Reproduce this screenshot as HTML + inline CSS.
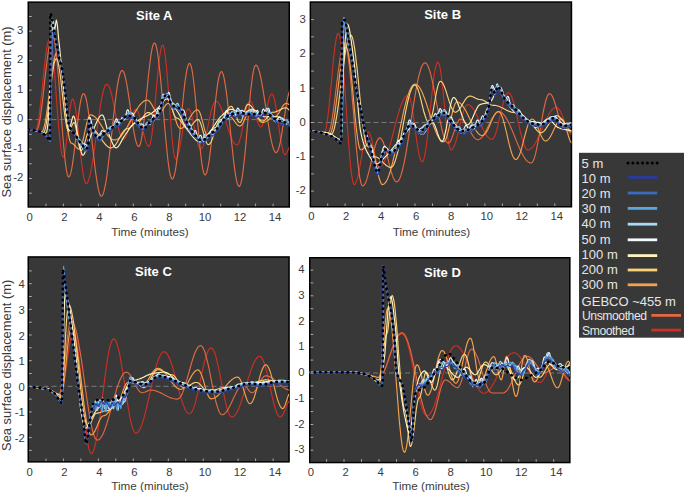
<!DOCTYPE html>
<html><head><meta charset="utf-8"><style>
html,body{margin:0;padding:0;background:#fff;width:685px;height:494px;overflow:hidden}
svg{display:block}
text{font-family:"Liberation Sans", sans-serif;}
.tl{font-size:11.3px;fill:#3a3a3a}
.ti{font-size:13px;font-weight:bold;fill:#fff}
.xl{font-size:11.7px;fill:#3c3c3c}
.yl{font-size:12.9px;fill:#3a3a3a}
.lg{font-size:13px;fill:#e6e6e6}
.lg2{font-size:12.2px;fill:#e6e6e6;letter-spacing:-0.45px}
</style></head><body>
<svg width="685" height="494" viewBox="0 0 685 494">
<clipPath id="clipA"><rect x="28.25" y="2.15" width="261.00" height="204.80"/></clipPath><rect x="28.25" y="2.15" width="261.00" height="204.80" fill="#383838" stroke="#000" stroke-width="1.5"/><g clip-path="url(#clipA)"><line x1="27.5" y1="119.6" x2="290.0" y2="119.6" stroke="#8a8a8a" stroke-width="0.8" stroke-dasharray="5,3"/><path d="M28.5 129.6 29.2 129.6 29.9 129.7 30.6 129.7 31.3 129.8 32.0 129.9 32.7 130.0 33.4 130.1 34.1 130.1 34.8 130.2 35.5 130.2 36.2 129.6 36.9 128.0 37.6 125.2 38.3 121.5 39.0 116.9 39.7 111.4 40.4 105.4 41.1 98.8 41.9 91.8 42.6 84.7 43.3 77.6 44.0 70.6 44.7 64.0 45.4 57.9 46.1 52.5 46.8 47.9 47.5 44.1 48.2 41.4 48.9 39.7 49.6 39.2 50.4 40.0 51.1 42.4 51.8 46.3 52.5 51.6 53.2 58.2 53.9 65.9 54.7 74.4 55.4 83.6 56.1 93.2 56.8 103.0 57.5 112.6 58.2 121.8 59.0 130.3 59.7 138.0 60.4 144.6 61.1 149.9 61.8 153.8 62.5 156.2 63.3 157.0 64.0 156.2 64.7 153.7 65.4 149.7 66.1 144.5 66.8 138.3 67.5 131.5 68.3 124.5 69.0 117.7 69.7 111.5 70.4 106.3 71.1 102.3 71.8 99.8 72.5 99.0 73.2 99.6 74.0 101.3 74.7 104.1 75.4 107.9 76.1 112.6 76.8 118.1 77.5 124.3 78.3 130.9 79.0 137.8 79.7 144.7 80.4 151.6 81.1 158.2 81.8 164.4 82.6 169.9 83.3 174.6 84.0 178.4 84.7 181.2 85.4 183.0 86.2 183.5 86.9 183.2 87.6 182.4 88.3 180.9 89.0 178.9 89.7 176.4 90.4 173.4 91.1 169.9 91.8 166.0 92.5 161.7 93.3 157.1 94.0 152.3 94.7 147.2 95.4 141.9 96.1 136.6 96.8 131.2 97.5 125.9 98.2 120.6 98.9 115.5 99.7 110.6 100.4 106.0 101.1 101.8 101.8 97.8 102.5 94.4 103.2 91.4 103.9 88.8 104.6 86.8 105.3 85.4 106.1 84.5 106.8 84.2 107.5 84.5 108.2 85.2 108.9 86.3 109.6 87.9 110.3 89.9 111.0 92.3 111.7 95.0 112.4 98.0 113.1 101.3 113.8 104.7 114.5 108.2 115.2 111.8 115.8 115.4 116.5 118.9 117.2 122.3 117.9 125.6 118.6 128.6 119.3 131.3 120.0 133.6 120.7 135.6 121.4 137.2 122.1 138.4 122.8 139.1 123.5 139.3 124.3 139.1 125.0 138.3 125.7 137.1 126.5 135.4 127.2 133.4 127.9 131.0 128.6 128.4 129.4 125.7 130.1 122.9 130.8 120.2 131.6 117.6 132.3 115.3 133.0 113.2 133.8 111.5 134.5 110.3 135.2 109.5 135.9 109.3 136.7 109.6 137.4 110.4 138.1 111.8 138.8 113.6 139.5 115.9 140.2 118.6 141.0 121.5 141.7 124.6 142.4 127.8 143.1 131.1 143.8 134.2 144.6 137.1 145.3 139.8 146.0 142.1 146.7 143.9 147.4 145.3 148.2 146.1 148.9 146.4 149.6 145.7 150.3 143.7 151.0 140.3 151.8 135.7 152.5 130.1 153.2 123.5 154.0 116.1 154.7 108.2 155.4 99.9 156.1 91.6 156.9 83.3 157.6 75.4 158.3 68.0 159.0 61.4 159.8 55.8 160.5 51.2 161.2 47.8 161.9 45.8 162.7 45.1 163.4 45.9 164.1 48.5 164.9 52.7 165.6 58.4 166.3 65.4 167.0 73.6 167.8 82.6 168.5 92.2 169.2 102.1 169.9 112.0 170.7 121.6 171.4 130.6 172.1 138.7 172.9 145.7 173.6 151.4 174.3 155.6 175.0 158.2 175.8 159.1 176.5 158.7 177.2 157.6 177.9 155.7 178.6 153.2 179.3 150.1 180.0 146.5 180.7 142.5 181.4 138.3 182.1 133.9 182.8 129.5 183.5 125.3 184.2 121.3 184.9 117.7 185.6 114.6 186.3 112.1 187.0 110.2 187.7 109.1 188.4 108.7 189.1 109.0 189.8 110.1 190.5 111.7 191.2 114.0 191.9 116.7 192.7 119.9 193.4 123.4 194.1 127.0 194.8 130.7 195.5 134.4 196.3 137.9 197.0 141.0 197.7 143.8 198.4 146.0 199.1 147.7 199.9 148.7 200.6 149.1 201.3 148.8 202.0 148.0 202.8 146.7 203.5 144.9 204.2 142.7 204.9 140.1 205.6 137.1 206.4 133.9 207.1 130.5 207.8 127.0 208.5 123.4 209.3 119.9 210.0 116.5 210.7 113.3 211.4 110.3 212.2 107.7 212.9 105.5 213.6 103.7 214.3 102.4 215.1 101.6 215.8 101.3 216.5 101.5 217.2 101.8 217.9 102.4 218.6 103.2 219.3 104.3 220.0 105.5 220.7 106.9 221.4 108.5 222.1 110.3 222.8 112.2 223.5 114.3 224.2 116.4 224.9 118.6 225.6 120.9 226.3 123.1 227.1 125.4 227.8 127.7 228.5 129.9 229.2 132.0 229.9 134.0 230.6 135.9 231.3 137.7 232.0 139.3 232.7 140.8 233.4 142.0 234.1 143.1 234.8 143.9 235.5 144.5 236.2 144.8 236.9 144.9 237.6 144.6 238.4 143.6 239.1 142.0 239.8 139.8 240.6 137.1 241.3 134.0 242.0 130.5 242.7 126.8 243.5 123.0 244.2 119.2 244.9 115.5 245.7 112.0 246.4 108.9 247.1 106.2 247.8 104.0 248.6 102.4 249.3 101.4 250.0 101.0 250.7 101.3 251.5 102.2 252.2 103.5 252.9 105.3 253.6 107.5 254.4 110.0 255.1 112.6 255.8 115.4 256.5 118.0 257.2 120.5 258.0 122.7 258.7 124.5 259.4 125.8 260.1 126.7 260.9 127.0 261.6 126.6 262.3 125.5 263.1 123.8 263.8 121.5 264.5 118.7 265.3 115.6 266.0 112.2 266.7 108.7 267.5 105.4 268.2 102.2 268.9 99.4 269.7 97.1 270.4 95.4 271.1 94.3 271.9 94.0 272.6 94.4 273.3 95.8 274.1 98.0 274.8 101.1 275.5 104.8 276.3 109.1 277.0 113.9 277.8 119.0 278.5 124.3 279.2 129.6 280.0 134.7 280.7 139.5 281.4 143.8 282.2 147.6 282.9 150.6 283.7 152.8 284.4 154.2 285.1 154.7 285.9 154.2 286.7 153.0 287.5 151.3 288.2 149.4 289.0 147.7 289.8 146.5 290.5 146.1" fill="none" stroke="#cd2f24" stroke-width="1.15" stroke-linejoin="round"/><path d="M28.5 129.6 29.2 129.6 29.9 129.7 30.6 129.8 31.4 129.9 32.1 130.0 32.8 130.1 33.5 130.2 34.2 130.3 34.9 130.4 35.6 130.5 36.4 130.5 37.1 130.1 37.8 128.7 38.5 126.6 39.2 123.6 39.9 119.9 40.6 115.5 41.3 110.5 42.0 105.0 42.7 99.1 43.4 92.8 44.1 86.4 44.8 80.0 45.5 73.6 46.3 67.4 47.0 61.5 47.7 55.9 48.4 50.9 49.1 46.5 49.8 42.8 50.5 39.8 51.2 37.7 51.9 36.4 52.6 35.9 53.3 36.7 54.1 38.8 54.8 42.3 55.5 47.1 56.3 53.2 57.0 60.3 57.7 68.3 58.5 77.2 59.2 86.6 59.9 96.4 60.6 106.5 61.4 116.5 62.1 126.4 62.8 135.8 63.6 144.6 64.3 152.7 65.0 159.8 65.8 165.8 66.5 170.7 67.2 174.2 68.0 176.3 68.7 177.0 69.4 176.6 70.1 175.2 70.8 172.9 71.5 169.8 72.2 165.9 72.9 161.4 73.6 156.2 74.3 150.6 75.0 144.6 75.8 138.5 76.5 132.2 77.2 126.1 77.9 120.1 78.6 114.5 79.3 109.4 80.0 104.8 80.7 100.9 81.4 97.8 82.1 95.5 82.8 94.1 83.5 93.7 84.2 94.1 85.0 95.3 85.7 97.3 86.4 100.0 87.1 103.5 87.8 107.6 88.5 112.3 89.2 117.5 89.9 123.1 90.7 129.1 91.4 135.3 92.1 141.7 92.8 148.2 93.5 154.5 94.2 160.8 94.9 166.8 95.6 172.4 96.4 177.6 97.1 182.3 97.8 186.4 98.5 189.9 99.2 192.6 99.9 194.6 100.6 195.8 101.3 196.2 102.1 195.8 102.8 194.7 103.5 192.9 104.2 190.4 104.9 187.2 105.7 183.4 106.4 179.0 107.1 174.0 107.8 168.6 108.5 162.8 109.2 156.6 110.0 150.1 110.7 143.5 111.4 136.7 112.1 129.9 112.8 123.1 113.5 116.5 114.3 110.0 115.0 103.8 115.7 98.0 116.4 92.6 117.1 87.6 117.8 83.2 118.6 79.4 119.3 76.2 120.0 73.7 120.7 71.9 121.4 70.8 122.1 70.4 122.9 70.8 123.6 71.8 124.3 73.5 125.0 75.9 125.7 78.9 126.5 82.5 127.2 86.5 127.9 90.9 128.6 95.7 129.4 100.7 130.1 105.8 130.8 111.0 131.5 116.1 132.2 121.1 133.0 125.9 133.7 130.3 134.4 134.3 135.1 137.9 135.8 140.9 136.6 143.3 137.3 145.0 138.0 146.1 138.7 146.4 139.5 145.9 140.2 144.3 140.9 141.7 141.6 138.2 142.3 133.8 143.0 128.6 143.7 122.7 144.5 116.2 145.2 109.3 145.9 102.1 146.6 94.7 147.3 87.3 148.0 80.1 148.7 73.2 149.5 66.8 150.2 60.8 150.9 55.6 151.6 51.2 152.3 47.7 153.0 45.1 153.7 43.5 154.5 43.0 155.2 43.5 155.9 45.1 156.6 47.8 157.3 51.4 158.0 56.0 158.7 61.4 159.4 67.7 160.2 74.6 160.9 82.1 161.6 90.0 162.3 98.3 163.0 106.8 163.7 115.3 164.4 123.8 165.2 132.1 165.9 140.0 166.6 147.5 167.3 154.4 168.0 160.7 168.7 166.1 169.4 170.7 170.1 174.3 170.9 177.0 171.6 178.6 172.3 179.1 173.0 178.6 173.7 177.1 174.4 174.7 175.2 171.4 175.9 167.1 176.6 162.2 177.3 156.5 178.0 150.2 178.8 143.4 179.5 136.2 180.2 128.8 180.9 121.2 181.6 113.7 182.4 106.2 183.1 99.1 183.8 92.3 184.5 86.0 185.2 80.3 186.0 75.3 186.7 71.1 187.4 67.7 188.1 65.3 188.9 63.8 189.6 63.3 190.3 63.9 191.0 65.6 191.7 68.4 192.4 72.2 193.1 77.0 193.8 82.6 194.5 89.0 195.2 96.0 195.9 103.4 196.6 111.2 197.3 119.2 198.1 127.1 198.8 134.9 199.5 142.3 200.2 149.3 200.9 155.7 201.6 161.3 202.3 166.1 203.0 169.9 203.7 172.7 204.4 174.4 205.1 175.0 205.8 174.5 206.5 173.1 207.2 170.7 207.9 167.5 208.7 163.4 209.4 158.6 210.1 153.1 210.8 147.1 211.5 140.6 212.2 133.8 212.9 126.8 213.6 119.8 214.3 112.8 215.0 106.0 215.7 99.5 216.4 93.5 217.1 88.0 217.8 83.2 218.5 79.1 219.2 75.9 220.0 73.5 220.7 72.1 221.4 71.6 222.1 72.0 222.8 73.4 223.5 75.6 224.2 78.7 224.9 82.6 225.6 87.2 226.4 92.4 227.1 98.2 227.8 104.6 228.5 111.3 229.2 118.3 229.9 125.4 230.6 132.6 231.3 139.8 232.1 146.8 232.8 153.5 233.5 159.8 234.2 165.6 234.9 170.9 235.6 175.5 236.3 179.4 237.0 182.4 237.8 184.7 238.5 186.0 239.2 186.5 239.9 185.9 240.6 184.2 241.4 181.4 242.1 177.6 242.8 172.9 243.5 167.2 244.2 160.8 245.0 153.7 245.7 146.1 246.4 138.1 247.1 129.9 247.8 121.6 248.6 113.4 249.3 105.5 250.0 97.9 250.7 90.8 251.5 84.4 252.2 78.7 252.9 73.9 253.6 70.1 254.3 67.3 255.1 65.7 255.8 65.1 256.5 65.4 257.2 66.1 257.9 67.4 258.6 69.1 259.3 71.4 260.0 74.0 260.7 77.1 261.4 80.5 262.1 84.3 262.8 88.4 263.5 92.7 264.2 97.1 264.9 101.8 265.7 106.5 266.4 111.2 267.1 115.9 267.8 120.6 268.5 125.0 269.2 129.3 269.9 133.4 270.6 137.2 271.3 140.6 272.0 143.7 272.7 146.3 273.4 148.6 274.1 150.3 274.8 151.6 275.5 152.3 276.2 152.6 276.9 152.2 277.7 151.2 278.4 149.4 279.1 147.0 279.8 144.1 280.6 140.6 281.3 136.6 282.0 132.3 282.7 127.7 283.5 123.0 284.2 118.2 284.9 113.5 285.6 109.0 286.4 104.6 287.1 100.7 287.8 97.2 288.5 94.2 289.3 91.8 290.0 90.1 290.7 89.0 291.4 88.7" fill="none" stroke="#e06943" stroke-width="1.15" stroke-linejoin="round"/><path d="M28.5 129.6 29.2 129.6 30.0 129.7 30.7 129.8 31.4 129.9 32.1 130.1 32.9 130.2 33.6 130.4 34.3 130.5 35.1 130.6 35.8 130.7 36.5 130.8 37.2 130.8 38.0 130.9 38.7 131.1 39.4 131.4 40.1 131.7 40.9 131.9 41.6 132.0 42.3 131.6 43.0 130.4 43.7 128.4 44.5 125.6 45.2 122.2 45.9 118.1 46.6 113.6 47.3 108.6 48.0 103.2 48.7 97.6 49.5 91.9 50.2 86.2 50.9 80.6 51.6 75.3 52.3 70.2 53.0 65.7 53.8 61.6 54.5 58.2 55.2 55.5 55.9 53.5 56.6 52.2 57.3 51.8 58.0 52.4 58.7 54.1 59.4 56.8 60.1 60.6 60.8 65.2 61.5 70.7 62.2 76.8 62.9 83.4 63.6 90.4 64.3 97.5 65.0 104.6 65.7 111.6 66.4 118.2 67.1 124.3 67.8 129.8 68.5 134.4 69.2 138.2 69.9 140.9 70.6 142.6 71.3 143.2 72.0 143.3 72.7 143.6 73.4 144.2 74.2 144.9 74.9 145.7 75.6 146.5 76.3 147.3 77.0 148.0 77.7 148.6 78.4 148.9 79.2 149.1 79.9 148.7 80.6 147.8 81.3 146.2 82.0 144.1 82.7 141.5 83.4 138.5 84.1 135.3 84.8 132.0 85.6 128.6 86.3 125.4 87.0 122.5 87.7 119.9 88.4 117.8 89.1 116.2 89.8 115.2 90.5 114.9 91.2 114.9 91.9 115.1 92.6 115.4 93.3 115.7 94.0 116.2 94.7 116.8 95.4 117.4 96.2 118.2 96.9 119.0 97.6 119.9 98.3 120.8 99.0 121.8 99.7 122.9 100.4 124.0 101.1 125.1 101.8 126.3 102.5 127.4 103.2 128.6 103.9 129.7 104.6 130.8 105.3 131.9 106.0 133.0 106.7 134.0 107.4 135.0 108.1 135.8 108.8 136.7 109.5 137.4 110.2 138.1 110.9 138.6 111.6 139.1 112.3 139.4 113.0 139.7 113.7 139.9 114.5 139.9 115.2 139.9 115.9 139.7 116.6 139.5 117.3 139.2 118.0 138.8 118.7 138.3 119.5 137.7 120.2 137.0 120.9 136.3 121.6 135.5 122.3 134.6 123.0 133.6 123.7 132.6 124.4 131.5 125.2 130.4 125.9 129.2 126.6 128.0 127.3 126.7 128.0 125.4 128.7 124.1 129.4 122.7 130.2 121.4 130.9 120.0 131.6 118.7 132.3 117.3 133.0 116.0 133.7 114.7 134.4 113.4 135.2 112.1 135.9 110.9 136.6 109.7 137.3 108.6 138.0 107.5 138.7 106.5 139.4 105.5 140.2 104.6 140.9 103.8 141.6 103.1 142.3 102.4 143.0 101.8 143.7 101.3 144.4 100.9 145.2 100.6 145.9 100.3 146.6 100.2 147.3 100.2 148.0 100.3 148.7 100.7 149.4 101.3 150.1 102.1 150.8 103.2 151.6 104.3 152.3 105.6 153.0 106.9 153.7 108.3 154.4 109.5 155.1 110.7 155.8 111.7 156.5 112.6 157.2 113.2 157.9 113.6 158.7 113.7 159.4 113.6 160.1 113.1 160.9 112.4 161.6 111.5 162.3 110.4 163.1 109.2 163.8 107.9 164.6 106.7 165.3 105.6 166.0 104.7 166.8 104.0 167.5 103.5 168.3 103.4 169.0 103.6 169.7 104.2 170.4 105.3 171.1 106.7 171.9 108.4 172.6 110.3 173.3 112.5 174.0 114.8 174.7 117.1 175.5 119.3 176.2 121.5 176.9 123.5 177.6 125.2 178.3 126.6 179.1 127.6 179.8 128.2 180.5 128.4 181.2 128.4 181.9 128.1 182.6 127.7 183.3 127.2 184.1 126.5 184.8 125.7 185.5 124.8 186.2 123.8 186.9 122.7 187.6 121.6 188.3 120.4 189.0 119.2 189.8 117.9 190.5 116.8 191.2 115.6 191.9 114.5 192.6 113.5 193.3 112.6 194.0 111.8 194.8 111.1 195.5 110.6 196.2 110.2 196.9 110.0 197.6 109.9 198.3 110.2 199.1 111.1 199.8 112.5 200.5 114.4 201.2 116.7 201.9 119.3 202.7 122.1 203.4 125.0 204.1 127.8 204.8 130.4 205.6 132.7 206.3 134.7 207.0 136.1 207.7 137.0 208.4 137.3 209.2 137.2 209.9 136.8 210.6 136.2 211.3 135.4 212.0 134.3 212.8 133.2 213.5 131.9 214.2 130.6 214.9 129.2 215.6 127.9 216.4 126.6 217.1 125.5 217.8 124.5 218.5 123.6 219.2 123.0 220.0 122.7 220.7 122.5 221.4 122.4 222.1 122.2 222.9 121.7 223.6 121.1 224.3 120.4 225.0 119.6 225.8 118.8 226.5 118.1 227.2 117.5 227.9 117.0 228.7 116.8 229.4 116.7 230.2 116.8 230.9 117.1 231.7 117.7 232.4 118.4 233.1 119.3 233.9 120.3 234.6 121.4 235.4 122.4 236.1 123.4 236.9 124.3 237.6 125.1 238.4 125.6 239.1 126.0 239.9 126.1 240.6 125.9 241.4 125.3 242.1 124.4 242.9 123.2 243.6 121.7 244.4 120.1 245.1 118.4 245.9 116.7 246.6 115.1 247.4 113.6 248.1 112.4 248.9 111.5 249.6 111.0 250.4 110.8 251.1 110.9 251.8 111.2 252.5 111.6 253.2 112.3 254.0 113.1 254.7 114.0 255.4 115.0 256.1 116.1 256.8 117.2 257.6 118.3 258.3 119.3 259.0 120.2 259.7 121.0 260.4 121.7 261.2 122.1 261.9 122.4 262.6 122.5 263.3 122.5 264.0 122.3 264.8 122.1 265.5 121.8 266.2 121.4 266.9 120.9 267.6 120.4 268.4 119.9 269.1 119.3 269.8 118.8 270.5 118.3 271.2 117.8 271.9 117.4 272.7 117.1 273.4 116.9 274.1 116.7 274.8 116.7 275.5 116.5 276.2 116.1 277.0 115.5 277.7 114.7 278.4 113.7 279.1 112.6 279.8 111.3 280.5 110.0 281.2 108.7 281.9 107.5 282.6 106.3 283.3 105.3 284.1 104.5 284.8 103.9 285.5 103.5 286.2 103.4 286.9 103.5 287.6 103.8 288.4 104.1 289.1 104.5 289.8 104.8 290.5 104.9" fill="none" stroke="#f5a24e" stroke-width="1.15" stroke-linejoin="round"/><path d="M28.5 129.6 29.2 129.6 30.0 129.7 30.7 129.8 31.4 129.9 32.1 130.1 32.9 130.2 33.6 130.4 34.3 130.5 35.1 130.6 35.8 130.7 36.5 130.8 37.2 130.8 38.0 130.9 38.8 131.1 39.5 131.4 40.3 131.8 41.1 132.2 41.8 132.6 42.6 132.8 43.3 132.9 44.1 132.3 44.8 130.6 45.5 127.9 46.2 124.2 46.9 119.6 47.7 114.3 48.4 108.4 49.1 102.2 49.8 95.7 50.5 89.3 51.2 83.0 52.0 77.2 52.7 71.9 53.4 67.3 54.1 63.6 54.8 60.9 55.6 59.2 56.3 58.6 57.0 59.2 57.7 61.1 58.5 64.1 59.2 68.1 59.9 73.1 60.7 78.8 61.4 85.0 62.1 91.6 62.8 98.4 63.6 105.0 64.3 111.2 65.0 116.9 65.8 121.9 66.5 125.9 67.2 128.9 68.0 130.8 68.7 131.4 69.4 130.9 70.2 129.7 70.9 127.9 71.7 126.0 72.4 124.2 73.2 123.0 73.9 122.5 74.7 123.4 75.5 125.8 76.3 129.5 77.0 134.1 77.8 139.0 78.6 143.5 79.4 147.3 80.1 149.7 80.9 150.5 81.6 150.2 82.4 149.3 83.1 147.8 83.9 145.8 84.6 143.4 85.3 140.8 86.1 138.2 86.8 135.6 87.6 133.2 88.3 131.2 89.0 129.7 89.8 128.8 90.5 128.4 91.2 128.5 91.9 128.7 92.7 128.9 93.4 129.3 94.1 129.8 94.8 130.4 95.5 131.1 96.2 131.9 96.9 132.7 97.6 133.6 98.3 134.6 99.0 135.6 99.8 136.6 100.5 137.6 101.2 138.7 101.9 139.7 102.6 140.8 103.3 141.8 104.0 142.7 104.7 143.6 105.4 144.5 106.2 145.2 106.9 145.9 107.6 146.5 108.3 147.0 109.0 147.4 109.7 147.7 110.4 147.8 111.1 147.9 111.8 147.8 112.5 147.5 113.3 147.1 114.0 146.5 114.7 145.7 115.4 144.8 116.1 143.8 116.8 142.7 117.5 141.5 118.2 140.3 118.9 139.0 119.6 137.7 120.3 136.4 121.0 135.1 121.7 133.9 122.4 132.8 123.1 131.8 123.8 130.9 124.6 130.1 125.3 129.5 126.0 129.1 126.7 128.8 127.4 128.7 128.1 128.6 128.8 128.4 129.6 128.0 130.3 127.4 131.0 126.7 131.7 126.0 132.5 125.3 133.2 124.5 133.9 123.9 134.6 123.3 135.4 122.9 136.1 122.6 136.8 122.5 137.5 122.4 138.3 122.2 139.0 121.7 139.7 121.1 140.4 120.3 141.1 119.5 141.9 118.5 142.6 117.5 143.3 116.6 144.0 115.6 144.7 114.8 145.5 114.0 146.2 113.4 146.9 112.9 147.6 112.6 148.3 112.5 149.1 112.6 149.9 112.9 150.7 113.4 151.4 114.0 152.2 114.6 153.0 115.2 153.7 115.8 154.5 116.3 155.3 116.6 156.0 116.7 156.7 116.4 157.4 115.8 158.1 114.8 158.8 113.5 159.5 111.9 160.2 110.0 160.9 108.1 161.6 106.1 162.3 104.1 163.0 102.3 163.7 100.7 164.4 99.3 165.1 98.3 165.8 97.7 166.5 97.5 167.3 97.8 168.0 98.5 168.8 99.8 169.5 101.4 170.3 103.3 171.0 105.5 171.8 107.8 172.5 110.1 173.3 112.3 174.0 114.2 174.7 115.9 175.5 117.1 176.2 117.9 177.0 118.1 177.7 118.3 178.5 118.6 179.2 119.3 180.0 120.1 180.7 121.0 181.5 122.1 182.2 123.3 183.0 124.4 183.7 125.5 184.5 126.5 185.2 127.3 186.0 127.9 186.7 128.3 187.5 128.4 188.2 128.3 189.0 128.0 189.7 127.5 190.5 126.8 191.2 125.9 192.0 125.0 192.7 124.0 193.5 123.0 194.2 122.1 195.0 121.3 195.7 120.6 196.5 120.0 197.2 119.7 198.0 119.6 198.7 119.9 199.4 120.7 200.1 122.0 200.8 123.7 201.5 125.9 202.2 128.3 202.9 130.8 203.5 133.4 204.2 136.0 204.9 138.4 205.6 140.5 206.3 142.2 207.0 143.6 207.7 144.4 208.4 144.6 209.2 144.4 209.9 143.8 210.6 142.8 211.3 141.4 212.0 139.7 212.8 137.7 213.5 135.5 214.2 133.3 214.9 131.0 215.6 128.7 216.4 126.5 217.1 124.6 217.8 122.9 218.5 121.5 219.2 120.4 220.0 119.8 220.7 119.6 221.4 119.4 222.2 118.9 222.9 118.2 223.7 117.1 224.4 115.8 225.2 114.4 225.9 113.0 226.7 111.5 227.4 110.1 228.2 108.8 228.9 107.8 229.7 107.0 230.4 106.5 231.2 106.3 231.9 106.6 232.6 107.4 233.3 108.7 234.1 110.4 234.8 112.3 235.5 114.4 236.2 116.5 237.0 118.5 237.7 120.2 238.4 121.5 239.2 122.3 239.9 122.5 240.6 122.2 241.3 121.1 242.1 119.4 242.8 117.2 243.5 114.7 244.3 112.1 245.0 109.6 245.7 107.4 246.5 105.7 247.2 104.7 247.9 104.3 248.7 104.4 249.4 104.7 250.1 105.2 250.9 105.9 251.6 106.7 252.3 107.7 253.1 108.9 253.8 110.1 254.5 111.4 255.3 112.7 256.0 114.0 256.7 115.3 257.5 116.5 258.2 117.6 258.9 118.6 259.7 119.5 260.4 120.2 261.1 120.7 261.9 121.0 262.6 121.1 263.3 121.0 264.1 120.6 264.8 120.1 265.6 119.4 266.3 118.6 267.1 117.6 267.8 116.7 268.6 115.7 269.3 114.7 270.1 113.9 270.8 113.2 271.6 112.7 272.3 112.3 273.1 112.2 273.8 112.2 274.5 112.1 275.3 111.9 276.0 111.7 276.7 111.4 277.4 111.1 278.2 110.8 278.9 110.4 279.6 110.0 280.4 109.6 281.1 109.3 281.8 108.9 282.5 108.6 283.3 108.3 284.0 108.1 284.7 107.9 285.5 107.8 286.2 107.8 286.9 108.0 287.6 108.6 288.4 109.3 289.1 110.0 289.8 110.6 290.5 110.8" fill="none" stroke="#fbd27a" stroke-width="1.15" stroke-linejoin="round"/><path d="M28.5 129.6 29.0 129.7 29.5 129.8 30.1 129.9 30.6 130.0 31.1 130.0 31.6 130.1 32.2 130.2 32.7 130.3 33.2 130.4 33.7 130.4 34.3 130.5 34.8 130.6 35.3 130.7 35.8 130.8 36.4 130.9 36.9 131.0 37.4 131.1 37.9 131.2 38.5 131.3 39.0 131.4 39.5 131.5 40.1 131.7 40.6 131.9 41.1 132.1 41.7 132.3 42.2 132.5 42.7 132.7 43.3 132.9 43.8 133.1 44.4 133.2 44.9 133.3 45.4 133.4 46.7 131.9 47.4 128.4 48.2 121.4 48.9 110.8 49.5 100.4 50.1 87.3 50.6 73.4 51.2 60.7 51.9 44.1 52.6 28.3 53.3 21.2 54.0 25.5 54.7 29.7 55.2 27.2 55.8 22.5 56.3 20.0 56.8 21.6 57.4 25.8 58.0 31.4 58.5 37.5 59.1 43.0 59.7 48.2 60.2 53.7 60.8 59.3 61.4 65.1 62.0 70.8 62.6 76.6 63.1 82.2 63.7 87.8 64.3 93.1 64.9 98.4 65.4 104.3 66.0 110.5 66.5 116.4 67.0 121.7 67.6 126.0 68.1 128.9 68.7 129.9 69.2 129.4 69.8 128.2 70.3 126.3 70.9 124.1 71.4 121.8 71.9 119.7 72.5 117.8 73.0 116.5 73.6 116.1 74.1 116.6 74.6 118.0 75.1 120.1 75.7 122.7 76.2 125.7 76.7 128.8 77.2 131.9 77.8 134.8 78.3 137.3 78.8 139.8 79.4 142.7 79.9 145.7 80.5 148.6 81.0 151.2 81.6 153.3 82.1 154.7 82.7 155.2 83.2 155.1 83.7 154.6 84.3 153.8 84.8 152.8 85.4 151.6 85.9 150.2 86.5 148.7 87.0 147.0 87.6 145.3 88.1 143.6 88.7 141.8 89.2 140.1 89.8 138.5 90.3 137.0 90.8 135.6 91.4 134.3 91.9 133.2 92.5 132.0 93.0 130.7 93.6 129.4 94.1 128.2 94.6 126.8 95.2 125.5 95.7 124.3 96.3 123.0 96.8 121.8 97.3 120.7 97.9 119.6 98.4 118.6 99.0 117.7 99.5 116.9 100.1 116.2 100.6 115.6 101.1 115.2 101.7 115.0 102.2 114.9 102.8 115.2 103.3 116.0 103.9 117.2 104.4 118.8 105.0 120.7 105.5 122.7 106.1 124.8 106.6 127.0 107.2 129.1 107.8 131.1 108.3 132.9 108.9 134.3 109.4 135.6 110.0 137.0 110.5 138.4 111.1 139.8 111.6 141.2 112.2 142.5 112.7 143.8 113.3 144.9 113.8 145.9 114.4 146.7 114.9 147.3 115.5 147.7 116.0 147.9 116.6 147.8 117.1 147.5 117.6 147.1 118.2 146.5 118.7 145.9 119.2 145.1 119.8 144.2 120.3 143.3 120.8 142.4 121.4 141.4 121.9 140.3 122.4 139.4 123.0 138.4 123.5 137.5 124.0 136.6 124.6 135.8 125.1 135.0 125.7 134.3 126.2 133.4 126.8 132.6 127.3 131.8 127.9 131.0 128.4 130.2 129.0 129.4 129.5 128.6 130.0 127.8 130.6 127.1 131.1 126.4 131.7 125.7 132.2 125.1 132.8 124.5 133.3 124.0 133.9 123.5 134.4 123.1 135.0 122.6 135.5 122.2 136.0 121.8 136.6 121.4 137.1 121.1 137.7 120.7 138.2 120.4 138.8 120.0 139.3 119.7 139.9 119.4 140.4 119.1 141.0 118.8 141.5 118.4 142.1 118.1 142.6 117.8 143.1 117.5 143.7 117.3 144.2 117.0 144.8 116.7 145.3 116.5 145.9 116.2 146.4 116.0 147.0 115.7 147.5 115.5 148.1 115.2 148.6 114.9 149.2 114.7 149.7 114.4 150.2 114.0 150.8 113.7 151.3 113.4 151.9 113.0 152.4 112.6 153.0 112.2 153.5 111.7 154.1 111.3 154.6 110.8 155.2 110.4 155.7 109.9 156.2 109.4 156.8 108.9 157.3 108.4 157.9 107.9 158.4 107.4 159.0 106.9 159.5 106.3 160.1 105.8 160.6 105.1 161.1 104.4 161.7 103.7 162.2 103.0 162.8 102.2 163.3 101.5 163.8 100.8 164.4 100.2 164.9 99.7 165.4 99.3 166.0 99.1 166.5 99.0 167.1 99.0 167.6 99.2 168.2 99.5 168.7 99.8 169.3 100.3 169.8 100.8 170.4 101.3 170.9 102.0 171.5 102.7 172.0 103.4 172.6 104.2 173.1 105.0 173.7 105.8 174.2 106.7 174.8 107.5 175.3 108.3 175.9 109.2 176.4 110.0 177.0 110.8 177.5 111.6 178.1 112.5 178.7 113.4 179.2 114.4 179.8 115.4 180.3 116.5 180.9 117.6 181.4 118.8 182.0 119.9 182.5 121.1 183.1 122.2 183.6 123.3 184.2 124.4 184.7 125.5 185.3 126.5 185.8 127.4 186.4 128.3 186.9 129.2 187.5 129.9 188.0 130.6 188.5 131.3 189.1 132.0 189.6 132.7 190.1 133.4 190.7 134.1 191.2 134.8 191.7 135.5 192.3 136.2 192.8 136.8 193.3 137.4 193.9 138.0 194.4 138.6 194.9 139.1 195.5 139.6 196.0 140.1 196.5 140.5 197.0 140.8 197.6 141.1 198.1 141.4 198.6 141.6 199.2 141.7 200.3 141.6 200.8 141.5 201.4 141.3 201.9 140.9 202.5 140.5 203.0 140.1 203.6 139.6 204.1 139.0 204.7 138.4 205.2 137.7 205.8 137.0 206.3 136.3 206.9 135.6 207.4 134.9 208.0 134.2 208.5 133.4 209.1 132.7 209.6 132.0 210.2 131.4 210.7 130.7 211.3 130.0 211.8 129.2 212.4 128.5 212.9 127.6 213.5 126.8 214.0 125.9 214.6 125.0 215.2 124.2 215.7 123.3 216.3 122.4 216.8 121.6 217.4 120.8 217.9 120.0 218.5 119.2 219.0 118.5 219.6 117.8 220.1 117.2 220.7 116.7 221.2 116.1 221.8 115.6 222.3 115.1 222.9 114.5 223.4 114.0 224.0 113.5 224.5 112.9 225.1 112.5 225.6 112.0 226.2 111.5 226.7 111.1 227.3 110.7 227.8 110.4 228.4 110.0 228.9 109.8 229.5 109.6 230.0 109.4 230.6 109.3 231.7 109.3 232.3 109.4 232.8 109.6 233.4 109.8 233.9 110.0 234.5 110.3 235.0 110.6 235.6 111.0 236.1 111.3 236.7 111.7 237.2 112.0 237.8 112.4 238.3 112.7 238.9 113.0 239.4 113.2 240.0 113.4 240.5 113.6 241.1 113.7 242.2 113.7 242.7 113.6 243.2 113.4 243.7 113.2 244.3 113.0 244.8 112.8 245.3 112.5 245.8 112.2 246.4 111.8 246.9 111.5 247.4 111.2 247.9 110.8 248.4 110.5 249.0 110.2 249.5 110.0 250.0 109.7 250.5 109.6 251.1 109.4 251.6 109.3 252.6 109.3 253.2 109.4 253.7 109.6 254.2 109.9 254.8 110.2 255.3 110.5 255.8 110.9 256.4 111.3 256.9 111.8 257.4 112.3 258.0 112.7 258.5 113.2 259.0 113.7 259.6 114.2 260.1 114.6 260.6 115.0 261.2 115.4 261.7 115.8 262.2 116.1 262.7 116.3 263.3 116.5 263.8 116.6 264.9 116.7 265.9 116.7 267.0 116.7 268.1 116.7 269.1 116.7 270.2 116.7 271.3 116.7 272.3 116.7 273.4 116.7 274.4 116.7 275.5 116.7 276.6 116.7 277.6 116.8 278.2 116.9 278.7 117.0 279.3 117.2 279.8 117.5 280.3 117.8 280.9 118.1 281.4 118.4 281.9 118.8 282.5 119.1 283.0 119.6 283.6 120.0 284.1 120.4 284.6 120.8 285.2 121.3 285.7 121.7 286.2 122.2 286.8 122.6 287.3 123.1 287.9 123.5 288.4 124.0 288.9 124.4 289.5 124.8 290.0 125.1 290.5 125.5" fill="none" stroke="#fdf5bd" stroke-width="1.15" stroke-linejoin="round"/><path d="M28.5 129.6 29.0 129.7 29.6 129.8 30.1 129.8 30.7 129.9 31.2 129.9 31.8 130.0 32.3 130.1 32.9 130.1 33.4 130.2 34.0 130.2 34.5 130.3 35.1 130.4 35.6 130.5 36.1 130.6 36.7 130.7 37.2 130.8 37.8 130.9 38.3 131.1 38.8 131.3 39.4 131.5 39.9 131.7 40.5 132.0 41.0 132.3 41.5 132.6 42.1 132.9 42.6 133.2 43.1 133.6 43.7 134.0 44.2 134.3 44.8 134.7 45.3 135.2 45.9 135.8 46.4 136.4 46.9 137.0 47.5 137.6 48.0 138.3 48.6 139.0 49.1 139.6 49.6 140.4 50.0 140.8 50.7 81.6 51.4 22.4 52.0 23.2 52.6 25.3 53.3 28.1 53.9 31.2 54.5 34.2 55.1 36.6 55.6 39.2 56.2 42.0 56.7 44.8 57.2 47.7 57.8 50.6 58.3 53.4 58.9 56.1 59.4 58.6 60.0 60.9 60.5 62.9 61.1 64.9 61.7 67.2 62.2 69.8 62.8 73.2 63.4 77.4 63.9 82.1 64.5 87.1 65.1 92.3 65.7 97.5 66.2 102.5 66.8 108.4 67.5 114.9 68.1 120.5 68.7 124.0 69.2 125.6 69.8 127.0 70.3 128.2 70.8 129.2 71.4 130.1 71.9 130.9 72.5 131.6 73.0 132.1 73.5 132.5 74.1 132.9 74.6 133.4 75.1 134.1 75.7 135.0 76.2 136.1 76.8 137.2 77.3 138.1 77.9 138.8 78.4 139.1 79.0 139.4 79.5 139.9 80.1 141.0 80.6 142.7 81.2 144.8 81.7 146.7 82.2 147.8 82.8 148.0 83.3 147.3 83.9 146.0 84.7 144.5 85.5 144.1 86.0 144.5 86.6 145.4 87.1 146.2 88.2 145.0 88.6 131.7 88.9 118.4 89.6 117.4 90.2 117.6 90.8 119.2 91.4 121.9 91.9 124.9 92.4 128.2 93.0 131.2 93.5 133.5 94.0 134.7 94.5 135.0 95.1 134.8 95.6 134.5 96.6 135.0 97.2 135.9 97.7 137.0 98.2 137.8 98.8 137.9 99.3 137.2 99.8 135.8 100.4 134.0 100.9 132.3 101.5 131.0 102.0 130.4 103.1 130.8 103.6 131.2 104.2 131.4 105.2 131.3 105.8 131.1 106.9 131.3 107.4 131.5 107.9 131.7 108.5 131.6 109.0 131.0 109.5 130.0 110.1 128.9 110.6 127.7 111.1 126.9 111.7 126.4 112.2 126.3 112.8 126.2 113.4 125.9 113.9 124.9 114.5 123.4 115.0 121.6 115.6 119.9 116.1 118.8 116.7 118.8 117.3 119.6 117.8 121.1 118.4 122.6 118.9 123.5 120.0 122.5 120.6 120.8 121.2 119.1 121.7 117.9 122.3 117.6 122.9 118.2 123.4 119.2 124.0 119.9 124.6 119.8 125.1 118.4 125.7 116.2 126.3 113.5 126.8 111.2 127.4 109.8 127.9 109.8 128.5 110.6 129.0 112.1 129.5 113.5 130.1 114.4 130.6 114.7 131.2 114.2 131.7 113.5 132.2 113.0 133.3 113.9 133.8 115.3 134.4 117.3 135.0 119.4 135.6 121.0 136.2 121.9 136.8 122.2 137.4 122.3 138.0 122.3 138.6 122.6 139.1 123.0 139.7 123.6 140.2 124.1 140.8 124.3 141.9 124.2 142.5 124.3 143.1 124.6 143.6 125.1 144.2 125.5 144.7 125.7 145.2 125.6 145.7 125.0 146.2 124.1 146.8 123.2 147.3 122.5 147.8 122.4 148.3 122.8 148.9 123.6 149.5 124.4 150.0 124.7 150.6 124.1 151.1 122.5 151.7 120.4 152.2 118.0 152.8 116.2 153.3 115.1 153.9 115.0 154.4 115.4 155.0 116.0 155.6 116.0 156.2 115.1 156.8 113.3 157.3 111.0 157.9 109.0 158.5 107.9 159.1 108.1 159.7 109.2 160.3 109.9 160.8 109.2 161.4 107.1 161.9 103.9 162.5 100.4 163.0 97.6 163.6 95.8 164.1 94.6 164.6 94.3 165.2 94.8 165.7 95.5 166.3 95.9 166.8 95.8 167.4 94.9 167.9 93.4 168.5 92.3 169.0 92.5 169.6 93.9 170.1 96.1 170.7 98.6 171.2 100.6 171.8 101.9 172.3 102.9 172.9 103.5 173.5 103.8 174.0 104.1 174.6 104.6 175.1 105.4 175.7 106.3 176.2 107.1 176.8 107.7 177.4 107.8 177.9 107.7 178.5 107.5 179.0 107.5 179.6 107.7 180.1 108.2 180.7 108.9 181.2 109.5 181.8 109.9 182.8 109.8 183.9 110.3 184.4 111.5 185.0 113.6 185.5 116.2 186.1 118.9 186.6 121.2 187.2 122.8 187.7 123.6 188.3 123.8 189.4 124.2 189.9 125.4 190.5 127.5 191.0 130.2 191.6 132.7 192.1 134.6 192.7 135.3 193.2 134.7 193.8 133.3 194.3 131.7 194.9 130.6 195.4 130.4 196.0 131.3 196.5 133.0 197.1 134.9 197.6 136.5 198.2 137.3 198.7 137.3 199.2 136.5 199.8 135.7 200.3 135.2 200.9 135.5 201.4 136.7 202.0 138.4 202.5 140.1 203.1 141.4 203.6 142.0 204.1 141.7 204.7 140.7 205.2 139.3 205.7 138.0 206.3 137.0 206.8 136.4 207.4 136.0 207.9 135.7 208.4 135.2 209.0 134.3 209.5 133.1 210.1 131.9 210.6 130.8 211.2 130.1 211.7 129.6 212.3 129.5 212.8 129.3 213.4 129.1 213.9 128.6 214.4 128.0 215.0 127.6 215.5 127.5 216.1 127.8 216.6 128.5 217.2 129.2 217.7 129.6 218.3 129.3 218.8 128.1 219.4 126.2 219.9 124.0 220.5 122.0 221.0 120.6 221.6 120.0 222.7 120.2 223.3 120.0 223.8 119.1 224.4 117.4 224.9 115.0 225.5 112.7 226.0 110.9 226.6 110.3 227.1 110.9 227.7 112.4 228.2 114.1 228.8 115.5 229.3 116.1 229.9 115.6 230.5 114.4 231.0 113.0 231.5 112.0 232.1 111.7 232.6 112.4 233.2 113.6 233.7 114.9 234.2 115.8 235.3 114.7 235.9 113.0 236.4 111.0 237.0 109.3 237.5 108.3 238.0 108.1 238.6 108.7 239.1 109.6 239.7 110.4 240.2 110.9 241.3 110.6 241.8 110.3 242.9 110.7 243.5 111.5 244.0 112.5 244.6 113.5 245.1 114.1 245.7 114.4 246.7 114.3 247.3 114.2 248.4 114.3 249.5 113.9 250.0 113.1 250.5 112.0 251.1 110.8 251.6 109.8 252.1 109.2 252.7 109.4 253.2 110.1 253.7 111.1 254.3 112.1 254.8 112.7 255.9 112.0 256.4 111.2 256.9 110.5 257.4 110.4 258.0 111.1 258.5 112.5 259.0 114.3 259.6 115.8 260.1 116.7 260.6 116.6 261.2 115.4 261.7 113.5 262.2 111.4 262.7 109.8 263.3 109.0 263.8 109.3 264.3 110.2 264.9 111.4 265.4 112.3 265.9 112.4 266.5 111.8 267.0 110.5 267.6 109.1 268.1 108.3 268.6 108.3 269.2 109.5 269.7 111.5 270.3 113.9 270.8 116.1 271.4 117.7 271.9 118.4 272.4 118.3 273.0 117.8 273.5 117.4 274.1 117.3 274.6 117.7 275.1 118.4 275.7 119.3 276.2 119.8 276.8 119.9 277.3 119.5 277.8 118.7 278.3 117.9 278.9 117.2 279.4 116.9 280.5 117.2 281.0 117.6 281.5 117.9 282.1 118.2 282.6 118.3 283.1 118.7 283.7 119.3 284.2 120.2 284.7 121.4 285.2 122.7 285.8 123.6 286.3 124.1 286.8 124.0 287.4 123.5 287.9 122.7 288.4 122.2 289.0 122.1 289.5 122.5 290.0 123.3 290.5 124.2" fill="none" stroke="#f2f9ff" stroke-width="1.1" stroke-linejoin="round"/><path d="M28.5 129.6 29.0 129.7 29.6 129.8 30.1 129.8 30.7 129.9 31.2 129.9 31.8 130.0 32.3 130.1 32.9 130.1 33.4 130.2 34.0 130.2 34.5 130.3 35.1 130.4 35.6 130.5 36.1 130.6 36.7 130.7 37.2 130.8 37.8 130.9 38.3 131.1 38.8 131.3 39.4 131.5 39.9 131.7 40.5 132.0 41.0 132.3 41.5 132.6 42.1 132.9 42.6 133.2 43.1 133.6 43.7 134.0 44.2 134.3 44.8 134.7 45.3 135.2 45.9 135.8 46.4 136.4 46.9 137.0 47.5 137.6 48.0 138.3 48.6 139.0 49.1 139.6 49.6 140.4 50.0 140.8 50.6 109.0 51.2 49.8 51.7 18.0 52.3 19.2 52.9 22.2 53.4 26.3 54.0 30.5 54.5 34.2 55.1 37.1 55.6 40.0 56.2 42.8 56.7 45.6 57.2 48.4 57.8 51.0 58.3 53.7 58.9 56.2 59.4 58.6 60.0 60.9 60.5 62.9 61.1 64.9 61.7 67.2 62.2 69.8 62.8 73.2 63.4 77.4 63.9 82.1 64.5 87.1 65.1 92.3 65.7 97.5 66.2 102.5 66.8 108.4 67.5 114.9 68.1 120.5 68.7 124.0 69.2 125.6 69.8 127.0 70.3 128.1 70.8 129.2 71.4 130.0 71.9 130.8 72.5 131.6 73.0 132.2 73.5 132.7 74.1 133.3 74.6 134.2 75.1 135.4 75.7 136.8 76.2 138.1 76.8 139.2 77.3 139.7 77.9 139.8 78.4 139.6 79.0 139.4 80.1 139.7 80.6 140.5 81.2 141.3 81.7 142.2 82.2 142.7 82.8 143.1 83.3 143.5 83.9 144.1 84.7 145.8 85.5 147.6 86.0 148.3 86.6 148.4 87.1 147.8 87.7 146.6 88.2 145.0 88.6 132.0 88.9 119.6 89.6 120.9 90.2 123.6 90.8 126.7 91.4 129.2 91.9 130.3 92.4 130.7 93.0 130.5 93.5 130.1 94.0 129.7 94.5 129.9 95.1 130.8 95.6 132.3 96.1 134.2 96.6 135.9 97.2 137.2 97.7 137.6 98.2 137.1 98.8 136.0 99.3 134.7 99.8 133.6 100.4 133.0 100.9 133.1 101.5 133.7 102.0 134.3 102.6 134.9 103.1 135.1 103.6 134.9 104.2 134.4 104.7 134.0 105.2 133.6 105.8 133.5 106.3 133.4 106.9 133.2 107.4 132.7 107.9 131.7 108.5 130.4 109.0 129.0 109.5 127.7 110.1 126.9 110.6 126.6 111.1 126.8 111.7 127.1 112.2 127.2 112.8 126.7 113.4 125.5 113.9 123.8 114.5 122.1 115.0 120.9 115.6 120.4 116.1 120.9 116.7 122.2 117.3 123.7 117.8 124.9 118.4 125.3 118.9 124.9 119.5 123.8 120.0 122.3 120.6 120.9 121.2 120.0 121.7 119.7 122.3 119.7 122.9 119.9 123.4 119.7 124.0 118.9 124.6 117.7 125.1 116.3 125.7 114.9 126.3 113.9 126.8 113.3 127.4 113.2 128.5 113.1 129.0 112.9 129.5 112.5 130.1 112.2 130.6 112.3 131.2 113.0 131.7 114.1 132.2 115.6 132.8 117.1 133.3 118.2 133.8 118.7 134.4 118.7 135.0 118.3 135.6 118.2 136.2 118.7 136.8 120.0 137.4 122.2 138.0 124.5 138.6 126.3 139.1 127.2 140.2 126.4 140.8 125.3 141.4 124.3 141.9 123.9 142.5 124.2 143.1 125.1 143.6 126.1 144.2 126.8 144.7 126.9 145.2 126.4 145.7 125.5 146.2 124.3 146.8 123.3 147.3 122.7 147.8 122.4 148.3 122.5 148.9 122.7 150.0 122.4 150.6 121.8 151.1 121.2 151.7 120.6 152.2 120.4 152.8 120.5 153.3 120.6 153.9 120.5 154.4 119.8 155.0 118.4 155.6 116.3 156.2 114.1 156.8 112.3 157.3 111.2 157.9 111.1 158.5 111.7 159.1 112.2 159.7 112.1 160.3 110.5 160.8 107.1 161.4 102.7 161.9 98.4 162.5 95.2 163.0 94.0 163.6 94.4 164.1 95.3 164.6 96.4 165.2 97.2 165.7 97.5 166.3 97.2 166.8 96.4 167.4 95.5 167.9 94.9 168.5 95.2 169.0 96.9 169.6 99.2 170.1 101.5 170.7 103.2 171.2 103.7 171.8 103.4 172.3 103.1 173.5 103.4 174.0 104.0 174.6 104.7 175.1 105.0 175.7 104.9 176.2 104.4 176.8 103.7 177.4 103.3 177.9 103.4 178.5 104.5 179.0 106.2 179.6 108.4 180.1 110.5 180.7 112.0 181.2 112.8 181.8 113.1 182.3 112.9 182.8 112.8 183.4 113.2 183.9 114.4 184.4 116.2 185.0 118.4 185.5 120.6 186.1 122.3 186.6 123.3 187.2 123.4 187.7 123.1 188.3 122.8 188.8 122.7 189.4 123.2 189.9 124.3 190.5 125.6 191.0 127.1 191.6 128.3 192.1 129.3 192.7 130.0 193.2 130.8 193.8 131.7 194.3 133.0 194.9 134.6 195.4 136.1 196.0 137.4 196.5 138.1 197.1 138.4 197.6 138.2 198.2 138.0 198.7 138.2 199.2 138.8 199.8 139.8 200.3 141.1 200.9 142.2 201.4 142.5 202.0 142.0 202.5 140.7 203.1 138.7 203.6 136.7 204.1 135.2 204.7 134.4 205.7 135.1 206.3 135.9 206.8 136.6 207.4 136.6 207.9 136.1 208.4 135.1 209.0 133.9 209.5 133.0 210.1 132.6 210.6 132.7 211.2 133.2 211.7 133.9 212.3 134.3 212.8 134.2 213.4 133.7 213.9 132.9 214.4 132.0 215.0 131.3 215.5 130.7 216.1 130.2 216.6 129.6 217.2 128.6 217.7 127.1 218.3 125.3 218.8 123.4 219.4 121.8 219.9 120.8 220.5 120.5 221.0 120.7 221.6 121.0 222.7 120.4 223.3 119.2 223.8 117.7 224.4 116.1 224.9 115.0 225.5 114.7 226.0 115.3 226.6 116.4 227.1 117.7 227.7 118.6 228.2 118.7 228.8 117.9 229.3 116.6 229.9 115.0 230.5 113.6 231.0 112.9 231.5 112.7 232.1 112.9 232.6 113.3 233.2 113.5 233.7 113.2 234.2 112.6 234.8 111.8 235.3 111.0 235.9 110.5 236.4 110.4 237.0 110.6 237.5 110.9 238.0 111.1 239.1 110.9 239.7 110.7 240.7 111.1 241.3 112.1 241.8 113.4 242.4 114.8 242.9 115.8 243.5 116.2 244.0 115.7 244.6 114.7 245.1 113.4 245.7 112.4 246.2 112.0 246.7 112.3 247.3 113.2 247.8 114.4 248.4 115.2 248.9 115.4 249.5 114.7 250.0 113.3 250.5 111.7 251.1 110.3 251.6 109.5 252.1 109.4 252.7 110.1 253.2 111.1 253.7 112.2 254.3 113.1 254.8 113.5 255.9 113.3 256.4 113.1 257.4 113.5 258.0 114.0 258.5 114.5 259.0 114.8 259.6 114.7 260.1 114.3 260.6 113.7 261.2 113.2 261.7 113.0 262.2 113.1 262.7 113.4 263.3 113.8 263.8 113.9 264.3 113.5 264.9 112.5 265.4 111.0 265.9 109.6 266.5 108.5 267.0 108.3 267.6 109.0 268.1 110.5 268.6 112.4 269.2 114.2 269.7 115.4 270.3 115.8 270.8 115.7 271.4 115.1 271.9 114.7 272.4 114.9 273.0 115.7 273.5 117.1 274.1 118.9 274.6 120.5 275.1 121.6 275.7 122.0 276.2 121.7 276.8 121.0 277.3 120.2 277.8 119.6 278.3 119.4 279.4 119.5 280.5 119.4 281.0 119.0 281.5 118.6 282.1 118.3 282.6 118.4 283.1 118.9 283.7 119.7 284.2 120.7 284.7 121.5 285.2 121.9 285.8 121.8 286.3 121.4 286.8 120.8 287.4 120.7 287.9 121.1 288.4 122.1 289.0 123.7 289.5 125.5 290.0 126.9 290.5 127.6" fill="none" stroke="#a9d9f2" stroke-width="1.1" stroke-linejoin="round"/><path d="M28.5 129.6 29.0 129.7 29.6 129.8 30.1 129.8 30.7 129.9 31.2 129.9 31.8 130.0 32.3 130.1 32.9 130.1 33.4 130.2 34.0 130.2 34.5 130.3 35.1 130.4 35.6 130.5 36.1 130.6 36.7 130.7 37.2 130.8 37.8 130.9 38.3 131.1 38.8 131.3 39.4 131.5 39.9 131.7 40.5 132.0 41.0 132.3 41.5 132.6 42.1 132.9 42.6 133.2 43.1 133.6 43.7 134.0 44.2 134.3 44.8 134.7 45.3 135.2 45.9 135.8 46.4 136.4 46.9 137.0 47.5 137.6 48.0 138.3 48.6 139.0 49.1 139.6 49.6 140.4 50.0 140.8 50.5 121.8 51.0 80.1 51.6 38.4 52.1 19.4 52.7 21.1 53.3 25.1 53.9 30.0 54.5 34.2 55.1 37.1 55.6 40.1 56.2 42.9 56.7 45.7 57.2 48.4 57.8 51.1 58.3 53.7 58.9 56.2 59.4 58.6 60.0 60.9 60.5 62.9 61.1 64.9 61.7 67.2 62.2 69.8 62.8 73.2 63.4 77.4 63.9 82.1 64.5 87.1 65.1 92.3 65.7 97.5 66.2 102.5 66.8 108.4 67.5 114.9 68.1 120.5 68.7 124.0 69.2 125.6 69.8 127.0 70.3 128.1 70.8 129.1 71.4 130.0 71.9 130.8 72.5 131.5 73.0 132.1 73.5 132.7 74.1 133.3 74.6 133.9 75.1 134.6 75.7 135.1 76.2 135.5 76.8 135.8 77.3 136.3 77.9 137.1 78.4 138.4 79.0 140.0 79.5 141.8 80.1 143.3 80.6 144.4 81.2 144.8 81.7 144.7 82.2 144.6 82.8 144.8 83.3 145.6 83.9 146.9 84.7 149.6 85.5 151.5 86.0 151.7 86.6 151.2 87.1 150.0 87.7 148.4 88.2 146.7 88.6 133.6 88.9 121.0 89.6 121.6 90.2 123.0 90.8 124.3 91.4 125.0 91.9 125.3 92.4 125.7 93.0 126.5 93.5 127.9 94.0 129.8 94.5 132.0 95.1 134.2 95.6 136.0 96.1 137.2 96.6 137.7 97.2 137.6 97.7 137.1 98.2 136.6 98.8 136.3 99.3 136.6 99.8 137.2 100.4 137.9 100.9 138.4 101.5 138.6 102.0 138.2 102.6 137.4 103.1 136.4 103.6 135.5 104.2 134.8 104.7 134.3 105.2 134.0 105.8 133.6 106.3 132.9 106.9 131.9 107.4 130.6 107.9 129.3 108.5 128.3 109.0 127.7 109.5 127.6 110.1 127.9 110.6 128.4 111.1 128.6 111.7 128.4 112.2 127.6 112.8 126.3 113.4 124.9 113.9 123.8 114.5 123.3 115.0 123.5 115.6 124.2 116.1 125.1 116.7 125.9 117.3 126.2 117.8 126.0 118.4 125.3 118.9 124.5 119.5 123.7 120.0 123.2 120.6 122.9 121.2 122.6 121.7 122.0 122.3 121.0 122.9 119.7 123.4 118.1 124.0 116.7 124.6 115.7 125.1 115.4 125.7 115.5 126.3 115.9 126.8 116.2 127.4 116.0 127.9 115.4 128.5 114.4 129.0 113.3 129.5 112.5 130.1 112.3 130.6 112.8 131.2 113.9 131.7 115.3 132.2 116.8 132.8 117.8 133.3 118.5 133.8 118.7 134.4 118.8 135.0 119.1 135.6 120.0 136.2 121.3 136.8 122.7 137.4 124.0 138.0 124.8 138.6 125.1 139.7 125.2 140.2 125.6 140.8 126.5 141.4 127.8 141.9 129.0 142.5 129.8 143.1 129.9 143.6 129.1 144.2 127.8 144.7 126.2 145.2 124.6 145.7 123.5 146.2 122.9 147.3 123.2 147.8 123.6 148.3 123.9 148.9 123.7 149.5 123.1 150.0 122.2 150.6 121.4 151.1 120.8 151.7 120.6 152.8 120.7 153.3 120.5 153.9 119.9 154.4 119.1 155.0 118.1 155.6 117.2 156.2 116.8 156.8 116.8 157.3 117.1 157.9 117.1 158.5 116.6 159.1 115.1 159.7 112.9 160.3 109.7 160.8 105.7 161.4 101.7 161.9 98.5 162.5 96.6 163.0 96.1 163.6 96.4 164.6 96.1 165.2 95.3 165.7 94.5 166.3 93.8 166.8 93.5 167.4 93.7 167.9 94.2 168.5 95.5 169.0 97.6 169.6 100.0 170.1 102.1 170.7 103.8 171.2 104.8 171.8 105.5 172.3 106.5 172.9 107.7 173.5 108.7 174.0 109.3 174.6 109.2 175.1 108.3 175.7 107.1 176.2 105.8 176.8 104.9 177.4 104.7 177.9 105.2 178.5 106.2 179.0 107.3 179.6 108.3 180.1 108.8 180.7 109.0 181.2 109.1 181.8 109.3 182.3 110.0 182.8 111.2 183.4 112.9 183.9 114.8 184.4 116.7 185.0 118.4 185.5 119.7 186.1 120.8 186.6 121.8 187.2 123.0 187.7 124.6 188.3 126.5 188.8 128.5 189.4 130.3 189.9 131.4 190.5 131.9 191.0 131.8 191.6 131.3 192.1 130.9 193.2 131.5 193.8 132.6 194.3 134.0 194.9 135.4 195.4 136.4 196.0 136.8 196.5 136.7 197.1 136.4 197.6 136.1 198.7 136.6 199.2 137.4 199.8 138.2 200.3 138.9 200.9 139.4 201.4 139.5 202.0 139.4 203.1 139.6 203.6 140.2 204.1 140.9 204.7 141.6 205.2 141.9 205.7 141.6 206.3 140.7 206.8 139.3 207.4 137.7 207.9 136.3 208.4 135.4 209.0 135.2 209.5 135.4 210.1 135.9 210.6 136.1 211.2 135.9 211.7 135.1 212.3 133.8 212.8 132.2 213.4 130.7 213.9 129.6 214.4 128.9 215.0 128.6 215.5 128.4 216.1 128.1 216.6 127.5 217.2 126.8 217.7 125.9 218.3 125.3 218.8 124.9 219.9 125.2 220.5 125.4 221.0 125.3 221.6 124.6 222.2 123.4 222.7 121.8 223.3 120.2 223.8 119.1 224.4 118.6 224.9 118.7 225.5 119.2 226.0 119.6 226.6 119.7 227.1 119.1 227.7 118.0 228.2 116.5 228.8 115.0 229.3 113.7 229.9 113.0 230.5 112.7 231.5 112.8 232.1 112.7 232.6 112.3 233.2 111.8 233.7 111.5 234.2 111.4 234.8 111.8 235.3 112.5 235.9 113.4 236.4 114.2 237.0 114.5 237.5 114.4 238.0 113.7 238.6 112.9 239.1 112.3 239.7 112.1 240.2 112.5 240.7 113.5 241.3 114.8 241.8 115.9 242.4 116.6 243.5 116.1 244.0 115.1 244.6 114.2 245.1 113.4 245.7 113.1 246.7 113.4 247.3 113.6 247.8 113.5 248.4 113.2 248.9 112.7 249.5 112.2 250.0 112.1 250.5 112.4 251.1 113.0 251.6 113.7 252.1 114.3 252.7 114.5 253.2 114.2 253.7 113.5 254.3 112.7 254.8 112.1 255.3 112.0 255.9 112.5 256.4 113.5 256.9 114.8 257.4 116.0 258.0 116.9 258.5 117.1 259.0 116.7 259.6 115.8 260.1 114.9 260.6 114.0 261.2 113.6 261.7 113.5 262.2 113.6 262.7 113.8 263.8 113.4 264.3 112.8 264.9 112.2 265.4 111.7 265.9 111.6 266.5 111.9 267.0 112.6 267.6 113.3 268.1 113.8 268.6 113.9 269.2 113.6 269.7 113.1 270.3 112.7 270.8 112.8 271.4 113.6 271.9 115.0 272.4 116.8 273.0 118.7 273.5 120.2 274.1 121.2 274.6 121.5 275.1 121.2 275.7 120.7 276.2 120.3 276.8 120.3 277.3 120.6 277.8 121.1 278.3 121.7 278.9 122.0 279.9 121.8 280.5 121.4 281.0 121.0 281.5 120.9 282.1 121.1 282.6 121.5 283.1 122.0 283.7 122.2 284.2 122.1 284.7 121.5 285.2 120.6 285.8 119.8 286.3 119.3 286.8 119.4 287.4 120.2 287.9 121.5 288.4 123.0 289.0 124.5 289.5 125.4 290.0 125.8 290.5 125.6" fill="none" stroke="#5aa6de" stroke-width="1.1" stroke-linejoin="round"/><path d="M28.5 129.6 29.0 129.7 29.6 129.8 30.1 129.8 30.7 129.9 31.2 129.9 31.8 130.0 32.3 130.1 32.9 130.1 33.4 130.2 34.0 130.2 34.5 130.3 35.1 130.4 35.6 130.5 36.1 130.6 36.7 130.7 37.2 130.8 37.8 130.9 38.3 131.1 38.8 131.3 39.4 131.5 39.9 131.7 40.5 132.0 41.0 132.3 41.5 132.6 42.1 132.9 42.6 133.2 43.1 133.6 43.7 134.0 44.2 134.3 44.8 134.7 45.3 135.2 45.9 135.8 46.4 136.4 46.9 137.0 47.5 137.6 48.0 138.3 48.6 139.0 49.1 139.6 49.6 140.4 50.0 140.8 50.6 129.5 51.2 102.4 51.8 70.2 52.4 43.1 53.0 31.8 53.5 32.2 54.0 33.1 54.5 34.2 55.1 35.7 55.6 37.8 56.2 40.4 56.7 43.4 57.2 46.6 57.8 49.9 58.3 53.0 58.9 56.0 59.4 58.6 60.0 60.9 60.5 62.9 61.1 64.9 61.7 67.2 62.2 69.8 62.8 73.2 63.4 77.4 63.9 82.1 64.5 87.1 65.1 92.3 65.7 97.5 66.2 102.5 66.8 108.4 67.5 114.9 68.1 120.5 68.7 124.0 69.2 125.6 69.8 126.9 70.3 128.1 70.8 129.1 71.4 130.0 71.9 130.7 72.5 131.4 73.0 132.2 73.5 133.0 74.1 133.9 74.6 134.7 75.1 135.5 75.7 136.2 76.2 136.8 76.8 137.6 77.3 138.5 77.9 139.7 78.4 140.9 79.0 142.0 79.5 142.9 80.1 143.5 80.6 143.9 81.2 144.3 81.7 144.9 82.2 145.9 82.8 147.1 83.3 148.3 83.9 149.2 84.7 150.0 85.5 149.4 86.0 148.3 86.6 147.1 87.1 146.2 87.7 145.6 88.2 145.0 88.6 132.6 88.9 120.6 89.6 121.9 90.2 123.6 90.8 125.3 91.4 126.6 91.9 127.6 92.4 129.0 93.0 130.6 93.5 132.5 94.0 134.2 94.5 135.7 95.1 136.7 95.6 137.4 96.1 137.7 96.6 138.0 97.2 138.3 97.7 138.9 98.2 139.6 98.8 140.3 99.3 140.9 99.8 141.0 100.4 140.6 100.9 139.6 101.5 138.3 102.0 136.9 102.6 135.7 103.1 134.9 103.6 134.4 104.2 134.1 104.7 133.8 105.2 133.3 105.8 132.5 106.3 131.6 106.9 130.6 107.4 129.9 107.9 129.6 108.5 129.7 109.0 130.1 109.5 130.5 110.1 130.8 110.6 130.6 111.1 130.0 111.7 129.0 112.2 127.9 112.8 127.0 113.4 126.5 114.5 126.8 115.0 127.3 115.6 127.5 116.1 127.4 116.7 127.0 117.3 126.4 117.8 125.8 118.4 125.4 118.9 125.3 120.0 125.2 120.6 124.8 121.2 123.8 121.7 122.3 122.3 120.5 122.9 118.8 123.4 117.5 124.0 116.8 124.6 116.6 125.1 116.7 125.7 116.9 126.8 116.6 127.4 116.0 127.9 115.5 128.5 115.1 129.0 115.1 129.5 115.3 130.1 115.8 130.6 116.4 131.2 116.8 131.7 117.0 132.2 116.9 132.8 116.7 133.8 117.0 134.4 118.1 135.0 119.8 135.6 121.8 136.2 123.6 136.8 125.0 137.4 125.8 138.0 126.0 138.6 125.9 139.1 125.9 139.7 126.4 140.2 127.2 140.8 128.2 141.4 129.1 141.9 129.6 142.5 129.8 143.1 129.5 143.6 129.0 144.2 128.6 144.7 128.3 145.2 128.1 145.7 128.0 146.2 127.7 146.8 127.2 147.3 126.2 147.8 124.9 148.3 123.5 148.9 122.0 149.5 120.9 150.0 120.3 150.6 120.2 151.1 120.5 151.7 120.9 152.2 121.1 152.8 120.9 153.3 120.5 153.9 119.8 154.4 119.2 155.0 118.8 155.6 118.7 156.2 118.8 156.8 118.8 157.3 118.5 157.9 117.7 158.5 116.3 159.1 114.7 159.7 113.2 160.3 111.4 160.8 109.0 161.4 106.4 161.9 104.0 162.5 101.9 163.0 100.5 163.6 99.5 164.1 98.2 164.6 96.8 165.2 95.6 165.7 94.9 166.3 94.5 167.4 94.5 168.5 94.9 169.0 96.1 169.6 97.9 170.1 100.0 170.7 102.2 171.2 104.0 171.8 105.5 172.3 106.9 172.9 108.0 173.5 108.5 174.6 108.1 175.1 107.6 175.7 107.4 176.2 107.5 176.8 108.1 177.4 108.9 177.9 109.7 178.5 110.3 179.0 110.6 179.6 110.7 180.7 111.0 181.2 111.7 181.8 112.9 182.3 114.3 182.8 115.8 183.4 117.0 183.9 117.8 184.4 118.3 185.0 118.5 185.5 118.8 186.1 119.3 186.6 120.2 187.2 121.6 187.7 123.3 188.3 125.1 188.8 126.7 189.4 127.9 189.9 128.7 190.5 129.3 191.0 129.9 191.6 130.7 192.1 131.7 192.7 133.0 193.2 134.2 193.8 135.2 194.3 135.8 194.9 136.2 195.4 136.4 196.0 136.7 196.5 137.3 197.1 138.3 197.6 139.7 198.2 141.2 198.7 142.5 199.2 143.4 199.8 143.7 200.3 143.5 200.9 142.8 201.4 142.1 202.0 141.4 202.5 141.1 203.1 140.9 203.6 140.8 204.1 140.6 204.7 140.1 205.2 139.3 205.7 138.3 206.3 137.4 206.8 136.6 207.4 136.2 208.4 136.4 209.0 136.7 209.5 136.6 210.1 136.1 210.6 135.2 211.2 134.0 211.7 132.9 212.3 132.0 212.8 131.7 213.4 131.8 213.9 132.1 214.4 132.6 215.0 132.7 215.5 132.6 216.1 132.0 216.6 131.3 217.2 130.6 217.7 130.0 218.3 129.6 218.8 129.3 219.4 128.8 219.9 128.1 220.5 126.9 221.0 125.3 221.6 123.5 222.2 121.9 222.7 120.6 223.3 119.9 223.8 119.7 224.4 119.8 224.9 119.9 225.5 119.6 226.0 118.9 226.6 117.8 227.1 116.6 227.7 115.5 228.2 114.6 228.8 114.2 229.9 114.3 230.5 114.4 231.0 114.3 231.5 114.0 232.1 113.5 232.6 113.3 233.2 113.3 233.7 113.8 234.2 114.7 234.8 115.7 235.3 116.6 235.9 117.0 236.4 117.0 237.0 116.4 237.5 115.7 238.0 114.9 238.6 114.4 239.1 114.3 239.7 114.5 240.2 115.0 240.7 115.3 241.3 115.4 241.8 115.2 242.4 114.8 242.9 114.3 243.5 114.1 244.6 114.4 245.1 114.9 245.7 115.3 246.2 115.4 246.7 115.0 247.3 114.3 247.8 113.4 248.4 112.6 248.9 112.2 249.5 112.4 250.0 113.0 250.5 113.8 251.1 114.7 251.6 115.3 252.1 115.6 253.2 115.3 253.7 115.1 254.8 115.3 255.3 115.7 255.9 116.2 256.4 116.5 257.4 116.1 258.0 115.4 258.5 114.8 259.0 114.4 260.1 114.7 260.6 115.4 261.2 116.1 261.7 116.6 262.7 116.2 263.3 115.4 263.8 114.5 264.3 113.6 264.9 113.0 265.4 112.8 265.9 112.9 266.5 113.2 267.0 113.5 267.6 113.6 268.1 113.5 268.6 113.4 269.7 113.8 270.3 114.6 270.8 115.8 271.4 117.1 271.9 118.3 272.4 119.2 273.0 119.5 273.5 119.5 274.1 119.2 274.6 119.0 275.1 119.1 275.7 119.6 276.2 120.4 276.8 121.4 277.3 122.4 277.8 123.0 278.3 123.4 279.4 123.2 279.9 123.1 280.5 123.2 281.0 123.5 281.5 124.0 282.1 124.4 282.6 124.5 283.1 124.3 283.7 123.6 284.2 122.8 284.7 122.0 285.2 121.4 285.8 121.3 286.3 121.7 286.8 122.5 287.4 123.3 287.9 124.1 288.4 124.5 289.5 124.2 290.0 123.9 290.5 123.6" fill="none" stroke="#3b6cc2" stroke-width="1.1" stroke-linejoin="round"/><path d="M28.5 129.6 29.0 129.7 29.6 129.8 30.1 129.8 30.7 129.9 31.2 129.9 31.8 130.0 32.3 130.1 32.9 130.1 33.4 130.2 34.0 130.2 34.5 130.3 35.1 130.4 35.6 130.5 36.1 130.6 36.7 130.7 37.2 130.8 37.8 130.9 38.3 131.1 38.8 131.3 39.4 131.5 39.9 131.7 40.5 132.0 41.0 132.3 41.5 132.6 42.1 132.9 42.6 133.2 43.1 133.6 43.7 134.0 44.2 134.3 44.8 134.7 45.3 135.2 45.9 135.8 46.4 136.4 46.9 137.0 47.5 137.6 48.0 138.3 48.6 139.0 49.1 139.6 49.6 140.4 50.0 140.8 50.6 86.0 51.2 31.2 51.8 31.3 52.3 31.6 52.9 32.1 53.4 32.7 54.0 33.4 54.5 34.2 55.1 35.4 55.6 37.4 56.2 40.0 56.7 43.0 57.2 46.2 57.8 49.6 58.3 52.9 58.9 56.0 59.4 58.6 60.0 60.9 60.5 62.9 61.1 64.9 61.7 67.2 62.2 69.8 62.8 73.2 63.4 77.4 63.9 82.1 64.5 87.1 65.1 92.3 65.7 97.5 66.2 102.5 66.8 108.4 67.5 114.9 68.1 120.5 68.7 124.0 69.2 125.6 69.8 126.9 70.3 128.1 70.8 129.1 71.4 129.9 71.9 130.7 72.5 131.4 73.0 132.1 73.5 132.7 74.1 133.3 74.6 133.9 75.1 134.7 75.7 135.6 76.2 136.6 76.8 137.7 77.3 138.8 77.9 139.8 78.4 140.5 79.0 140.9 79.5 141.2 80.1 141.5 80.6 142.0 81.2 142.9 81.7 144.1 82.2 145.5 82.8 146.7 83.3 147.8 83.9 148.6 84.7 149.7 85.5 150.5 86.0 150.7 86.6 151.0 87.1 151.2 87.7 151.0 88.2 150.1 88.6 137.2 88.9 124.6 89.6 124.7 90.2 125.5 90.8 126.7 91.4 128.1 91.9 129.4 92.4 131.0 93.0 132.5 93.5 134.0 94.0 135.2 94.5 136.1 95.1 136.8 95.6 137.5 96.1 138.3 96.6 139.2 97.2 140.1 97.7 140.9 98.2 141.3 98.8 141.2 99.3 140.6 99.8 139.6 100.4 138.3 100.9 137.1 101.5 136.1 102.0 135.5 102.6 135.3 103.6 135.1 104.2 134.9 104.7 134.4 105.2 133.7 105.8 133.1 106.3 132.7 106.9 132.5 107.4 132.6 107.9 132.9 108.5 133.2 109.5 132.9 110.1 132.3 110.6 131.4 111.1 130.6 111.7 129.8 112.2 129.4 112.8 129.3 113.4 129.3 113.9 129.4 114.5 129.2 115.0 128.8 115.6 128.2 116.1 127.5 116.7 126.9 117.3 126.5 117.8 126.5 118.4 126.6 119.5 126.4 120.0 125.7 120.6 124.7 121.2 123.3 121.7 121.9 122.3 120.7 122.9 119.8 123.4 119.2 124.0 118.8 124.6 118.4 125.1 117.9 125.7 117.2 126.3 116.5 126.8 115.9 127.4 115.7 127.9 116.0 128.5 116.6 129.0 117.3 129.5 118.0 130.1 118.4 130.6 118.6 131.2 118.4 131.7 118.1 132.2 117.9 133.3 118.2 133.8 118.8 134.4 119.7 135.0 120.8 135.6 121.9 136.2 122.7 136.8 123.5 137.4 124.3 138.0 125.2 138.6 126.4 139.1 127.7 139.7 129.1 140.2 130.3 140.8 131.0 141.4 131.3 141.9 131.3 142.5 131.0 143.1 130.7 143.6 130.5 144.2 130.4 144.7 130.2 145.2 129.9 145.7 129.2 146.2 128.3 146.8 127.2 147.3 126.0 147.8 124.9 148.3 124.2 148.9 123.8 149.5 123.7 150.6 123.7 151.1 123.4 151.7 122.7 152.2 121.7 152.8 120.6 153.3 119.6 153.9 118.9 154.4 118.5 155.0 118.3 155.6 118.2 156.2 118.1 156.8 117.7 157.3 117.1 157.9 116.3 158.5 115.7 159.1 115.2 159.7 114.9 160.3 114.1 160.8 112.1 161.4 109.3 161.9 106.2 162.5 103.3 163.0 101.3 163.6 100.1 164.1 99.1 164.6 98.5 165.2 98.1 165.7 98.0 166.3 97.8 166.8 97.5 167.4 97.1 167.9 96.5 168.5 96.7 169.0 98.0 169.6 100.1 170.1 102.7 170.7 105.1 171.2 106.7 171.8 107.4 172.3 107.8 172.9 107.7 173.5 107.3 174.0 107.0 174.6 106.8 175.1 106.9 175.7 107.2 176.2 107.7 176.8 108.2 177.4 108.5 177.9 108.5 179.0 108.6 179.6 108.9 180.1 109.7 180.7 110.9 181.2 112.5 181.8 114.2 182.3 115.7 182.8 117.1 183.4 118.2 183.9 119.1 184.4 120.0 185.0 121.0 185.5 122.2 186.1 123.6 186.6 125.0 187.2 126.2 187.7 127.3 188.3 128.0 188.8 128.5 189.4 129.0 189.9 129.7 190.5 130.6 191.0 131.9 191.6 133.2 192.1 134.5 192.7 135.5 193.2 136.1 193.8 136.3 194.9 136.3 195.4 136.5 196.0 136.9 196.5 137.6 197.1 138.5 197.6 139.2 198.2 139.7 198.7 139.9 199.8 140.0 200.3 140.1 200.9 140.4 201.4 141.1 202.0 141.9 202.5 142.6 203.1 143.0 204.1 142.7 204.7 142.0 205.2 141.2 205.7 140.5 206.3 140.0 206.8 139.8 207.4 139.7 207.9 139.5 208.4 139.3 209.0 138.8 209.5 138.0 210.1 137.2 210.6 136.4 211.2 135.9 211.7 135.8 212.3 135.8 212.8 136.0 213.9 135.7 214.4 134.9 215.0 133.9 215.5 132.7 216.1 131.6 216.6 130.7 217.2 130.1 217.7 129.5 218.3 129.0 218.8 128.2 219.4 127.1 219.9 125.8 220.5 124.4 221.0 123.1 221.6 122.2 222.2 121.7 222.7 121.5 223.8 121.6 224.4 121.4 224.9 120.8 225.5 119.9 226.0 119.0 226.6 118.2 227.1 117.6 227.7 117.4 228.8 117.4 229.3 117.3 229.9 117.0 230.5 116.6 231.0 116.1 231.5 115.7 232.1 115.7 232.6 115.9 233.2 116.5 233.7 117.1 234.2 117.6 234.8 117.8 235.3 117.7 235.9 117.3 236.4 116.7 237.0 116.1 237.5 115.8 238.0 115.7 238.6 115.8 239.1 115.9 239.7 115.8 240.2 115.5 240.7 115.0 241.3 114.3 241.8 113.7 242.4 113.4 242.9 113.5 243.5 114.0 244.0 114.6 244.6 115.3 245.1 115.7 245.7 115.8 246.2 115.7 246.7 115.3 247.3 115.1 247.8 115.0 248.4 115.2 248.9 115.5 249.5 115.9 250.0 116.2 251.1 116.0 251.6 115.6 252.1 115.3 252.7 115.1 253.2 115.2 253.7 115.7 254.3 116.4 254.8 117.1 255.3 117.7 255.9 117.9 256.4 117.8 256.9 117.5 257.4 117.1 258.0 116.7 258.5 116.5 259.6 116.8 260.1 116.9 261.2 116.5 261.7 115.9 262.2 115.2 262.7 114.6 263.3 114.2 264.3 114.4 264.9 114.9 265.4 115.3 265.9 115.7 266.5 115.8 267.0 115.6 267.6 115.4 268.1 115.2 269.2 115.5 269.7 116.1 270.3 116.8 270.8 117.4 271.4 117.8 271.9 118.0 273.0 117.9 273.5 118.1 274.1 118.6 274.6 119.4 275.1 120.4 275.7 121.5 276.2 122.5 276.8 123.1 277.3 123.3 278.3 123.3 279.4 123.5 279.9 124.0 280.5 124.5 281.0 124.9 281.5 125.2 282.6 124.9 283.1 124.4 283.7 124.0 284.2 123.8 284.7 124.0 285.2 124.4 285.8 125.1 286.3 125.7 286.8 126.1 287.4 126.3 287.9 126.1 288.4 125.8 289.0 125.4 289.5 125.2 290.5 125.6" fill="none" stroke="#2b3a98" stroke-width="1.1" stroke-linejoin="round"/><path d="M28.5 129.6 29.0 129.7 29.6 129.8 30.1 129.8 30.7 129.9 31.2 129.9 31.8 130.0 32.3 130.1 32.9 130.1 33.4 130.2 34.0 130.2 34.5 130.3 35.1 130.4 35.6 130.5 36.1 130.6 36.7 130.7 37.2 130.8 37.8 130.9 38.3 131.1 38.8 131.3 39.4 131.5 39.9 131.7 40.5 132.0 41.0 132.3 41.5 132.6 42.1 132.9 42.6 133.2 43.1 133.6 43.7 134.0 44.2 134.3 44.8 134.7 45.3 135.2 45.9 135.8 46.4 136.4 46.9 137.0 47.5 137.6 48.0 138.3 48.6 139.0 49.1 139.6 49.6 140.4 50.0 140.8 50.2 77.2 50.3 13.5 50.9 14.1 51.4 15.8 51.9 18.2 52.4 21.3 53.0 24.6 53.5 28.0 54.0 31.3 54.5 34.2 55.1 36.9 55.6 39.7 56.2 42.5 56.7 45.3 57.2 48.1 57.8 50.9 58.3 53.6 58.9 56.2 59.4 58.6 60.0 60.9 60.5 62.9 61.1 64.9 61.7 67.2 62.2 69.8 62.8 73.2 63.4 77.4 63.9 82.1 64.5 87.1 65.1 92.3 65.7 97.5 66.2 102.5 66.8 108.4 67.5 114.9 68.1 120.5 68.7 124.0 69.2 125.6 69.8 127.0 70.3 128.1 70.8 129.1 71.4 130.0 71.9 130.8 72.5 131.5 73.0 132.1 73.5 132.8 74.1 133.4 74.6 134.1 75.1 134.9 75.7 135.7 76.2 136.6 76.8 137.4 77.3 138.1 77.9 138.9 78.4 139.7 79.0 140.4 79.5 141.2 80.1 141.9 80.6 142.6 81.2 143.4 81.7 144.1 82.2 144.8 82.8 145.5 83.3 146.3 83.9 147.0 84.7 148.3 85.5 149.1 86.0 149.0 86.6 148.7 87.1 148.2 87.7 147.3 88.2 146.1 88.6 133.2 88.9 120.8 89.6 121.4 90.2 122.8 90.8 124.6 91.4 126.1 91.9 127.2 92.4 128.3 93.0 129.6 93.5 130.8 94.0 132.0 94.5 133.2 95.1 134.4 95.6 135.4 96.1 136.3 96.6 137.1 97.2 137.7 97.7 138.0 98.2 138.2 98.8 138.1 99.3 137.8 99.8 137.4 100.4 136.9 100.9 136.4 101.5 135.9 102.0 135.4 102.6 134.9 103.1 134.5 103.6 134.1 104.2 133.7 104.7 133.3 105.2 132.9 105.8 132.5 106.3 132.1 106.9 131.7 107.4 131.3 107.9 130.9 108.5 130.4 109.0 130.0 109.5 129.6 110.1 129.2 110.6 128.8 111.1 128.4 111.7 128.0 112.2 127.6 112.8 127.2 113.4 126.8 113.9 126.4 114.5 126.0 115.0 125.7 115.6 125.3 116.1 124.9 116.7 124.5 117.3 124.1 117.8 123.7 118.4 123.2 118.9 122.8 119.5 122.4 120.0 122.0 120.6 121.5 121.2 120.9 121.7 120.3 122.3 119.6 122.9 119.0 123.4 118.3 124.0 117.7 124.6 117.1 125.1 116.6 125.7 116.1 126.3 115.8 126.8 115.6 127.4 115.5 128.5 115.5 129.0 115.6 129.5 115.7 130.1 115.8 130.6 116.0 131.2 116.1 131.7 116.3 132.2 116.5 132.8 116.8 133.3 117.0 133.8 117.2 134.4 117.7 135.0 118.3 135.6 119.1 136.2 120.1 136.8 121.1 137.4 122.1 138.0 123.0 138.6 123.7 139.1 124.4 139.7 125.1 140.2 125.9 140.8 126.6 141.4 127.3 141.9 127.9 142.5 128.3 143.1 128.6 143.6 128.7 144.2 128.6 144.7 128.3 145.2 127.8 145.7 127.2 146.2 126.5 146.8 125.7 147.3 125.0 147.8 124.3 148.3 123.7 148.9 123.2 149.5 122.6 150.0 122.1 150.6 121.5 151.1 121.0 151.7 120.5 152.2 119.9 152.8 119.4 153.3 118.9 153.9 118.3 154.4 117.8 155.0 117.2 155.6 116.7 156.2 116.2 156.8 115.8 157.3 115.3 157.9 114.8 158.5 114.2 159.1 113.4 159.7 112.5 160.3 110.9 160.8 108.2 161.4 105.0 161.9 101.8 162.5 99.2 163.0 97.8 163.6 97.2 164.1 96.6 164.6 96.1 165.2 95.6 165.7 95.3 166.3 95.0 166.8 94.7 167.4 94.6 168.5 95.2 169.0 96.8 169.6 99.0 170.1 101.3 170.7 103.2 171.2 104.3 171.8 104.8 172.3 105.2 172.9 105.5 173.5 105.8 174.0 106.1 174.6 106.3 175.1 106.5 175.7 106.6 176.2 106.8 176.8 107.0 177.4 107.2 177.9 107.4 178.5 107.6 179.0 107.9 179.6 108.3 180.1 108.7 180.7 109.3 181.2 110.0 181.8 111.0 182.3 112.1 182.8 113.2 183.4 114.5 183.9 115.8 184.4 117.2 185.0 118.5 185.5 119.7 186.1 120.9 186.6 122.0 187.2 123.0 187.7 124.0 188.3 125.0 188.8 126.0 189.4 127.0 189.9 128.0 190.5 128.9 191.0 129.8 191.6 130.6 192.1 131.4 192.7 132.2 193.2 132.9 193.8 133.5 194.3 134.2 194.9 134.8 195.4 135.5 196.0 136.1 196.5 136.8 197.1 137.4 197.6 138.0 198.2 138.5 198.7 139.0 199.2 139.4 199.8 139.8 200.3 140.1 200.9 140.3 201.4 140.5 202.5 140.5 203.1 140.3 203.6 140.1 204.1 139.7 204.7 139.4 205.2 138.9 205.7 138.5 206.3 138.0 206.8 137.5 207.4 137.0 207.9 136.5 208.4 136.1 209.0 135.7 209.5 135.3 210.1 134.8 210.6 134.4 211.2 134.0 211.7 133.5 212.3 133.1 212.8 132.6 213.4 132.1 213.9 131.6 214.4 131.1 215.0 130.6 215.5 130.1 216.1 129.6 216.6 129.0 217.2 128.4 217.7 127.8 218.3 127.1 218.8 126.4 219.4 125.6 219.9 124.8 220.5 124.0 221.0 123.1 221.6 122.3 222.2 121.6 222.7 120.9 223.3 120.2 223.8 119.6 224.4 119.0 224.9 118.5 225.5 117.9 226.0 117.3 226.6 116.8 227.1 116.3 227.7 115.8 228.2 115.4 228.8 115.0 229.3 114.7 229.9 114.5 230.5 114.3 231.0 114.2 231.5 114.1 232.1 114.0 232.6 113.9 233.2 113.8 233.7 113.7 234.2 113.6 234.8 113.6 235.3 113.5 235.9 113.4 237.0 113.3 238.0 113.2 239.1 113.2 240.2 113.1 241.3 113.1 242.4 113.2 242.9 113.2 243.5 113.3 244.0 113.4 244.6 113.5 245.1 113.6 245.7 113.7 246.2 113.8 246.7 113.9 247.3 114.0 247.8 114.1 248.4 114.2 248.9 114.2 250.0 114.3 251.1 114.3 252.1 114.2 253.2 114.2 254.3 114.1 255.3 114.0 256.4 113.9 257.4 113.7 258.5 113.6 259.6 113.5 260.6 113.4 261.7 113.3 262.7 113.2 263.8 113.2 264.9 113.1 265.9 113.2 266.5 113.3 267.0 113.4 267.6 113.6 268.1 113.9 268.6 114.2 269.2 114.6 269.7 115.0 270.3 115.4 270.8 115.8 271.4 116.2 271.9 116.7 272.4 117.1 273.0 117.5 273.5 118.0 274.1 118.4 274.6 118.7 275.1 119.1 275.7 119.4 276.2 119.6 276.8 119.8 277.3 120.0 277.8 120.2 278.3 120.4 278.9 120.6 279.4 120.8 279.9 121.0 280.5 121.1 281.0 121.3 281.5 121.5 282.1 121.6 282.6 121.8 283.1 121.9 283.7 122.1 284.2 122.2 284.7 122.4 285.2 122.5 285.8 122.7 286.3 122.8 286.8 122.9 287.4 123.1 287.9 123.2 288.4 123.4 289.0 123.5 289.5 123.7 290.0 123.9 290.5 124.0" fill="none" stroke="#000" stroke-width="2.6" stroke-dasharray="0.5,5.0" stroke-linecap="round"/></g><path d="M46.0,206.2v-2.6 M63.4,206.2v-2.6 M80.9,206.2v-2.6 M98.4,206.2v-2.6 M115.8,206.2v-2.6 M133.3,206.2v-2.6 M150.8,206.2v-2.6 M168.3,206.2v-2.6 M185.7,206.2v-2.6 M203.2,206.2v-2.6 M220.7,206.2v-2.6 M238.1,206.2v-2.6 M255.6,206.2v-2.6 M273.1,206.2v-2.6 M29.0,193.2h2.8 M29.0,178.5h2.8 M29.0,163.8h2.8 M29.0,149.1h2.8 M29.0,134.3h2.8 M29.0,119.6h2.8 M29.0,104.9h2.8 M29.0,90.1h2.8 M29.0,75.4h2.8 M29.0,60.7h2.8 M29.0,45.9h2.8 M29.0,31.2h2.8 M29.0,16.5h2.8" stroke="#a8a8a8" stroke-width="1" fill="none"/><text x="23.4" y="33.8" text-anchor="end" class="tl">3</text><text x="23.4" y="63.2" text-anchor="end" class="tl">2</text><text x="23.4" y="92.7" text-anchor="end" class="tl">1</text><text x="23.4" y="122.1" text-anchor="end" class="tl">0</text><text x="23.4" y="151.6" text-anchor="end" class="tl">-1</text><text x="23.4" y="181.1" text-anchor="end" class="tl">-2</text><text x="29.6" y="220.6" text-anchor="middle" class="tl">0</text><text x="64.5" y="220.6" text-anchor="middle" class="tl">2</text><text x="99.5" y="220.6" text-anchor="middle" class="tl">4</text><text x="134.4" y="220.6" text-anchor="middle" class="tl">6</text><text x="169.4" y="220.6" text-anchor="middle" class="tl">8</text><text x="205.1" y="220.6" text-anchor="middle" class="tl">10</text><text x="240.0" y="220.6" text-anchor="middle" class="tl">12</text><text x="275.0" y="220.6" text-anchor="middle" class="tl">14</text><text x="154.3" y="19.6" text-anchor="middle" class="ti">Site A</text><text x="150.0" y="235.8" text-anchor="middle" class="xl">Time (minutes)</text><clipPath id="clipB"><rect x="310.35" y="2.05" width="261.10" height="204.70"/></clipPath><rect x="310.35" y="2.05" width="261.10" height="204.70" fill="#383838" stroke="#000" stroke-width="1.5"/><g clip-path="url(#clipB)"><line x1="309.6" y1="122.5" x2="572.2" y2="122.5" stroke="#8a8a8a" stroke-width="0.8" stroke-dasharray="5,3"/><path d="M310.2 130.7 310.9 130.7 311.6 130.8 312.3 130.8 313.0 130.9 313.7 131.0 314.4 131.2 315.1 131.3 315.8 131.4 316.5 131.6 317.2 131.8 317.9 131.9 318.6 132.1 319.3 132.2 320.0 132.4 320.7 132.5 321.4 132.6 322.1 132.7 322.8 132.7 323.5 132.8 324.2 132.8 324.9 132.2 325.6 130.4 326.3 127.4 327.0 123.3 327.7 118.2 328.4 112.3 329.1 105.6 329.8 98.4 330.5 90.8 331.3 83.1 332.0 75.3 332.7 67.7 333.4 60.5 334.1 53.8 334.8 47.9 335.5 42.8 336.2 38.7 336.9 35.8 337.6 33.9 338.3 33.3 339.0 34.1 339.8 36.4 340.5 40.2 341.2 45.3 341.9 51.8 342.7 59.4 343.4 68.1 344.1 77.5 344.8 87.6 345.6 98.2 346.3 109.0 347.0 119.7 347.7 130.3 348.4 140.4 349.2 149.8 349.9 158.5 350.6 166.1 351.3 172.6 352.1 177.7 352.8 181.5 353.5 183.8 354.2 184.6 354.9 184.3 355.6 183.3 356.3 181.7 357.1 179.6 357.8 176.9 358.5 173.8 359.2 170.3 359.9 166.5 360.6 162.4 361.3 158.3 362.0 154.2 362.7 150.2 363.4 146.4 364.1 142.9 364.8 139.8 365.5 137.1 366.3 135.0 367.0 133.4 367.7 132.4 368.4 132.1 369.1 132.5 369.8 133.6 370.5 135.4 371.3 137.9 372.0 140.9 372.7 144.2 373.4 147.8 374.2 151.4 374.9 155.0 375.6 158.3 376.3 161.3 377.0 163.7 377.8 165.6 378.5 166.7 379.2 167.1 379.9 167.0 380.6 166.7 381.3 166.1 382.0 165.4 382.7 164.5 383.4 163.4 384.1 162.1 384.8 160.6 385.5 158.9 386.2 157.1 386.9 155.1 387.6 153.0 388.3 150.7 389.0 148.4 389.8 145.9 390.5 143.4 391.2 140.7 391.9 138.1 392.6 135.4 393.3 132.6 394.0 129.9 394.7 127.1 395.4 124.4 396.1 121.7 396.8 119.1 397.5 116.6 398.2 114.1 398.9 111.8 399.6 109.5 400.3 107.4 401.0 105.4 401.7 103.6 402.4 101.9 403.1 100.4 403.8 99.1 404.5 98.0 405.2 97.1 405.9 96.3 406.6 95.8 407.3 95.5 408.0 95.4 408.7 95.8 409.4 97.0 410.2 99.0 410.9 101.8 411.6 105.1 412.3 109.1 413.0 113.6 413.7 118.4 414.4 123.5 415.1 128.7 415.8 133.9 416.5 139.0 417.2 143.8 417.9 148.2 418.6 152.2 419.4 155.6 420.1 158.3 420.8 160.3 421.5 161.5 422.2 161.9 422.9 161.4 423.6 159.9 424.3 157.4 425.0 154.0 425.8 149.8 426.5 144.7 427.2 139.0 427.9 132.8 428.6 126.1 429.3 119.1 430.0 112.0 430.8 104.9 431.5 98.0 432.2 91.3 432.9 85.1 433.6 79.4 434.3 74.3 435.0 70.1 435.8 66.6 436.5 64.2 437.2 62.6 437.9 62.1 438.6 62.8 439.4 64.8 440.1 68.0 440.8 72.4 441.5 77.8 442.3 84.1 443.0 91.0 443.7 98.4 444.5 106.0 445.2 113.7 445.9 121.1 446.6 128.0 447.4 134.3 448.1 139.7 448.8 144.1 449.6 147.3 450.3 149.3 451.0 149.9 451.7 149.7 452.5 149.1 453.2 148.1 453.9 146.6 454.7 144.9 455.4 142.8 456.1 140.4 456.8 137.7 457.6 134.9 458.3 131.9 459.0 128.8 459.8 125.8 460.5 122.7 461.2 119.7 461.9 116.9 462.7 114.2 463.4 111.9 464.1 109.7 464.9 108.0 465.6 106.5 466.3 105.5 467.1 104.9 467.8 104.7 468.5 104.7 469.2 105.0 469.9 105.3 470.6 105.8 471.3 106.5 472.0 107.3 472.7 108.2 473.5 109.2 474.2 110.3 474.9 111.5 475.6 112.9 476.3 114.3 477.0 115.7 477.7 117.2 478.4 118.8 479.1 120.4 479.8 122.0 480.5 123.6 481.3 125.2 482.0 126.7 482.7 128.2 483.4 129.7 484.1 131.1 484.8 132.4 485.5 133.7 486.2 134.8 486.9 135.8 487.6 136.7 488.3 137.5 489.1 138.1 489.8 138.6 490.5 139.0 491.2 139.2 491.9 139.3 492.6 139.1 493.3 138.4 494.0 137.4 494.7 135.9 495.5 134.1 496.2 131.9 496.9 129.4 497.6 126.7 498.3 123.8 499.0 120.7 499.7 117.6 500.5 114.4 501.2 111.2 501.9 108.2 502.6 105.3 503.3 102.5 504.0 100.1 504.7 97.9 505.5 96.1 506.2 94.6 506.9 93.5 507.6 92.9 508.3 92.7 509.0 92.8 509.7 93.4 510.4 94.3 511.1 95.5 511.8 97.0 512.5 98.9 513.2 101.0 513.9 103.4 514.6 106.1 515.3 108.9 516.0 111.8 516.7 114.9 517.4 118.1 518.1 121.3 518.8 124.5 519.5 127.7 520.2 130.8 520.9 133.7 521.6 136.5 522.3 139.2 523.0 141.6 523.7 143.7 524.4 145.6 525.1 147.1 525.8 148.3 526.5 149.2 527.2 149.8 527.9 149.9 528.6 149.9 529.3 149.7 530.0 149.4 530.7 148.9 531.4 148.3 532.1 147.6 532.9 146.8 533.6 145.9 534.3 144.8 535.0 143.7 535.7 142.5 536.4 141.2 537.1 139.8 537.8 138.3 538.6 136.8 539.3 135.2 540.0 133.6 540.7 132.0 541.4 130.3 542.1 128.7 542.8 127.0 543.5 125.3 544.2 123.7 545.0 122.1 545.7 120.5 546.4 119.0 547.1 117.6 547.8 116.2 548.5 114.9 549.2 113.6 549.9 112.5 550.7 111.5 551.4 110.5 552.1 109.7 552.8 109.0 553.5 108.4 554.2 108.0 554.9 107.7 555.6 107.5 556.4 107.4 557.1 107.5 557.8 108.0 558.5 108.6 559.2 109.6 560.0 110.7 560.7 112.1 561.4 113.6 562.1 115.3 562.9 117.1 563.6 119.0 564.3 121.0 565.0 122.9 565.7 124.8 566.5 126.6 567.2 128.3 567.9 129.8 568.6 131.2 569.4 132.4 570.1 133.3 570.8 134.0 571.5 134.4 572.2 134.5" fill="none" stroke="#cd2f24" stroke-width="1.15" stroke-linejoin="round"/><path d="M310.2 130.7 310.9 130.7 311.6 130.8 312.3 130.8 313.0 130.9 313.7 131.0 314.4 131.1 315.1 131.2 315.8 131.4 316.5 131.5 317.2 131.7 317.9 131.8 318.6 132.0 319.3 132.2 320.0 132.4 320.7 132.5 321.4 132.7 322.1 132.8 322.8 133.0 323.5 133.1 324.2 133.2 324.9 133.3 325.6 133.4 326.3 133.4 327.0 133.5 327.7 133.5 328.4 133.1 329.1 131.9 329.8 130.1 330.5 127.5 331.2 124.2 331.9 120.3 332.6 115.9 333.3 111.0 334.0 105.7 334.7 100.2 335.4 94.4 336.1 88.5 336.8 82.7 337.6 76.9 338.3 71.3 339.0 66.1 339.7 61.2 340.4 56.8 341.1 52.9 341.8 49.6 342.5 47.0 343.2 45.1 343.9 44.0 344.6 43.6 345.3 44.2 346.1 45.8 346.8 48.6 347.5 52.4 348.2 57.2 348.9 62.9 349.7 69.4 350.4 76.6 351.1 84.5 351.8 92.8 352.5 101.4 353.3 110.3 354.0 119.3 354.7 128.1 355.4 136.8 356.1 145.1 356.9 152.9 357.6 160.1 358.3 166.7 359.0 172.4 359.7 177.2 360.5 181.0 361.2 183.7 361.9 185.4 362.6 186.0 363.3 185.7 364.0 185.1 364.8 184.1 365.5 182.7 366.2 181.0 366.9 178.9 367.6 176.6 368.3 173.9 369.0 171.1 369.7 168.2 370.5 165.1 371.2 161.9 371.9 158.8 372.6 155.7 373.3 152.8 374.0 149.9 374.7 147.3 375.5 145.0 376.2 142.9 376.9 141.2 377.6 139.8 378.3 138.8 379.0 138.1 379.7 137.9 380.4 138.1 381.1 138.7 381.8 139.6 382.6 140.9 383.3 142.5 384.0 144.4 384.7 146.5 385.4 148.9 386.1 151.5 386.8 154.2 387.5 157.0 388.2 159.9 388.9 162.8 389.6 165.6 390.3 168.3 391.0 170.9 391.7 173.3 392.4 175.4 393.1 177.3 393.9 178.9 394.6 180.2 395.3 181.1 396.0 181.7 396.7 181.8 397.4 181.7 398.1 181.1 398.8 180.2 399.5 178.9 400.2 177.3 400.9 175.4 401.6 173.1 402.3 170.5 403.0 167.6 403.8 164.4 404.5 161.0 405.2 157.3 405.9 153.4 406.6 149.3 407.3 145.1 408.0 140.7 408.7 136.2 409.4 131.6 410.1 127.0 410.8 122.3 411.5 117.7 412.2 113.0 412.9 108.4 413.7 103.9 414.4 99.6 415.1 95.3 415.8 91.2 416.5 87.3 417.2 83.7 417.9 80.2 418.6 77.1 419.3 74.2 420.0 71.6 420.7 69.3 421.4 67.3 422.1 65.7 422.9 64.5 423.6 63.6 424.3 63.0 425.0 62.8 425.7 63.0 426.4 63.5 427.1 64.4 427.8 65.7 428.5 67.3 429.2 69.2 429.9 71.4 430.6 73.9 431.3 76.7 432.0 79.7 432.7 82.9 433.4 86.3 434.1 89.8 434.8 93.5 435.5 97.2 436.2 101.0 436.9 104.9 437.7 108.7 438.4 112.4 439.1 116.1 439.8 119.6 440.5 123.0 441.2 126.2 441.9 129.2 442.6 132.0 443.3 134.5 444.0 136.7 444.7 138.6 445.4 140.2 446.1 141.5 446.8 142.4 447.5 142.9 448.2 143.1 448.9 142.9 449.7 142.3 450.4 141.3 451.1 139.9 451.8 138.3 452.5 136.4 453.2 134.4 454.0 132.2 454.7 130.0 455.4 127.8 456.1 125.7 456.8 123.8 457.6 122.2 458.3 120.9 459.0 119.9 459.7 119.3 460.4 119.1 461.1 119.2 461.8 119.4 462.5 119.8 463.2 120.3 463.9 121.0 464.6 121.9 465.3 122.8 466.0 123.8 466.7 125.0 467.4 126.2 468.1 127.4 468.8 128.7 469.5 130.0 470.2 131.3 470.9 132.5 471.6 133.7 472.3 134.9 473.0 135.9 473.7 136.9 474.4 137.7 475.1 138.4 475.8 138.9 476.5 139.3 477.2 139.6 477.9 139.7 478.6 139.6 479.3 139.3 480.0 139.0 480.7 138.4 481.4 137.8 482.1 137.0 482.8 136.1 483.5 135.1 484.2 133.9 484.9 132.7 485.6 131.4 486.3 130.1 487.0 128.6 487.7 127.2 488.4 125.8 489.1 124.3 489.8 122.9 490.5 121.5 491.2 120.1 491.9 118.8 492.6 117.6 493.3 116.5 494.0 115.4 494.7 114.5 495.4 113.7 496.1 113.1 496.8 112.5 497.5 112.2 498.2 111.9 498.9 111.9 499.6 111.9 500.3 112.1 501.0 112.4 501.7 112.8 502.4 113.3 503.1 114.0 503.8 114.7 504.5 115.6 505.2 116.5 505.9 117.6 506.6 118.7 507.3 120.0 508.0 121.3 508.7 122.7 509.4 124.1 510.1 125.7 510.8 127.2 511.5 128.9 512.2 130.5 512.9 132.2 513.6 133.9 514.3 135.7 515.0 137.4 515.7 139.2 516.4 140.9 517.1 142.6 517.8 144.3 518.5 146.0 519.3 147.6 520.0 149.2 520.7 150.7 521.4 152.2 522.1 153.5 522.8 154.9 523.5 156.1 524.2 157.2 524.9 158.3 525.6 159.3 526.3 160.1 527.0 160.9 527.7 161.5 528.4 162.0 529.1 162.4 529.8 162.7 530.5 162.9 531.2 163.0 531.9 162.7 532.6 162.0 533.3 160.7 534.0 159.0 534.7 156.8 535.4 154.3 536.1 151.3 536.8 148.0 537.5 144.4 538.3 140.6 539.0 136.6 539.7 132.5 540.4 128.3 541.1 124.2 541.8 120.0 542.5 116.0 543.2 112.2 543.9 108.7 544.6 105.4 545.3 102.4 546.0 99.8 546.7 97.7 547.4 95.9 548.1 94.7 548.8 93.9 549.5 93.7 550.3 93.9 551.0 94.4 551.7 95.3 552.4 96.5 553.1 98.0 553.8 99.8 554.5 101.9 555.3 104.1 556.0 106.5 556.7 109.0 557.4 111.5 558.1 114.1 558.8 116.5 559.5 118.9 560.3 121.2 561.0 123.2 561.7 125.0 562.4 126.5 563.1 127.7 563.8 128.6 564.5 129.2 565.3 129.4 566.0 129.4 566.7 129.7 567.4 130.1 568.1 130.5 568.8 131.1 569.5 131.6 570.2 132.1 570.9 132.5 571.6 132.7 572.2 132.8" fill="none" stroke="#e06943" stroke-width="1.15" stroke-linejoin="round"/><path d="M310.2 130.7 310.9 130.7 311.6 130.8 312.3 130.8 313.0 130.9 313.8 131.0 314.5 131.2 315.2 131.3 315.9 131.5 316.6 131.7 317.3 131.9 318.0 132.1 318.7 132.3 319.5 132.5 320.2 132.7 320.9 132.9 321.6 133.2 322.3 133.4 323.0 133.6 323.7 133.7 324.4 133.9 325.1 134.1 325.9 134.2 326.6 134.3 327.3 134.4 328.0 134.5 328.7 134.5 329.4 134.5 330.1 134.1 330.9 132.9 331.6 130.9 332.3 128.1 333.0 124.7 333.7 120.6 334.5 116.0 335.2 110.9 335.9 105.4 336.6 99.7 337.4 93.8 338.1 87.8 338.8 81.9 339.5 76.1 340.2 70.7 341.0 65.6 341.7 60.9 342.4 56.8 343.1 53.4 343.8 50.7 344.6 48.7 345.3 47.4 346.0 47.0 346.7 47.6 347.4 49.3 348.1 52.1 348.8 56.0 349.5 60.8 350.3 66.4 351.0 72.8 351.7 79.7 352.4 87.0 353.1 94.6 353.8 102.3 354.5 109.9 355.2 117.3 355.9 124.2 356.6 130.6 357.3 136.2 358.0 141.0 358.7 144.8 359.4 147.7 360.2 149.4 360.9 149.9 361.6 149.8 362.3 149.5 363.0 148.9 363.8 148.2 364.5 147.4 365.2 146.5 366.0 145.6 366.7 144.8 367.4 144.1 368.1 143.5 368.9 143.2 369.6 143.1 370.3 143.4 371.0 144.3 371.8 145.9 372.5 147.9 373.2 150.5 373.9 153.5 374.6 156.7 375.3 160.2 376.1 163.8 376.8 167.4 377.5 170.9 378.2 174.2 378.9 177.2 379.7 179.7 380.4 181.8 381.1 183.3 381.8 184.3 382.5 184.6 383.2 184.5 383.9 184.1 384.6 183.5 385.4 182.7 386.1 181.7 386.8 180.4 387.5 178.9 388.2 177.3 388.9 175.4 389.6 173.3 390.3 171.1 391.0 168.6 391.7 166.0 392.4 163.3 393.1 160.4 393.8 157.5 394.5 154.4 395.2 151.2 395.9 147.9 396.7 144.6 397.4 141.2 398.1 137.8 398.8 134.3 399.5 130.9 400.2 127.5 400.9 124.1 401.6 120.8 402.3 117.5 403.0 114.3 403.7 111.2 404.4 108.2 405.1 105.4 405.8 102.6 406.5 100.0 407.2 97.6 408.0 95.4 408.7 93.3 409.4 91.4 410.1 89.7 410.8 88.2 411.5 87.0 412.2 85.9 412.9 85.1 413.6 84.6 414.3 84.2 415.0 84.1 415.7 84.2 416.5 84.4 417.2 84.9 417.9 85.5 418.6 86.3 419.3 87.2 420.0 88.3 420.8 89.6 421.5 91.0 422.2 92.5 422.9 94.2 423.6 96.0 424.3 97.8 425.0 99.8 425.8 101.9 426.5 104.0 427.2 106.2 427.9 108.4 428.6 110.6 429.3 112.9 430.1 115.2 430.8 117.4 431.5 119.6 432.2 121.8 432.9 123.9 433.6 126.0 434.4 128.0 435.1 129.8 435.8 131.6 436.5 133.3 437.2 134.8 437.9 136.2 438.7 137.5 439.4 138.6 440.1 139.5 440.8 140.3 441.5 140.9 442.2 141.4 443.0 141.6 443.7 141.7 444.4 141.4 445.1 140.6 445.8 139.3 446.5 137.5 447.2 135.3 447.9 132.7 448.6 129.8 449.3 126.7 450.0 123.5 450.7 120.2 451.4 116.9 452.1 113.8 452.8 110.9 453.5 108.3 454.2 106.1 454.9 104.3 455.6 103.0 456.2 102.2 456.9 101.9 457.7 102.0 458.4 102.2 459.1 102.5 459.8 102.9 460.5 103.5 461.2 104.2 461.9 105.0 462.6 105.9 463.3 106.8 464.0 107.9 464.7 109.1 465.5 110.3 466.2 111.6 466.9 113.0 467.6 114.4 468.3 115.8 469.0 117.3 469.7 118.7 470.4 120.2 471.1 121.6 471.8 123.1 472.5 124.5 473.2 125.8 474.0 127.1 474.7 128.4 475.4 129.5 476.1 130.6 476.8 131.6 477.5 132.5 478.2 133.3 478.9 134.0 479.6 134.5 480.3 135.0 481.0 135.3 481.7 135.5 482.5 135.5 483.2 135.4 483.9 135.0 484.6 134.4 485.4 133.6 486.1 132.6 486.8 131.4 487.6 130.0 488.3 128.5 489.0 126.9 489.8 125.2 490.5 123.5 491.2 121.8 492.0 120.1 492.7 118.5 493.4 117.0 494.1 115.7 494.9 114.5 495.6 113.4 496.3 112.6 497.1 112.0 497.8 111.6 498.5 111.5 499.2 111.7 500.0 112.3 500.7 113.4 501.4 114.7 502.1 116.5 502.9 118.6 503.6 120.9 504.3 123.5 505.0 126.3 505.7 129.3 506.5 132.4 507.2 135.5 507.9 138.7 508.6 141.7 509.3 144.7 510.1 147.5 510.8 150.2 511.5 152.5 512.2 154.6 512.9 156.3 513.7 157.7 514.4 158.7 515.1 159.3 515.8 159.5 516.5 159.4 517.2 158.8 517.9 157.9 518.6 156.6 519.4 155.0 520.1 153.1 520.8 151.0 521.5 148.6 522.2 146.1 522.9 143.4 523.6 140.7 524.3 137.9 525.0 135.2 525.7 132.5 526.4 130.0 527.1 127.6 527.8 125.5 528.5 123.6 529.2 122.0 529.9 120.7 530.7 119.8 531.4 119.3 532.1 119.1 532.8 119.2 533.5 119.7 534.2 120.4 534.9 121.4 535.6 122.6 536.3 124.0 537.0 125.6 537.7 127.4 538.4 129.1 539.1 131.0 539.9 132.7 540.6 134.5 541.3 136.0 542.0 137.5 542.7 138.7 543.4 139.7 544.1 140.4 544.8 140.9 545.5 141.0 546.2 140.9 546.9 140.6 547.6 140.1 548.3 139.4 549.1 138.6 549.8 137.5 550.5 136.4 551.2 135.1 551.9 133.7 552.6 132.3 553.3 130.8 554.0 129.3 554.7 127.8 555.4 126.4 556.1 125.0 556.8 123.7 557.5 122.6 558.2 121.5 558.9 120.7 559.6 120.0 560.4 119.5 561.1 119.2 561.8 119.1 562.5 119.4 563.3 120.3 564.0 121.7 564.8 123.6 565.5 125.9 566.3 128.4 567.0 131.1 567.8 133.7 568.5 136.3 569.3 138.6 570.0 140.5 570.8 141.9 571.5 142.8 572.2 143.1" fill="none" stroke="#f5a24e" stroke-width="1.15" stroke-linejoin="round"/><path d="M310.2 130.7 310.9 130.7 311.6 130.8 312.3 130.8 313.0 130.9 313.7 131.0 314.4 131.1 315.1 131.2 315.8 131.4 316.5 131.5 317.2 131.7 317.9 131.9 318.6 132.0 319.3 132.2 320.0 132.4 320.7 132.6 321.4 132.8 322.1 133.0 322.8 133.2 323.5 133.4 324.2 133.6 324.9 133.7 325.6 133.9 326.3 134.0 327.0 134.1 327.7 134.3 328.4 134.3 329.1 134.4 329.8 134.5 330.5 134.5 331.2 134.5 331.9 134.2 332.6 133.2 333.3 131.5 334.1 129.2 334.8 126.3 335.5 122.9 336.2 118.9 337.0 114.5 337.7 109.6 338.4 104.5 339.1 99.0 339.9 93.4 340.6 87.7 341.3 81.9 342.0 76.1 342.8 70.5 343.5 65.1 344.2 59.9 344.9 55.1 345.7 50.6 346.4 46.7 347.1 43.2 347.8 40.3 348.6 38.0 349.3 36.4 350.0 35.4 350.7 35.0 351.4 35.5 352.2 36.9 352.9 39.3 353.6 42.5 354.3 46.6 355.0 51.4 355.7 56.8 356.4 62.9 357.2 69.4 357.9 76.3 358.6 83.5 359.3 90.8 360.0 98.0 360.7 105.2 361.4 112.1 362.1 118.6 362.9 124.7 363.6 130.2 364.3 135.0 365.0 139.0 365.7 142.3 366.4 144.6 367.1 146.0 367.9 146.5 368.5 146.8 369.2 147.5 369.9 148.6 370.6 150.1 371.3 151.7 372.0 153.2 372.7 154.7 373.4 155.8 374.1 156.5 374.8 156.8 375.6 156.9 376.3 157.0 377.0 157.3 377.8 157.6 378.5 158.1 379.2 158.6 380.0 159.2 380.7 159.9 381.4 160.6 382.1 161.4 382.9 162.1 383.6 162.9 384.3 163.6 385.1 164.3 385.8 165.0 386.5 165.6 387.3 166.1 388.0 166.6 388.7 167.0 389.5 167.2 390.2 167.4 390.9 167.4 391.6 167.3 392.3 166.7 393.0 165.9 393.7 164.7 394.4 163.1 395.1 161.3 395.8 159.1 396.5 156.7 397.2 154.0 398.0 151.1 398.7 147.9 399.4 144.6 400.1 141.1 400.8 137.5 401.5 133.8 402.2 130.1 402.9 126.3 403.6 122.5 404.3 118.7 405.0 115.0 405.7 111.4 406.4 107.9 407.1 104.6 407.8 101.5 408.5 98.5 409.2 95.9 409.9 93.4 410.6 91.3 411.3 89.4 412.0 87.9 412.7 86.7 413.4 85.8 414.1 85.3 414.8 85.1 415.6 85.3 416.3 86.0 417.0 87.2 417.7 88.7 418.4 90.6 419.1 92.8 419.8 95.3 420.5 98.0 421.2 100.9 421.9 103.8 422.6 106.7 423.3 109.6 424.0 112.3 424.8 114.8 425.5 117.0 426.2 118.9 426.9 120.5 427.6 121.6 428.3 122.3 429.0 122.5 429.7 122.1 430.4 120.9 431.1 119.0 431.8 116.5 432.5 113.4 433.3 109.8 434.0 105.9 434.7 101.9 435.4 97.9 436.1 94.0 436.8 90.5 437.5 87.4 438.2 84.8 438.9 82.9 439.6 81.7 440.4 81.3 441.1 81.5 441.8 82.0 442.5 82.9 443.2 84.0 443.9 85.5 444.6 87.2 445.3 89.1 446.0 91.1 446.7 93.3 447.4 95.6 448.1 97.9 448.8 100.2 449.5 102.4 450.3 104.5 451.0 106.4 451.7 108.1 452.4 109.5 453.1 110.7 453.8 111.5 454.5 112.0 455.2 112.2 455.9 112.1 456.7 111.8 457.4 111.3 458.1 110.7 458.9 109.8 459.6 108.9 460.3 107.8 461.1 106.6 461.8 105.4 462.5 104.1 463.3 102.9 464.0 101.7 464.7 100.5 465.5 99.4 466.2 98.4 466.9 97.6 467.7 97.0 468.4 96.5 469.1 96.2 469.9 96.1 470.6 96.1 471.3 96.3 472.0 96.5 472.8 96.7 473.5 97.1 474.2 97.4 474.9 97.8 475.7 98.2 476.4 98.5 477.1 98.9 477.8 99.1 478.6 99.3 479.3 99.5 480.0 99.5 480.7 99.6 481.4 99.7 482.2 99.9 482.9 100.1 483.6 100.5 484.3 100.8 485.0 101.3 485.7 101.7 486.5 102.2 487.2 102.7 487.9 103.2 488.6 103.6 489.3 104.0 490.0 104.4 490.8 104.7 491.5 105.0 492.2 105.2 492.9 105.3 493.6 105.3 494.3 105.4 495.1 105.4 495.8 105.5 496.5 105.7 497.2 105.8 497.9 106.0 498.6 106.3 499.3 106.5 500.0 106.8 500.7 107.2 501.4 107.5 502.2 107.8 502.9 108.2 503.6 108.6 504.3 109.0 505.0 109.3 505.7 109.7 506.4 110.1 507.1 110.4 507.8 110.8 508.6 111.1 509.3 111.4 510.0 111.6 510.7 111.9 511.4 112.1 512.1 112.2 512.8 112.4 513.5 112.5 514.2 112.5 514.9 112.6 515.7 112.6 516.4 112.8 517.1 113.2 517.8 113.6 518.5 114.2 519.3 114.8 520.0 115.5 520.7 116.3 521.4 117.1 522.1 117.9 522.8 118.7 523.6 119.5 524.3 120.2 525.0 120.9 525.7 121.5 526.4 121.9 527.1 122.2 527.9 122.4 528.6 122.5 529.3 122.6 530.0 122.8 530.7 123.3 531.5 123.8 532.2 124.5 532.9 125.4 533.6 126.2 534.3 127.2 535.0 128.1 535.8 129.1 536.5 129.9 537.2 130.7 537.9 131.4 538.6 132.0 539.4 132.4 540.1 132.7 540.8 132.8 541.5 132.7 542.2 132.4 542.9 132.0 543.7 131.4 544.4 130.7 545.1 129.8 545.8 128.9 546.5 127.8 547.2 126.6 548.0 125.4 548.7 124.2 549.4 123.0 550.1 121.8 550.8 120.7 551.5 119.6 552.2 118.6 553.0 117.7 553.7 117.0 554.4 116.4 555.1 116.0 555.8 115.7 556.5 115.6 557.2 115.7 558.0 116.0 558.7 116.3 559.4 116.9 560.1 117.5 560.8 118.3 561.5 119.2 562.2 120.2 563.0 121.2 563.7 122.3 564.4 123.4 565.1 124.5 565.8 125.5 566.5 126.6 567.2 127.5 568.0 128.4 568.7 129.2 569.4 129.8 570.1 130.4 570.8 130.8 571.5 131.0 572.2 131.1" fill="none" stroke="#fbd27a" stroke-width="1.15" stroke-linejoin="round"/><path d="M310.2 130.7 311.3 130.9 312.3 131.0 313.4 131.1 314.4 131.2 315.5 131.3 316.6 131.4 317.6 131.5 318.7 131.6 319.7 131.7 320.8 131.8 321.8 131.9 322.9 132.0 324.0 132.2 324.5 132.3 325.0 132.3 325.6 132.4 326.1 132.5 326.6 132.6 327.1 132.7 327.7 132.8 328.2 132.9 328.7 133.1 329.3 133.3 329.8 133.5 330.4 133.8 330.9 134.1 331.4 134.4 332.0 134.7 332.5 135.1 333.0 135.4 333.6 135.8 334.1 136.2 334.7 136.6 335.2 136.9 335.7 137.3 336.3 137.6 336.8 138.0 337.3 138.3 337.9 138.6 338.4 138.8 339.0 139.1 339.5 139.3 340.0 139.4 340.6 139.5 341.1 139.6 342.2 124.4 342.8 93.9 343.4 71.1 344.0 60.3 344.5 50.4 345.1 41.6 345.7 34.4 346.3 28.8 346.8 25.3 347.4 24.1 347.9 24.5 348.5 25.7 349.0 27.6 349.6 30.1 350.1 33.1 350.6 36.5 351.2 40.3 351.7 44.3 352.3 48.4 352.8 52.6 353.3 56.7 353.9 60.8 354.4 65.1 355.0 70.3 355.5 76.1 356.0 82.4 356.6 89.0 357.1 95.8 357.6 102.5 358.2 109.0 358.7 115.1 359.3 120.8 359.8 125.7 360.3 129.8 360.9 132.8 361.4 135.2 361.9 137.4 362.5 139.5 363.0 141.4 363.6 143.2 364.1 144.8 364.6 146.3 365.2 147.8 365.7 149.1 366.2 150.3 366.8 151.4 367.3 152.4 367.9 153.4 368.4 154.3 368.9 155.2 369.5 156.2 370.0 157.1 370.6 158.0 371.1 158.8 371.7 159.6 372.2 160.4 372.8 161.1 373.3 161.7 373.9 162.3 374.4 162.8 374.9 163.1 375.5 163.4 376.0 163.6 376.6 163.7 377.7 163.5 378.2 163.3 378.8 163.0 379.3 162.6 379.9 162.2 380.4 161.8 381.0 161.3 381.5 160.7 382.0 160.2 382.6 159.6 383.1 159.0 383.7 158.5 384.2 157.9 384.8 157.3 385.3 156.8 385.9 156.3 386.4 155.7 387.0 155.1 387.5 154.5 388.1 153.9 388.6 153.2 389.1 152.6 389.7 151.9 390.2 151.2 390.8 150.5 391.3 149.8 391.9 149.2 392.4 148.5 393.0 147.8 393.5 147.2 394.1 146.5 394.6 145.9 395.1 145.3 395.6 144.7 396.2 144.1 396.7 143.4 397.2 142.8 397.7 142.2 398.2 141.6 398.8 141.0 399.3 140.4 399.8 139.8 400.3 139.2 400.9 138.6 401.4 138.0 401.9 137.4 402.4 136.8 403.0 136.2 403.5 135.6 404.0 135.1 404.5 134.5 405.1 133.9 405.6 133.3 406.2 132.6 406.7 131.9 407.3 131.2 407.8 130.4 408.4 129.7 408.9 129.1 409.5 128.4 410.0 127.8 410.5 127.3 411.1 126.8 411.6 126.5 412.2 126.2 412.7 126.0 413.3 125.9 413.8 126.0 414.4 126.3 414.9 126.7 415.5 127.3 416.0 127.9 416.5 128.6 417.1 129.4 417.6 130.2 418.2 131.0 418.7 131.8 419.3 132.5 419.8 133.2 420.4 133.7 420.9 134.1 421.5 134.4 422.0 134.5 422.6 134.4 423.1 134.1 423.7 133.7 424.2 133.1 424.8 132.4 425.3 131.7 425.9 130.8 426.4 129.9 427.0 129.0 427.5 128.0 428.1 127.1 428.6 126.2 429.2 125.3 429.7 124.6 430.3 123.9 430.8 123.3 431.4 122.9 431.9 122.6 432.5 122.5 433.0 122.7 433.5 123.2 434.1 123.9 434.6 124.9 435.1 126.1 435.6 127.5 436.2 129.0 436.7 130.5 437.2 132.1 437.7 133.7 438.3 135.3 438.8 136.7 439.3 138.1 439.8 139.3 440.4 140.3 440.9 141.0 441.4 141.5 441.9 141.7 442.5 141.4 443.0 140.7 443.5 139.5 444.1 137.9 444.6 135.9 445.1 133.6 445.6 131.1 446.2 128.4 446.7 125.6 447.2 122.6 447.8 119.6 448.3 116.6 448.8 113.6 449.4 110.8 449.9 108.0 450.4 105.5 451.0 103.3 451.5 101.3 452.0 99.7 452.6 98.5 453.1 97.7 453.6 97.5 454.2 97.6 454.7 97.9 455.2 98.5 455.8 99.2 456.3 100.1 456.8 101.2 457.3 102.4 457.9 103.7 458.4 105.0 458.9 106.5 459.5 108.0 460.0 109.6 460.5 111.2 461.1 112.8 461.6 114.3 462.1 115.8 462.7 117.3 463.2 118.7 463.7 120.0 464.2 121.2 464.8 122.2 465.3 123.2 465.8 123.9 466.4 124.4 466.9 124.8 467.4 124.9 468.0 124.8 468.5 124.5 469.0 124.0 469.6 123.4 470.1 122.7 470.7 121.8 471.2 120.8 471.7 119.7 472.3 118.5 472.8 117.3 473.4 116.1 473.9 114.8 474.4 113.6 475.0 112.3 475.5 111.1 476.1 110.0 476.6 108.9 477.1 107.9 477.7 106.9 478.2 106.2 478.8 105.5 479.3 105.0 479.8 104.7 480.4 104.4 480.9 104.2 481.5 104.1 482.0 103.9 482.5 103.8 483.1 103.7 483.6 103.6 484.2 103.5 484.7 103.4 485.3 103.3 485.8 103.2 486.3 103.1 486.9 103.0 487.4 102.8 488.0 102.7 488.5 102.5 489.1 102.4 489.6 102.2 490.1 101.9 490.7 101.5 491.2 100.9 491.8 100.2 492.3 99.2 492.9 98.1 493.4 97.0 494.0 95.8 494.5 94.6 495.1 93.3 495.6 92.2 496.1 91.1 496.7 90.2 497.2 89.4 497.8 88.7 498.3 88.3 498.9 88.2 499.4 88.3 500.0 88.7 500.5 89.3 501.1 90.0 501.6 90.9 502.2 92.0 502.7 93.1 503.2 94.4 503.8 95.6 504.3 96.9 504.9 98.2 505.4 99.5 506.0 100.7 506.5 101.8 507.1 102.8 507.6 103.6 508.2 104.4 508.7 105.2 509.3 106.0 509.9 106.8 510.4 107.5 511.0 108.3 511.6 109.0 512.1 109.7 512.7 110.3 513.3 110.9 513.8 111.5 514.4 112.0 514.9 112.6 515.5 113.0 516.0 113.4 516.5 113.8 517.1 114.2 517.6 114.6 518.1 114.9 518.7 115.2 519.2 115.6 519.7 115.9 520.3 116.2 520.8 116.5 521.3 116.8 521.9 117.1 522.4 117.4 522.9 117.7 523.5 118.1 524.0 118.4 524.5 118.7 525.1 119.1 525.6 119.4 526.1 119.8 526.7 120.3 527.2 120.7 527.7 121.2 528.3 121.7 528.8 122.2 529.3 122.7 529.9 123.2 530.4 123.7 530.9 124.1 531.5 124.6 532.0 125.1 532.5 125.5 533.1 125.9 533.6 126.3 534.1 126.6 534.7 126.9 535.2 127.2 535.7 127.4 536.2 127.5 536.8 127.6 537.9 127.6 538.4 127.4 539.0 127.1 539.5 126.7 540.1 126.2 540.6 125.6 541.2 125.0 541.7 124.4 542.3 123.7 542.8 123.0 543.4 122.4 543.9 121.7 544.5 121.1 545.0 120.5 545.6 120.1 546.1 119.6 546.7 119.3 547.2 119.1 547.8 119.1 548.3 119.1 548.9 119.3 549.4 119.6 550.0 119.9 550.6 120.3 551.1 120.8 551.7 121.4 552.2 121.9 552.8 122.5 553.3 123.2 553.9 123.8 554.4 124.4 555.0 125.0 555.5 125.6 556.1 126.1 556.6 126.6 557.2 127.0 557.7 127.4 558.3 127.6 558.8 127.8 559.3 128.0 559.9 128.2 560.4 128.4 561.0 128.6 561.5 128.7 562.0 128.9 562.6 129.0 563.1 129.1 563.6 129.3 564.2 129.4 564.7 129.5 565.3 129.6 565.8 129.7 566.3 129.8 566.9 129.9 567.4 130.0 567.9 130.1 568.5 130.3 569.0 130.4 569.6 130.5 570.1 130.6 570.6 130.7 571.2 130.8 571.7 130.9 572.2 131.1" fill="none" stroke="#fdf5bd" stroke-width="1.15" stroke-linejoin="round"/><path d="M310.2 130.7 310.7 130.8 311.3 130.9 311.8 131.0 312.3 131.1 312.9 131.2 313.4 131.3 313.9 131.4 314.5 131.5 315.0 131.6 315.5 131.6 316.0 131.7 316.6 131.8 317.1 131.9 317.6 132.0 318.2 132.1 318.7 132.2 319.2 132.3 319.8 132.4 320.3 132.5 320.8 132.6 321.4 132.7 321.9 132.9 322.4 133.0 323.0 133.1 323.5 133.3 324.0 133.4 324.5 133.6 325.0 133.7 325.6 133.9 326.1 134.1 326.6 134.3 327.1 134.5 327.7 134.7 328.2 134.9 328.7 135.1 329.2 135.3 329.8 135.5 330.3 135.8 330.8 136.0 331.3 136.2 331.9 136.5 332.4 136.8 332.9 137.0 333.4 137.3 334.0 137.6 334.5 138.0 335.1 138.4 335.7 138.9 336.2 139.5 336.8 140.1 337.3 140.7 337.9 141.3 338.5 141.9 339.0 142.4 339.6 142.8 340.2 143.1 340.7 143.3 341.3 143.4 341.8 124.9 342.3 83.7 342.9 41.9 343.4 21.3 343.7 20.1 343.9 19.6 344.5 19.9 345.0 20.9 345.5 22.5 346.1 24.6 346.6 27.1 347.1 30.0 347.7 33.2 348.2 36.6 348.7 40.1 349.3 43.7 349.8 47.3 350.4 50.8 350.9 54.2 351.4 57.3 352.0 60.5 352.5 63.9 353.0 67.4 353.6 71.1 354.1 74.8 354.7 78.5 355.2 82.2 355.7 85.7 356.3 89.1 356.8 92.2 357.4 95.1 357.9 97.7 358.5 100.1 359.0 102.3 359.6 104.6 360.2 107.1 360.7 109.7 361.3 112.5 361.8 115.4 362.3 118.3 362.9 121.2 363.4 124.2 364.0 127.0 364.5 129.4 365.1 131.3 365.6 132.7 366.2 133.7 366.7 134.7 367.3 135.9 367.9 137.6 368.4 139.7 369.0 142.0 369.5 144.0 370.1 145.5 370.6 146.4 371.2 146.9 371.7 147.8 372.3 149.7 372.8 152.7 373.4 156.6 373.9 160.9 374.4 165.0 375.0 168.2 375.5 170.1 376.1 171.0 376.7 171.2 377.2 171.0 377.8 170.5 378.4 169.7 378.9 168.4 379.4 166.6 380.0 164.3 380.5 161.4 381.1 158.1 381.6 154.7 382.2 151.8 382.7 149.5 383.3 147.7 383.8 146.6 384.4 146.2 384.9 146.3 385.5 146.7 386.0 147.4 386.6 147.9 387.1 148.5 387.7 149.1 388.2 150.0 388.7 151.0 389.3 152.0 389.8 152.7 390.4 153.1 390.9 152.9 391.5 152.2 392.0 151.4 392.5 150.5 393.1 150.0 393.6 149.6 394.2 149.4 394.7 149.1 395.3 148.3 395.8 147.0 396.4 145.2 396.9 143.3 397.5 141.6 398.0 140.5 398.6 140.3 399.1 140.8 399.6 141.8 400.2 142.6 400.7 142.7 401.3 141.8 401.9 140.0 402.4 137.8 403.0 135.5 403.5 133.8 404.1 132.9 404.6 132.7 405.2 132.8 405.7 132.6 406.3 131.8 406.8 130.0 407.4 127.4 407.9 124.6 408.5 122.0 409.0 120.4 409.6 119.9 410.1 120.4 410.7 121.6 411.2 122.9 411.7 123.9 412.2 124.3 412.7 124.1 413.3 123.7 413.8 123.4 414.3 123.5 414.8 124.2 415.4 125.5 415.9 127.1 416.4 128.7 416.9 130.0 417.5 130.7 418.0 130.8 418.5 130.4 419.0 129.8 419.6 129.1 420.2 128.6 420.8 128.3 421.4 128.1 422.0 127.8 422.6 127.2 423.2 126.4 423.8 125.8 424.3 125.2 424.8 124.9 425.3 124.7 426.4 124.5 426.9 124.1 427.4 123.4 427.9 122.5 428.5 121.5 429.0 120.8 429.5 120.5 430.0 120.7 430.6 121.1 431.1 121.6 431.6 121.7 432.1 121.3 432.7 120.2 433.2 118.6 433.7 116.8 434.2 115.1 434.8 114.0 435.3 113.6 435.8 113.8 436.3 114.4 436.9 114.9 437.9 114.1 438.4 112.7 439.0 111.0 439.5 109.4 440.0 108.5 441.1 109.5 441.6 111.0 442.1 112.8 442.6 114.2 443.1 114.8 443.7 114.6 444.2 113.8 444.7 112.6 445.3 111.7 445.8 111.5 446.4 112.2 446.9 113.6 447.5 115.3 448.0 116.8 448.6 117.8 449.1 118.0 449.7 117.7 450.2 117.2 450.8 116.9 451.3 117.1 451.9 117.9 452.4 119.1 452.9 120.4 453.5 121.7 454.0 122.9 454.5 123.7 455.1 124.3 455.6 125.0 456.2 125.7 456.7 126.7 457.2 127.8 457.8 128.9 458.3 129.8 458.8 130.2 459.4 130.4 459.9 130.2 460.4 130.0 461.0 129.9 461.6 130.0 462.2 130.2 463.4 129.7 463.9 128.9 464.5 127.7 465.0 126.5 465.5 125.6 466.0 125.3 466.6 125.6 467.1 126.4 467.6 127.6 468.1 128.6 468.7 129.0 469.2 128.9 469.7 128.1 470.2 127.0 470.7 126.0 471.3 125.5 471.8 125.7 472.3 126.5 472.8 127.7 473.4 128.8 473.9 129.2 474.4 128.8 475.0 127.4 475.5 125.3 476.0 123.0 476.6 121.2 477.1 120.1 477.7 120.0 478.2 120.5 478.8 121.3 479.3 121.8 479.8 121.6 480.4 120.7 480.9 119.2 481.5 117.6 482.0 116.4 482.5 115.8 483.1 116.0 483.6 116.7 484.2 117.6 484.7 118.2 485.8 117.3 486.4 115.4 486.9 113.1 487.5 110.5 488.0 108.2 488.6 106.0 489.1 103.3 489.7 99.5 490.2 95.2 490.8 91.0 491.3 87.5 491.9 85.7 492.4 85.5 493.0 86.0 493.5 87.1 494.1 88.4 494.7 89.4 495.2 89.9 495.7 88.8 496.3 86.6 496.8 84.4 497.3 83.8 497.8 84.7 498.4 86.2 498.9 87.8 499.5 89.4 500.0 90.5 500.6 91.0 501.1 91.1 501.7 91.0 502.2 91.2 502.8 91.9 503.3 93.3 503.9 95.1 504.4 97.0 504.9 98.4 505.5 99.0 506.0 98.7 506.6 97.8 507.1 96.8 507.7 96.3 508.2 96.6 508.8 97.9 509.3 100.0 509.9 102.4 510.4 104.5 511.0 105.8 511.5 106.1 512.0 105.7 512.6 105.1 513.1 104.8 513.7 105.0 514.2 106.0 514.8 107.4 515.3 108.8 515.9 110.0 516.4 110.6 517.5 110.3 518.0 109.9 518.6 109.8 519.1 110.0 519.7 110.7 520.2 111.6 520.8 112.7 521.3 113.7 521.9 114.4 522.4 115.0 523.0 115.4 523.5 115.8 524.1 116.3 524.6 116.8 525.1 117.4 525.7 118.0 526.2 118.5 526.8 119.0 527.3 119.5 527.9 119.8 528.4 120.2 529.0 120.5 529.5 120.8 530.1 121.1 530.6 121.3 531.2 121.5 531.7 121.6 532.8 121.5 533.9 121.5 534.4 121.6 535.0 121.8 535.5 122.1 536.1 122.3 536.6 122.4 537.7 122.4 538.2 122.4 539.3 122.4 539.9 122.6 540.4 122.8 541.0 123.1 541.5 123.2 542.6 123.0 543.1 122.6 543.6 122.1 544.2 121.6 544.7 121.1 545.2 120.8 545.8 120.5 546.3 120.3 546.8 120.0 547.4 119.7 547.9 119.3 548.4 118.8 548.9 118.2 549.5 117.6 550.0 117.2 550.5 116.9 551.1 116.7 552.1 116.7 553.2 116.7 553.7 116.6 554.3 116.5 555.3 116.6 555.9 116.9 556.4 117.5 557.0 118.1 557.5 118.9 558.1 119.6 558.6 120.3 559.2 120.9 559.7 121.5 560.3 122.0 560.8 122.5 561.4 123.0 561.9 123.4 562.4 123.7 563.0 123.8 564.1 123.8 565.2 123.7 566.3 123.8 566.8 123.9 567.9 123.9 568.4 123.7 569.0 123.5 569.5 123.3 570.1 123.1 570.6 123.0 571.2 122.9 572.2 122.9" fill="none" stroke="#f2f9ff" stroke-width="1.1" stroke-linejoin="round"/><path d="M310.2 130.7 310.7 130.8 311.3 130.9 311.8 131.0 312.3 131.1 312.9 131.2 313.4 131.3 313.9 131.4 314.5 131.5 315.0 131.6 315.5 131.6 316.0 131.7 316.6 131.8 317.1 131.9 317.6 132.0 318.2 132.1 318.7 132.2 319.2 132.3 319.8 132.4 320.3 132.5 320.8 132.6 321.4 132.7 321.9 132.9 322.4 133.0 323.0 133.1 323.5 133.3 324.0 133.4 324.5 133.6 325.0 133.7 325.6 133.9 326.1 134.1 326.6 134.3 327.1 134.5 327.7 134.7 328.2 134.9 328.7 135.1 329.2 135.3 329.8 135.5 330.3 135.8 330.8 136.0 331.3 136.2 331.9 136.5 332.4 136.8 332.9 137.0 333.4 137.3 334.0 137.6 334.5 138.0 335.1 138.4 335.7 138.9 336.2 139.5 336.8 140.1 337.3 140.7 337.9 141.3 338.5 141.9 339.0 142.4 339.6 142.8 340.2 143.1 340.7 143.3 341.3 143.4 341.9 131.5 342.4 102.7 343.0 67.3 343.5 35.6 344.1 17.9 344.0 19.0 343.9 19.6 344.5 19.9 345.0 20.9 345.5 22.5 346.1 24.6 346.6 27.1 347.1 30.0 347.7 33.2 348.2 36.6 348.7 40.1 349.3 43.7 349.8 47.3 350.4 50.8 350.9 54.2 351.4 57.3 352.0 60.5 352.5 63.9 353.0 67.4 353.6 71.1 354.1 74.8 354.7 78.5 355.2 82.2 355.7 85.7 356.3 89.1 356.8 92.2 357.4 95.1 357.9 97.7 358.5 100.1 359.0 102.3 359.6 104.6 360.2 107.1 360.7 109.7 361.3 112.5 361.8 115.3 362.3 118.2 362.9 121.1 363.4 123.7 364.0 126.2 364.5 128.4 365.1 130.3 365.6 132.1 366.2 133.9 366.7 135.7 367.3 137.7 367.9 139.6 368.4 141.3 369.0 142.9 369.5 144.3 370.1 145.7 370.6 147.4 371.2 149.8 371.7 152.8 372.3 156.2 372.8 159.6 373.4 162.5 373.9 164.6 374.4 165.7 375.0 166.2 375.5 166.3 376.1 166.6 376.7 167.7 377.2 169.2 377.8 170.5 378.4 170.7 378.9 169.6 379.4 167.2 380.0 163.8 380.5 159.9 381.1 156.1 381.6 153.1 382.2 151.5 382.7 150.8 383.3 150.5 383.8 150.4 384.4 150.3 384.9 150.1 385.5 150.0 386.6 150.2 387.1 150.7 387.7 151.4 388.2 152.1 388.7 152.7 389.3 152.8 389.8 152.6 390.4 151.9 390.9 151.2 391.5 150.5 392.0 150.1 393.1 150.5 393.6 150.6 394.2 150.3 394.7 149.4 395.3 148.0 395.8 146.1 396.4 144.4 396.9 143.2 397.5 142.7 398.0 143.0 398.6 143.7 399.1 144.6 399.6 145.2 400.2 145.0 400.7 143.9 401.3 142.1 401.9 140.1 402.4 138.2 403.0 136.7 403.5 135.7 404.1 134.9 404.6 134.3 405.2 133.3 405.7 132.0 406.3 130.2 406.8 128.3 407.4 126.5 407.9 125.0 408.5 124.0 409.0 123.4 409.6 123.1 410.1 122.9 410.7 122.7 411.2 122.4 411.7 122.2 412.2 122.4 412.7 123.0 413.3 124.1 413.8 125.5 414.3 127.0 414.8 128.3 415.4 129.1 415.9 129.3 416.4 129.0 416.9 128.5 417.5 128.2 418.5 128.8 419.0 129.7 419.6 130.9 420.2 131.9 420.8 132.2 421.4 131.5 422.0 129.9 422.6 128.1 423.2 126.6 423.8 125.8 424.3 125.5 424.8 125.6 425.3 125.9 425.9 126.0 426.4 125.7 426.9 125.0 427.4 124.0 427.9 122.9 428.5 121.9 429.0 121.2 429.5 120.8 430.0 120.6 431.1 120.4 431.6 120.0 432.1 119.5 432.7 119.0 433.2 118.6 433.7 118.4 434.8 118.6 435.3 118.8 435.8 118.5 436.3 117.8 436.9 116.6 437.4 115.0 437.9 113.3 438.4 112.0 439.0 111.2 439.5 111.1 440.0 111.6 440.5 112.3 441.1 113.0 441.6 113.3 442.1 112.9 442.6 112.1 443.1 111.0 443.7 110.0 444.2 109.5 444.7 109.7 445.3 110.7 445.8 112.3 446.4 114.2 446.9 116.0 447.5 117.3 448.0 118.1 448.6 118.5 449.1 118.8 449.7 119.3 450.2 120.1 450.8 121.0 451.3 122.0 451.9 122.8 452.4 123.2 452.9 123.3 454.0 123.3 454.5 123.6 455.1 124.2 455.6 125.1 456.2 126.0 456.7 126.8 457.2 127.2 458.3 126.9 458.8 126.6 459.9 127.2 460.4 128.3 461.0 130.0 461.6 131.7 462.2 133.0 462.8 133.3 463.4 132.7 463.9 131.7 464.5 130.5 465.0 129.7 465.5 129.3 466.0 129.5 466.6 130.1 467.1 130.7 467.6 131.1 468.1 130.9 468.7 130.2 469.2 129.0 469.7 127.6 470.2 126.3 470.7 125.3 471.3 124.8 471.8 124.7 472.3 124.8 472.8 125.0 473.9 124.8 474.4 124.5 475.0 124.3 476.0 124.5 476.6 124.9 477.1 125.3 477.7 125.5 478.2 125.3 478.8 124.5 479.3 123.5 479.8 122.5 480.4 121.7 480.9 121.3 481.5 121.4 482.0 121.7 482.5 121.8 483.1 121.5 483.6 120.4 484.2 118.6 484.7 116.3 485.2 114.0 485.8 111.8 486.4 110.1 486.9 109.0 487.5 108.2 488.0 107.5 488.6 106.4 489.1 104.0 489.7 100.0 490.2 95.3 490.8 90.9 491.3 87.7 491.9 86.7 492.4 87.6 493.0 89.3 493.5 91.2 494.1 92.8 494.7 93.9 495.2 94.0 495.7 92.7 496.3 90.2 496.8 87.8 497.3 86.7 497.8 86.9 498.4 87.1 498.9 87.3 500.0 87.2 501.1 87.6 501.7 88.6 502.2 90.2 502.8 92.2 503.3 94.3 503.9 96.2 504.4 97.4 504.9 97.9 506.0 97.8 506.6 97.9 507.1 98.6 507.7 100.1 508.2 102.0 508.8 104.1 509.3 105.8 509.9 106.8 510.4 107.1 511.0 106.7 511.5 105.9 512.0 105.3 512.6 105.2 513.1 105.5 513.7 106.2 514.2 107.0 514.8 107.8 515.3 108.3 515.9 108.5 516.4 108.7 517.0 108.9 517.5 109.3 518.0 110.0 518.6 110.8 519.1 111.7 519.7 112.5 520.2 113.2 520.8 113.8 521.3 114.4 521.9 115.0 522.4 115.7 523.0 116.5 523.5 117.3 524.1 118.0 524.6 118.6 525.1 119.0 525.7 119.2 526.2 119.5 526.8 119.7 527.3 120.0 527.9 120.3 528.4 120.7 529.0 121.1 529.5 121.6 530.1 122.0 530.6 122.2 531.2 122.4 532.2 122.3 532.8 122.2 533.9 122.3 534.4 122.5 535.0 122.7 535.5 123.0 536.1 123.2 536.6 123.3 537.2 123.4 538.2 123.4 538.8 123.5 539.3 123.6 539.9 123.7 540.4 123.8 541.5 123.8 542.0 123.6 542.6 123.4 543.1 123.2 543.6 122.9 544.2 122.7 544.7 122.5 545.2 122.2 545.8 121.8 546.3 121.3 546.8 120.8 547.4 120.2 547.9 119.6 548.4 119.1 548.9 118.8 549.5 118.5 550.0 118.3 550.5 118.2 551.1 118.1 551.6 117.9 552.1 117.6 552.7 117.3 553.2 117.1 553.7 116.9 554.8 117.0 555.3 117.4 555.9 118.0 556.4 118.6 557.0 119.3 557.5 120.0 558.1 120.6 558.6 121.2 559.2 121.8 559.7 122.4 560.3 123.0 560.8 123.6 561.4 124.1 561.9 124.5 562.4 124.7 563.5 124.6 564.1 124.5 565.2 124.5 566.3 124.6 567.3 124.5 567.9 124.3 568.4 124.1 569.0 123.9 569.5 123.8 570.6 123.9 571.2 124.0 571.7 124.1 572.2 124.1" fill="none" stroke="#a9d9f2" stroke-width="1.1" stroke-linejoin="round"/><path d="M310.2 130.7 310.7 130.8 311.3 130.9 311.8 131.0 312.3 131.1 312.9 131.2 313.4 131.3 313.9 131.4 314.5 131.5 315.0 131.6 315.5 131.6 316.0 131.7 316.6 131.8 317.1 131.9 317.6 132.0 318.2 132.1 318.7 132.2 319.2 132.3 319.8 132.4 320.3 132.5 320.8 132.6 321.4 132.7 321.9 132.9 322.4 133.0 323.0 133.1 323.5 133.3 324.0 133.4 324.5 133.6 325.0 133.7 325.6 133.9 326.1 134.1 326.6 134.3 327.1 134.5 327.7 134.7 328.2 134.9 328.7 135.1 329.2 135.3 329.8 135.5 330.3 135.8 330.8 136.0 331.3 136.2 331.9 136.5 332.4 136.8 332.9 137.0 333.4 137.3 334.0 137.6 334.5 138.0 335.1 138.4 335.7 138.9 336.2 139.5 336.8 140.1 337.3 140.7 337.9 141.3 338.5 141.9 339.0 142.4 339.6 142.8 340.2 143.1 340.7 143.3 341.3 143.4 341.9 123.8 342.5 80.5 343.1 37.2 343.7 17.5 343.8 18.4 343.9 19.6 344.5 23.7 345.0 27.3 345.5 30.6 346.1 33.5 346.6 36.1 347.1 38.5 347.7 40.8 348.2 42.9 348.7 45.1 349.3 47.2 349.8 49.5 350.4 51.9 350.9 54.5 351.4 57.3 352.0 60.5 352.5 63.9 353.0 67.4 353.6 71.1 354.1 74.8 354.7 78.5 355.2 82.2 355.7 85.7 356.3 89.1 356.8 92.2 357.4 95.1 357.9 97.7 358.5 100.1 359.0 102.3 359.6 104.6 360.2 107.1 360.7 109.7 361.3 112.4 361.8 115.3 362.3 118.2 362.9 121.1 363.4 123.8 364.0 126.3 364.5 128.5 365.1 130.7 365.6 132.8 366.2 135.1 366.7 137.3 367.3 139.5 367.9 141.4 368.4 143.0 369.0 144.4 369.5 145.7 370.1 147.2 370.6 148.9 371.2 150.8 371.7 152.9 372.3 155.0 372.8 156.9 373.4 158.7 373.9 160.3 374.4 162.0 375.0 163.9 375.5 165.9 376.1 168.3 376.7 170.8 377.2 172.6 377.8 173.3 378.4 172.5 378.9 170.2 379.4 167.0 380.0 163.7 380.5 160.6 381.1 158.3 381.6 156.7 382.2 156.1 382.7 155.7 383.3 154.9 383.8 153.8 384.4 152.5 384.9 151.4 385.5 150.7 386.0 150.6 386.6 150.8 387.1 151.2 387.7 151.6 388.2 151.7 388.7 151.5 389.3 151.2 389.8 150.8 390.4 150.6 390.9 150.7 391.5 151.1 392.0 151.7 392.5 152.1 393.1 152.2 393.6 151.7 394.2 150.6 394.7 149.2 395.3 147.8 395.8 146.7 396.4 146.1 397.5 146.4 398.0 146.8 398.6 147.0 399.1 146.8 399.6 146.1 400.2 145.1 400.7 143.8 401.3 142.5 401.9 141.4 402.4 140.3 403.0 139.2 403.5 137.9 404.1 136.2 404.6 134.2 405.2 132.2 405.7 130.3 406.3 128.7 406.8 127.8 407.4 127.3 407.9 127.0 408.5 126.7 409.0 126.2 409.6 125.4 410.1 124.3 410.7 123.4 411.2 122.7 411.7 122.5 412.2 123.0 412.7 124.0 413.3 125.4 413.8 126.8 414.3 128.0 414.8 128.9 415.4 129.3 415.9 129.5 416.4 129.6 416.9 129.8 417.5 130.2 418.0 130.8 418.5 131.3 419.0 131.7 420.2 131.3 420.8 130.6 421.4 129.9 422.0 129.6 422.6 129.8 423.2 130.3 423.8 130.6 424.8 130.0 425.3 128.8 425.9 127.1 426.4 125.4 426.9 123.7 427.4 122.5 427.9 121.9 428.5 121.8 429.0 121.9 429.5 122.1 430.6 121.7 431.1 121.0 431.6 120.2 432.1 119.4 432.7 118.9 433.2 118.7 434.2 118.9 435.3 118.7 435.8 118.2 436.3 117.5 436.9 116.8 437.4 116.3 437.9 116.1 438.4 116.2 439.0 116.4 439.5 116.7 440.5 116.1 441.1 115.0 441.6 113.7 442.1 112.3 442.6 111.2 443.1 110.5 444.2 111.0 444.7 111.8 445.3 112.7 445.8 113.5 446.4 114.1 446.9 114.5 447.5 114.9 448.0 115.4 448.6 116.3 449.1 117.5 449.7 119.1 450.2 120.6 450.8 121.9 451.3 122.9 451.9 123.6 452.4 124.0 452.9 124.5 453.5 125.3 454.0 126.5 454.5 127.8 455.1 129.0 455.6 130.0 456.2 130.4 456.7 130.2 457.2 129.6 457.8 128.8 458.3 128.2 458.8 128.0 459.4 128.3 459.9 129.0 460.4 129.8 461.0 130.6 461.6 131.0 462.2 130.9 462.8 130.3 463.4 129.7 463.9 129.3 464.5 129.2 465.0 129.5 465.5 129.8 466.0 130.2 466.6 130.4 467.6 130.1 468.1 129.8 468.7 129.6 469.2 129.7 469.7 130.1 470.2 130.7 470.7 131.2 471.3 131.4 471.8 131.1 472.3 130.2 472.8 129.0 473.4 127.6 473.9 126.3 474.4 125.5 475.0 125.1 475.5 125.2 476.0 125.6 476.6 125.9 477.1 125.8 477.7 125.2 478.2 124.3 478.8 123.1 479.3 121.9 479.8 121.1 480.4 120.5 480.9 120.3 481.5 120.2 482.0 120.1 482.5 119.7 483.1 119.0 483.6 118.3 484.2 117.6 484.7 117.2 485.2 117.0 485.8 117.0 486.4 116.6 486.9 115.7 487.5 114.1 488.0 111.8 488.6 108.9 489.1 105.1 489.7 100.5 490.2 96.0 490.8 92.4 491.3 90.3 491.9 89.9 492.4 90.8 493.0 91.6 493.5 92.2 494.1 92.3 494.7 92.1 495.2 91.6 495.7 90.1 496.3 87.8 496.8 85.7 497.3 85.0 497.8 85.3 498.4 85.6 498.9 86.0 499.5 86.6 500.0 87.5 500.6 88.8 501.1 90.6 501.7 92.7 502.2 94.8 502.8 96.5 503.3 97.8 503.9 98.5 504.4 98.8 504.9 99.0 505.5 99.4 506.0 100.2 506.6 101.3 507.1 102.8 507.7 104.2 508.2 105.3 508.8 105.8 509.9 105.3 510.4 104.8 511.0 104.4 512.0 104.7 512.6 105.3 513.1 105.9 513.7 106.5 514.2 106.8 514.8 107.1 515.3 107.5 515.9 108.1 516.4 109.0 517.0 110.2 517.5 111.4 518.0 112.5 518.6 113.4 519.1 114.0 519.7 114.3 520.2 114.6 520.8 115.0 521.3 115.6 521.9 116.3 522.4 117.2 523.0 118.0 523.5 118.7 524.1 119.2 524.6 119.6 525.1 119.8 525.7 120.1 526.2 120.3 526.8 120.6 527.3 121.0 527.9 121.4 528.4 121.7 529.0 122.1 529.5 122.4 530.1 122.6 530.6 122.8 531.2 123.0 531.7 123.1 532.2 123.3 532.8 123.5 533.3 123.7 533.9 123.8 534.4 124.0 535.5 124.0 536.6 124.0 537.2 124.1 537.7 124.2 538.2 124.4 538.8 124.7 539.3 124.9 539.9 125.0 541.0 124.9 541.5 124.8 542.0 124.6 542.6 124.4 543.1 124.1 543.6 123.9 544.2 123.7 544.7 123.4 545.2 123.0 545.8 122.6 546.3 122.2 546.8 121.7 547.4 121.3 547.9 120.9 548.4 120.6 548.9 120.3 549.5 119.9 550.0 119.6 550.5 119.2 551.1 118.8 551.6 118.4 552.1 118.1 552.7 117.9 553.2 117.8 554.3 118.0 554.8 118.3 555.3 118.7 555.9 119.1 556.4 119.6 557.0 120.1 557.5 120.7 558.1 121.3 558.6 122.0 559.2 122.8 559.7 123.6 560.3 124.3 560.8 124.9 561.4 125.3 561.9 125.7 562.4 125.8 563.5 125.8 564.6 125.8 565.7 125.7 566.3 125.6 566.8 125.3 567.3 125.1 567.9 124.9 568.4 124.8 569.5 124.8 570.1 124.9 570.6 124.9 571.7 124.9 572.2 124.8" fill="none" stroke="#5aa6de" stroke-width="1.1" stroke-linejoin="round"/><path d="M310.2 130.7 310.7 130.8 311.3 130.9 311.8 131.0 312.3 131.1 312.9 131.2 313.4 131.3 313.9 131.4 314.5 131.5 315.0 131.6 315.5 131.6 316.0 131.7 316.6 131.8 317.1 131.9 317.6 132.0 318.2 132.1 318.7 132.2 319.2 132.3 319.8 132.4 320.3 132.5 320.8 132.6 321.4 132.7 321.9 132.9 322.4 133.0 323.0 133.1 323.5 133.3 324.0 133.4 324.5 133.6 325.0 133.7 325.6 133.9 326.1 134.1 326.6 134.3 327.1 134.5 327.7 134.7 328.2 134.9 328.7 135.1 329.2 135.3 329.8 135.5 330.3 135.8 330.8 136.0 331.3 136.2 331.9 136.5 332.4 136.8 332.9 137.0 333.4 137.3 334.0 137.6 334.5 138.0 335.1 138.4 335.7 138.9 336.2 139.5 336.8 140.1 337.3 140.7 337.9 141.3 338.5 141.9 339.0 142.4 339.6 142.8 340.2 143.1 340.7 143.3 341.3 143.4 341.8 111.3 342.3 51.7 342.9 19.6 343.9 19.6 344.5 19.9 345.0 20.9 345.5 22.5 346.1 24.6 346.6 27.1 347.1 30.0 347.7 33.2 348.2 36.6 348.7 40.1 349.3 43.7 349.8 47.3 350.4 50.8 350.9 54.2 351.4 57.3 352.0 60.5 352.5 63.9 353.0 67.4 353.6 71.1 354.1 74.8 354.7 78.5 355.2 82.2 355.7 85.7 356.3 89.1 356.8 92.2 357.4 95.1 357.9 97.7 358.5 100.1 359.0 102.3 359.6 104.6 360.2 107.1 360.7 109.7 361.3 112.4 361.8 115.2 362.3 118.1 362.9 120.9 363.4 123.7 364.0 126.3 364.5 128.8 365.1 131.1 365.6 133.3 366.2 135.3 366.7 136.9 367.3 138.3 367.9 139.5 368.4 140.8 369.0 142.3 369.5 144.1 370.1 146.4 370.6 148.8 371.2 151.3 371.7 153.8 372.3 156.1 372.8 158.4 373.4 160.7 373.9 163.1 374.4 165.7 375.0 168.1 375.5 170.2 376.1 172.0 376.7 173.5 377.2 174.2 377.8 174.1 378.4 173.0 378.9 171.2 379.4 169.0 380.0 166.7 380.5 164.5 381.1 162.3 381.6 160.3 382.2 158.5 382.7 156.8 383.3 154.8 383.8 152.9 384.4 151.3 384.9 150.4 385.5 150.2 386.0 150.4 386.6 150.6 387.1 150.8 388.2 150.8 389.3 151.1 389.8 151.7 390.4 152.5 390.9 153.3 391.5 154.0 392.0 154.2 392.5 154.0 393.1 153.3 393.6 152.3 394.2 151.2 394.7 150.4 395.3 149.9 395.8 149.7 396.9 149.6 397.5 149.4 398.0 148.8 398.6 148.0 399.1 147.1 399.6 146.2 400.2 145.5 400.7 144.9 401.3 144.3 401.9 143.4 402.4 142.2 403.0 140.4 403.5 138.3 404.1 136.0 404.6 133.8 405.2 132.0 405.7 130.6 406.3 129.8 406.8 129.2 407.4 128.8 407.9 128.2 408.5 127.4 409.0 126.5 409.6 125.7 410.1 125.2 410.7 125.1 411.2 125.3 411.7 125.9 412.2 126.5 412.7 127.0 413.3 127.4 413.8 127.5 414.8 127.7 415.4 128.1 415.9 128.8 416.4 129.9 416.9 131.1 417.5 132.3 418.0 133.2 418.5 133.6 419.6 133.1 420.2 132.3 420.8 131.7 421.4 131.3 422.0 131.3 422.6 131.5 423.2 131.6 423.8 131.4 424.3 130.8 424.8 129.9 425.3 129.0 425.9 128.2 426.4 127.5 426.9 127.1 427.4 126.8 427.9 126.4 428.5 125.8 429.0 124.8 429.5 123.5 430.0 122.0 430.6 120.6 431.1 119.4 431.6 118.7 432.1 118.5 432.7 118.7 433.2 119.1 433.7 119.4 434.2 119.5 434.8 119.3 435.3 118.9 435.8 118.5 436.3 118.1 436.9 117.9 437.9 118.1 438.4 118.2 439.0 118.1 439.5 117.6 440.0 116.9 440.5 116.0 441.1 115.2 441.6 114.6 442.1 114.4 442.6 114.6 443.1 115.1 443.7 115.6 444.2 115.9 445.3 115.7 445.8 115.3 446.4 115.0 447.5 115.5 448.0 116.3 448.6 117.4 449.1 118.5 449.7 119.5 450.2 120.3 450.8 120.8 451.3 121.4 451.9 122.0 452.4 122.9 452.9 124.2 453.5 125.6 454.0 127.1 454.5 128.4 455.1 129.2 455.6 129.7 456.2 129.8 457.2 129.8 457.8 130.2 458.3 130.8 458.8 131.6 459.4 132.5 459.9 133.1 460.4 133.4 461.0 133.4 461.6 133.1 462.2 132.9 462.8 132.8 463.4 133.0 463.9 133.3 464.5 133.5 465.5 133.0 466.0 132.2 466.6 131.1 467.1 130.1 467.6 129.2 468.1 128.7 468.7 128.6 469.2 128.9 469.7 129.3 470.2 129.6 471.3 129.4 471.8 128.9 472.3 128.4 472.8 127.8 473.4 127.5 474.4 127.6 475.0 127.8 476.0 127.5 476.6 126.9 477.1 126.2 477.7 125.5 478.2 125.1 479.3 125.3 479.8 125.7 480.4 126.0 480.9 125.9 481.5 125.4 482.0 124.4 482.5 123.1 483.1 121.6 483.6 120.4 484.2 119.4 484.7 118.6 485.2 117.9 485.8 117.1 486.4 115.7 486.9 113.8 487.5 111.6 488.0 109.2 488.6 106.9 489.1 104.2 489.7 100.8 490.2 97.3 490.8 94.0 491.3 91.5 491.9 90.2 492.4 90.0 493.0 90.1 493.5 90.6 494.1 91.3 494.7 92.3 495.2 93.2 495.7 92.9 496.3 91.4 496.8 89.7 497.3 88.9 497.8 89.0 498.4 89.2 498.9 89.6 499.5 90.4 500.0 91.6 500.6 92.9 501.1 94.3 501.7 95.4 502.2 96.3 502.8 96.8 503.3 97.1 503.9 97.5 504.4 98.1 504.9 99.0 505.5 100.2 506.0 101.5 506.6 102.7 507.1 103.5 507.7 104.0 508.2 104.1 508.8 103.9 509.3 103.8 509.9 103.9 510.4 104.3 511.0 104.9 511.5 105.7 512.0 106.4 512.6 106.9 513.1 107.3 513.7 107.5 514.2 107.9 514.8 108.6 515.3 109.5 515.9 110.7 516.4 112.0 517.0 113.2 517.5 114.1 518.0 114.7 518.6 115.1 519.1 115.3 519.7 115.6 520.2 116.0 520.8 116.6 521.3 117.3 521.9 118.0 522.4 118.6 523.0 119.1 523.5 119.5 524.1 119.8 524.6 120.1 525.1 120.5 525.7 121.0 526.2 121.4 526.8 121.9 527.3 122.3 527.9 122.7 528.4 123.0 529.0 123.3 529.5 123.4 530.1 123.6 530.6 123.8 531.2 124.0 531.7 124.3 532.2 124.5 532.8 124.8 533.3 124.9 533.9 125.1 534.4 125.2 535.0 125.2 535.5 125.3 536.1 125.4 536.6 125.5 537.2 125.6 537.7 125.8 538.2 125.8 539.3 125.9 539.9 125.8 541.0 125.7 542.0 125.7 543.1 125.6 543.6 125.4 544.2 125.1 544.7 124.7 545.2 124.3 545.8 123.8 546.3 123.3 546.8 122.9 547.4 122.5 547.9 122.1 548.4 121.8 548.9 121.4 549.5 121.0 550.0 120.6 550.5 120.2 551.1 119.9 551.6 119.6 552.1 119.5 552.7 119.4 553.7 119.4 554.8 119.4 555.3 119.6 555.9 119.9 556.4 120.4 557.0 120.9 557.5 121.6 558.1 122.4 558.6 123.3 559.2 124.1 559.7 124.9 560.3 125.5 560.8 126.1 561.4 126.6 561.9 126.9 562.4 127.2 563.0 127.3 564.1 127.3 564.6 127.3 565.2 127.1 565.7 126.9 566.3 126.7 566.8 126.5 567.3 126.4 567.9 126.3 569.0 126.2 570.1 126.1 570.6 126.0 571.2 125.9 571.7 125.7 572.2 125.6" fill="none" stroke="#3b6cc2" stroke-width="1.1" stroke-linejoin="round"/><path d="M310.2 130.7 310.7 130.8 311.3 130.9 311.8 131.0 312.3 131.1 312.9 131.2 313.4 131.3 313.9 131.4 314.5 131.5 315.0 131.6 315.5 131.6 316.0 131.7 316.6 131.8 317.1 131.9 317.6 132.0 318.2 132.1 318.7 132.2 319.2 132.3 319.8 132.4 320.3 132.5 320.8 132.6 321.4 132.7 321.9 132.9 322.4 133.0 323.0 133.1 323.5 133.3 324.0 133.4 324.5 133.6 325.0 133.7 325.6 133.9 326.1 134.1 326.6 134.3 327.1 134.5 327.7 134.7 328.2 134.9 328.7 135.1 329.2 135.3 329.8 135.5 330.3 135.8 330.8 136.0 331.3 136.2 331.9 136.5 332.4 136.8 332.9 137.0 333.4 137.3 334.0 137.6 334.5 138.0 335.1 138.4 335.7 138.9 336.2 139.5 336.8 140.1 337.3 140.7 337.9 141.3 338.5 141.9 339.0 142.4 339.6 142.8 340.2 143.1 340.7 143.3 341.3 143.4 341.8 82.7 342.3 21.3 343.1 20.0 343.9 19.6 344.5 19.9 345.0 20.9 345.5 22.5 346.1 24.6 346.6 27.1 347.1 30.0 347.7 33.2 348.2 36.6 348.7 40.1 349.3 43.7 349.8 47.3 350.4 50.8 350.9 54.2 351.4 57.3 352.0 60.5 352.5 63.9 353.0 67.4 353.6 71.1 354.1 74.8 354.7 78.5 355.2 82.2 355.7 85.7 356.3 89.1 356.8 92.2 357.4 95.1 357.9 97.7 358.5 100.1 359.0 102.3 359.6 104.6 360.2 107.1 360.7 109.7 361.3 112.4 361.8 115.2 362.3 118.0 362.9 120.8 363.4 123.5 364.0 126.1 364.5 128.5 365.1 130.9 365.6 133.0 366.2 135.0 366.7 137.0 367.3 139.0 367.9 141.1 368.4 143.4 369.0 145.7 369.5 148.1 370.1 150.4 370.6 152.4 371.2 154.2 371.7 155.9 372.3 157.8 372.8 160.0 373.4 162.5 373.9 165.2 374.4 167.7 375.0 169.9 375.5 171.5 376.1 172.8 376.7 173.9 377.2 174.6 377.8 174.9 378.4 174.4 378.9 173.1 379.4 171.1 380.0 168.5 380.5 165.4 381.1 162.2 381.6 159.2 382.2 156.8 382.7 154.9 383.3 153.3 383.8 152.1 384.4 151.4 384.9 151.1 386.0 151.3 386.6 151.4 387.1 151.5 387.7 151.8 388.2 152.3 388.7 153.1 389.3 154.0 389.8 155.0 390.4 155.8 390.9 156.1 391.5 156.0 392.0 155.6 392.5 154.9 393.1 154.1 393.6 153.5 394.2 153.1 394.7 152.9 395.3 152.7 395.8 152.4 396.4 151.8 396.9 151.0 397.5 150.0 398.0 149.1 398.6 148.2 399.1 147.6 399.6 147.3 400.2 146.9 400.7 146.4 401.3 145.4 401.9 144.1 402.4 142.3 403.0 140.3 403.5 138.3 404.1 136.5 404.6 135.0 405.2 133.8 405.7 132.7 406.3 131.7 406.8 130.6 407.4 129.3 407.9 128.2 408.5 127.2 409.0 126.5 409.6 126.4 410.1 126.7 410.7 127.3 411.2 127.9 411.7 128.4 412.2 128.7 413.3 128.7 414.3 128.8 414.8 129.2 415.4 129.9 415.9 130.6 416.4 131.4 416.9 132.0 417.5 132.4 418.0 132.6 419.0 132.5 420.2 132.9 420.8 133.5 421.4 134.0 422.0 134.3 422.6 134.2 423.2 133.7 423.8 133.0 424.3 132.1 424.8 131.3 425.3 130.6 425.9 130.0 426.4 129.5 426.9 128.9 427.4 128.2 427.9 127.2 428.5 126.1 429.0 124.9 429.5 123.8 430.0 123.0 430.6 122.4 431.1 122.1 431.6 122.0 432.1 121.9 432.7 121.7 433.2 121.3 433.7 120.6 434.2 119.8 434.8 119.0 435.3 118.4 435.8 118.0 436.3 117.8 437.4 117.9 437.9 117.8 438.4 117.6 439.0 117.1 439.5 116.7 440.0 116.3 440.5 116.2 441.1 116.3 441.6 116.7 442.1 117.2 442.6 117.6 443.1 117.8 443.7 117.7 444.2 117.4 444.7 116.9 445.3 116.5 446.4 116.8 446.9 117.6 447.5 118.5 448.0 119.5 448.6 120.4 449.1 121.1 449.7 121.6 450.2 122.1 450.8 122.8 451.3 123.7 451.9 124.7 452.4 125.8 452.9 126.8 453.5 127.7 454.0 128.2 454.5 128.5 455.1 128.6 455.6 128.6 456.2 128.8 456.7 129.2 457.2 129.9 457.8 130.6 458.3 131.3 458.8 131.8 459.4 132.1 460.4 132.0 461.0 132.0 461.6 132.2 462.2 132.8 462.8 133.6 463.4 134.4 463.9 134.8 464.5 135.0 465.0 134.8 465.5 134.3 466.0 133.8 466.6 133.4 467.1 133.1 468.1 133.1 469.2 133.0 469.7 132.6 470.2 132.0 470.7 131.3 471.3 130.7 471.8 130.2 472.3 130.0 473.4 130.1 473.9 130.2 474.4 130.2 475.0 129.8 475.5 129.1 476.0 128.2 476.6 127.3 477.1 126.5 477.7 126.0 478.2 125.7 478.8 125.5 479.3 125.2 479.8 124.8 480.4 124.1 480.9 123.3 481.5 122.4 482.0 121.7 482.5 121.2 483.1 121.0 484.2 120.9 484.7 120.7 485.2 120.2 485.8 119.2 486.4 117.7 486.9 115.8 487.5 113.8 488.0 111.9 488.6 110.0 489.1 107.5 489.7 104.0 490.2 100.0 490.8 96.0 491.3 92.9 491.9 91.5 492.4 91.5 493.0 92.3 493.5 93.6 494.1 95.1 494.7 96.4 495.2 97.0 495.7 96.1 496.3 93.6 496.8 90.9 497.3 89.3 497.8 89.0 498.4 89.0 498.9 89.5 499.5 90.3 500.0 91.3 500.6 92.2 501.1 93.0 501.7 93.7 502.2 94.4 502.8 95.2 503.3 96.3 503.9 97.6 504.4 99.2 504.9 100.8 505.5 102.2 506.0 103.2 506.6 103.8 507.1 104.1 507.7 104.3 508.2 104.6 508.8 105.1 509.3 105.7 509.9 106.5 510.4 107.3 511.0 108.0 511.5 108.4 512.0 108.6 512.6 108.8 513.1 109.0 513.7 109.5 514.2 110.2 514.8 111.2 515.3 112.2 515.9 113.2 516.4 113.9 517.0 114.5 517.5 114.9 518.0 115.2 518.6 115.6 519.1 116.1 519.7 116.7 520.2 117.4 520.8 118.0 521.3 118.6 521.9 119.1 522.4 119.4 523.0 119.7 523.5 120.1 524.1 120.5 524.6 121.0 525.1 121.5 525.7 122.1 526.2 122.6 526.8 123.1 527.3 123.5 527.9 123.8 528.4 124.1 529.0 124.4 529.5 124.7 530.1 125.0 530.6 125.3 531.2 125.6 531.7 125.8 532.2 125.9 532.8 126.0 533.9 126.1 534.4 126.2 535.0 126.3 535.5 126.5 536.1 126.6 536.6 126.8 537.2 127.0 537.7 127.0 538.8 127.1 539.9 127.1 541.0 127.1 542.0 127.0 542.6 126.9 543.1 126.6 543.6 126.3 544.2 126.0 544.7 125.6 545.2 125.2 545.8 124.9 546.3 124.6 546.8 124.3 547.4 123.9 547.9 123.6 548.4 123.2 548.9 122.7 549.5 122.3 550.0 121.9 550.5 121.5 551.1 121.2 551.6 121.0 552.1 120.8 552.7 120.6 553.2 120.5 553.7 120.4 554.3 120.3 555.3 120.5 555.9 120.9 556.4 121.5 557.0 122.2 557.5 123.0 558.1 123.8 558.6 124.5 559.2 125.3 559.7 126.0 560.3 126.6 560.8 127.2 561.4 127.7 561.9 128.1 562.4 128.4 563.0 128.6 564.1 128.5 564.6 128.3 565.2 128.2 565.7 128.1 566.3 128.0 566.8 127.9 567.9 127.9 568.4 127.8 569.0 127.7 569.5 127.6 570.1 127.4 570.6 127.2 571.2 127.1 571.7 127.0 572.2 126.9" fill="none" stroke="#2b3a98" stroke-width="1.1" stroke-linejoin="round"/><path d="M310.2 130.7 310.7 130.8 311.3 130.9 311.8 131.0 312.3 131.1 312.9 131.2 313.4 131.3 313.9 131.4 314.5 131.5 315.0 131.6 315.5 131.6 316.0 131.7 316.6 131.8 317.1 131.9 317.6 132.0 318.2 132.1 318.7 132.2 319.2 132.3 319.8 132.4 320.3 132.5 320.8 132.6 321.4 132.7 321.9 132.9 322.4 133.0 323.0 133.1 323.5 133.3 324.0 133.4 324.5 133.6 325.0 133.7 325.6 133.9 326.1 134.1 326.6 134.3 327.1 134.5 327.7 134.7 328.2 134.9 328.7 135.1 329.2 135.3 329.8 135.5 330.3 135.8 330.8 136.0 331.3 136.2 331.9 136.5 332.4 136.8 332.9 137.0 333.4 137.3 334.0 137.6 334.5 138.0 335.1 138.4 335.7 138.9 336.2 139.5 336.8 140.1 337.3 140.7 337.9 141.3 338.5 141.9 339.0 142.4 339.6 142.8 340.2 143.1 340.7 143.3 341.3 143.4 341.6 83.6 342.0 23.0 342.6 21.0 343.3 19.9 343.9 19.6 344.5 19.9 345.0 20.9 345.5 22.5 346.1 24.6 346.6 27.1 347.1 30.0 347.7 33.2 348.2 36.6 348.7 40.1 349.3 43.7 349.8 47.3 350.4 50.8 350.9 54.2 351.4 57.3 352.0 60.5 352.5 63.9 353.0 67.4 353.6 71.1 354.1 74.8 354.7 78.5 355.2 82.2 355.7 85.7 356.3 89.1 356.8 92.2 357.4 95.1 357.9 97.7 358.5 100.1 359.0 102.3 359.6 104.6 360.2 107.1 360.7 109.7 361.3 112.4 361.8 115.3 362.3 118.2 362.9 121.0 363.4 123.8 364.0 126.3 364.5 128.7 365.1 130.8 365.6 132.8 366.2 134.7 366.7 136.5 367.3 138.3 367.9 140.0 368.4 141.6 369.0 143.3 369.5 145.0 370.1 146.8 370.6 148.7 371.2 150.6 371.7 152.7 372.3 155.1 372.8 157.5 373.4 160.0 373.9 162.4 374.4 164.6 375.0 166.5 375.5 168.1 376.1 169.6 376.7 171.1 377.2 172.2 377.8 172.6 378.4 172.0 378.9 170.3 379.4 167.9 380.0 165.1 380.5 162.1 381.1 159.2 381.6 156.8 382.2 155.1 382.7 153.8 383.3 152.5 383.8 151.4 384.4 150.5 384.9 149.8 385.5 149.6 386.0 149.7 386.6 149.9 387.1 150.3 387.7 150.7 388.2 151.1 388.7 151.6 389.3 152.0 389.8 152.4 390.4 152.6 390.9 152.7 391.5 152.6 392.0 152.5 392.5 152.2 393.1 151.9 393.6 151.4 394.2 150.9 394.7 150.4 395.3 149.8 395.8 149.1 396.4 148.4 396.9 147.7 397.5 147.0 398.0 146.3 398.6 145.5 399.1 144.8 399.6 144.1 400.2 143.3 400.7 142.4 401.3 141.4 401.9 140.2 402.4 139.0 403.0 137.7 403.5 136.4 404.1 135.0 404.6 133.7 405.2 132.4 405.7 131.1 406.3 129.9 406.8 128.8 407.4 127.8 407.9 126.9 408.5 126.2 409.0 125.7 409.6 125.4 410.1 125.2 411.2 125.4 411.7 125.6 412.2 125.9 412.7 126.1 413.3 126.5 413.8 126.9 414.3 127.2 414.8 127.6 415.4 128.0 415.9 128.4 416.4 128.8 416.9 129.1 417.5 129.4 418.0 129.7 418.5 129.9 419.0 130.0 420.2 130.0 420.8 130.0 421.4 129.9 422.0 129.9 422.6 129.8 423.2 129.7 423.8 129.6 424.3 129.3 424.8 128.9 425.3 128.4 425.9 127.8 426.4 127.2 426.9 126.5 427.4 125.8 427.9 125.0 428.5 124.2 429.0 123.5 429.5 122.7 430.0 121.9 430.6 121.2 431.1 120.6 431.6 120.0 432.1 119.5 432.7 119.1 433.2 118.7 433.7 118.3 434.2 118.0 434.8 117.6 435.3 117.3 435.8 116.9 436.3 116.6 436.9 116.2 437.4 115.9 437.9 115.6 438.4 115.3 439.0 115.0 439.5 114.7 440.0 114.4 440.5 114.2 441.1 114.0 441.6 113.8 442.1 113.6 442.6 113.5 443.1 113.4 443.7 113.3 444.7 113.2 445.3 113.3 445.8 113.7 446.4 114.2 446.9 114.8 447.5 115.6 448.0 116.4 448.6 117.4 449.1 118.3 449.7 119.3 450.2 120.3 450.8 121.2 451.3 122.1 451.9 122.9 452.4 123.5 452.9 124.1 453.5 124.7 454.0 125.3 454.5 126.0 455.1 126.6 455.6 127.2 456.2 127.7 456.7 128.3 457.2 128.8 457.8 129.3 458.3 129.7 458.8 130.1 459.4 130.4 459.9 130.6 460.4 130.7 461.0 130.8 461.6 130.9 462.2 131.0 462.8 131.1 463.4 131.1 464.5 131.0 465.0 130.9 465.5 130.8 466.0 130.7 466.6 130.5 467.1 130.4 467.6 130.2 468.1 130.0 468.7 129.7 469.2 129.5 469.7 129.2 470.2 129.0 470.7 128.7 471.3 128.4 471.8 128.1 472.3 127.8 472.8 127.5 473.4 127.2 473.9 126.9 474.4 126.6 475.0 126.3 475.5 126.0 476.0 125.7 476.6 125.4 477.1 125.0 477.7 124.7 478.2 124.3 478.8 123.9 479.3 123.5 479.8 123.1 480.4 122.6 480.9 122.2 481.5 121.6 482.0 121.1 482.5 120.5 483.1 119.9 483.6 119.2 484.2 118.5 484.7 117.8 485.2 117.0 485.8 116.0 486.4 114.7 486.9 113.2 487.5 111.4 488.0 109.5 488.6 107.4 489.1 104.6 489.7 100.7 490.2 96.6 490.8 92.8 491.3 90.0 491.9 88.9 492.4 89.2 493.0 90.0 493.5 90.9 494.1 91.9 494.7 92.7 495.2 93.0 495.7 92.0 496.3 89.7 496.8 87.5 497.3 86.5 497.8 86.6 498.4 87.0 498.9 87.5 499.5 88.2 500.0 89.1 500.6 90.0 501.1 91.1 501.7 92.3 502.2 93.4 502.8 94.6 503.3 95.8 503.9 96.9 504.4 98.0 504.9 99.0 505.5 99.8 506.0 100.5 506.6 101.2 507.1 101.7 507.7 102.3 508.2 102.8 508.8 103.3 509.3 103.8 509.9 104.2 510.4 104.7 511.0 105.1 511.5 105.6 512.0 106.0 512.6 106.5 513.1 106.9 513.7 107.4 514.2 107.9 514.8 108.4 515.3 109.0 515.9 109.6 516.4 110.2 517.0 110.8 517.5 111.5 518.0 112.1 518.6 112.8 519.1 113.4 519.7 114.1 520.2 114.7 520.8 115.4 521.3 116.0 521.9 116.5 522.4 117.1 523.0 117.6 523.5 118.0 524.1 118.5 524.6 118.9 525.1 119.4 525.7 119.8 526.2 120.2 526.8 120.6 527.3 121.1 527.9 121.4 528.4 121.8 529.0 122.2 529.5 122.5 530.1 122.8 530.6 123.0 531.2 123.2 531.7 123.4 532.2 123.5 532.8 123.6 533.3 123.7 533.9 123.8 534.4 123.9 535.0 124.0 535.5 124.1 536.1 124.2 536.6 124.3 537.2 124.3 537.7 124.4 538.8 124.5 539.9 124.5 541.0 124.6 542.0 124.4 542.6 124.3 543.1 124.1 543.6 123.9 544.2 123.6 544.7 123.3 545.2 123.0 545.8 122.6 546.3 122.3 546.8 121.9 547.4 121.5 547.9 121.1 548.4 120.7 548.9 120.3 549.5 120.0 550.0 119.6 550.5 119.3 551.1 119.0 551.6 118.7 552.1 118.5 552.7 118.3 553.2 118.2 553.7 118.1 554.8 118.1 555.3 118.4 555.9 118.8 556.4 119.3 557.0 119.9 557.5 120.5 558.1 121.2 558.6 122.0 559.2 122.7 559.7 123.4 560.3 124.1 560.8 124.7 561.4 125.2 561.9 125.6 562.4 125.8 563.0 125.9 564.1 125.9 565.2 125.8 565.7 125.7 566.3 125.6 566.8 125.6 567.3 125.5 567.9 125.4 568.4 125.3 569.0 125.2 569.5 125.0 570.1 124.9 570.6 124.8 571.2 124.7 571.7 124.6 572.2 124.6" fill="none" stroke="#000" stroke-width="2.6" stroke-dasharray="0.5,5.0" stroke-linecap="round"/></g><path d="M327.7,206.0v-2.6 M345.1,206.0v-2.6 M362.6,206.0v-2.6 M380.1,206.0v-2.6 M397.5,206.0v-2.6 M415.0,206.0v-2.6 M432.5,206.0v-2.6 M450.0,206.0v-2.6 M467.4,206.0v-2.6 M484.9,206.0v-2.6 M502.4,206.0v-2.6 M519.8,206.0v-2.6 M537.3,206.0v-2.6 M554.8,206.0v-2.6 M311.1,191.1h2.8 M311.1,173.9h2.8 M311.1,156.8h2.8 M311.1,139.7h2.8 M311.1,122.5h2.8 M311.1,105.3h2.8 M311.1,88.2h2.8 M311.1,71.1h2.8 M311.1,53.9h2.8 M311.1,36.8h2.8 M311.1,19.6h2.8" stroke="#a8a8a8" stroke-width="1" fill="none"/><text x="305.8" y="22.9" text-anchor="end" class="tl">3</text><text x="305.8" y="57.2" text-anchor="end" class="tl">2</text><text x="305.8" y="91.5" text-anchor="end" class="tl">1</text><text x="305.8" y="125.8" text-anchor="end" class="tl">0</text><text x="305.8" y="160.1" text-anchor="end" class="tl">-1</text><text x="305.8" y="194.4" text-anchor="end" class="tl">-2</text><text x="311.3" y="220.4" text-anchor="middle" class="tl">0</text><text x="346.2" y="220.4" text-anchor="middle" class="tl">2</text><text x="381.2" y="220.4" text-anchor="middle" class="tl">4</text><text x="416.1" y="220.4" text-anchor="middle" class="tl">6</text><text x="451.1" y="220.4" text-anchor="middle" class="tl">8</text><text x="486.8" y="220.4" text-anchor="middle" class="tl">10</text><text x="521.7" y="220.4" text-anchor="middle" class="tl">12</text><text x="556.7" y="220.4" text-anchor="middle" class="tl">14</text><text x="442.6" y="19.3" text-anchor="middle" class="ti">Site B</text><text x="431.5" y="235.8" text-anchor="middle" class="xl">Time (minutes)</text><clipPath id="clipC"><rect x="28.25" y="256.95" width="260.80" height="204.90"/></clipPath><rect x="28.25" y="256.95" width="260.80" height="204.90" fill="#383838" stroke="#000" stroke-width="1.5"/><g clip-path="url(#clipC)"><line x1="27.5" y1="386.3" x2="289.8" y2="386.3" stroke="#8a8a8a" stroke-width="0.8" stroke-dasharray="5,3"/><path d="M28.5 386.8 29.2 386.8 29.9 386.8 30.6 386.9 31.3 386.9 32.0 387.0 32.7 387.1 33.4 387.2 34.1 387.3 34.8 387.4 35.5 387.5 36.2 387.6 36.9 387.8 37.6 387.9 38.3 388.0 39.0 388.1 39.7 388.3 40.4 388.4 41.1 388.5 41.8 388.6 42.5 388.7 43.2 388.7 43.9 388.8 44.6 388.8 45.3 388.8 46.0 388.9 46.7 388.9 47.4 389.0 48.1 389.1 48.8 389.3 49.5 389.6 50.2 389.9 50.9 390.3 51.6 390.6 52.3 391.0 53.0 391.4 53.7 391.8 54.4 392.2 55.1 392.6 55.8 392.9 56.5 393.2 57.2 393.5 57.8 393.7 58.5 393.9 59.2 393.9 59.9 394.0 60.7 393.6 61.4 392.3 62.1 390.2 62.9 387.4 63.6 384.0 64.3 379.9 65.0 375.4 65.8 370.6 66.5 365.6 67.2 360.4 67.9 355.4 68.7 350.6 69.4 346.1 70.1 342.0 70.8 338.6 71.6 335.8 72.3 333.7 73.0 332.5 73.7 332.0 74.4 332.5 75.1 333.9 75.8 336.3 76.5 339.5 77.2 343.6 77.9 348.5 78.6 354.1 79.3 360.2 80.0 366.9 80.7 374.0 81.4 381.4 82.1 389.0 82.8 396.6 83.5 404.2 84.2 411.6 84.9 418.7 85.6 425.4 86.3 431.6 87.0 437.1 87.7 442.0 88.4 446.1 89.1 449.4 89.8 451.7 90.5 453.1 91.2 453.6 91.9 453.3 92.6 452.5 93.3 451.2 94.0 449.3 94.7 446.9 95.4 444.0 96.1 440.6 96.9 436.8 97.6 432.7 98.3 428.1 99.0 423.3 99.7 418.2 100.4 412.9 101.1 407.5 101.8 401.9 102.5 396.3 103.2 390.7 103.9 385.1 104.6 379.6 105.3 374.3 106.0 369.3 106.7 364.4 107.4 359.9 108.1 355.7 108.8 352.0 109.5 348.6 110.2 345.7 110.9 343.3 111.6 341.4 112.3 340.0 113.0 339.2 113.8 338.9 114.5 339.2 115.2 339.9 115.9 341.1 116.6 342.8 117.3 344.9 118.0 347.4 118.8 350.3 119.5 353.6 120.2 357.2 120.9 361.1 121.6 365.3 122.3 369.7 123.1 374.2 123.8 378.9 124.5 383.7 125.2 388.4 125.9 393.2 126.6 397.8 127.4 402.4 128.1 406.8 128.8 411.0 129.5 414.9 130.2 418.5 130.9 421.8 131.6 424.7 132.4 427.2 133.1 429.3 133.8 431.0 134.5 432.2 135.2 432.9 135.9 433.1 136.6 433.0 137.3 432.6 138.1 432.0 138.8 431.2 139.5 430.0 140.2 428.7 140.9 427.1 141.6 425.4 142.3 423.4 143.0 421.2 143.7 418.9 144.4 416.4 145.1 413.7 145.8 410.9 146.5 408.0 147.2 405.0 147.9 401.9 148.6 398.8 149.3 395.6 150.0 392.4 150.7 389.2 151.4 386.1 152.1 382.9 152.8 379.9 153.5 376.9 154.2 374.0 154.9 371.2 155.6 368.5 156.3 366.0 157.0 363.7 157.7 361.5 158.4 359.5 159.1 357.7 159.8 356.2 160.6 354.8 161.3 353.7 162.0 352.9 162.7 352.2 163.4 351.9 164.1 351.7 164.8 351.9 165.5 352.2 166.2 352.8 166.9 353.6 167.6 354.6 168.3 355.9 169.0 357.3 169.7 359.0 170.4 360.8 171.2 362.8 171.9 364.9 172.6 367.2 173.3 369.6 174.0 372.1 174.7 374.7 175.4 377.3 176.1 380.0 176.8 382.7 177.5 385.4 178.2 388.1 178.9 390.7 179.7 393.3 180.4 395.8 181.1 398.2 181.8 400.5 182.5 402.6 183.2 404.6 183.9 406.4 184.6 408.1 185.3 409.5 186.0 410.8 186.7 411.8 187.4 412.6 188.2 413.2 188.9 413.6 189.6 413.7 190.3 413.5 191.0 413.0 191.7 412.1 192.4 410.8 193.2 409.3 193.9 407.4 194.6 405.2 195.3 402.8 196.0 400.1 196.7 397.2 197.5 394.2 198.2 391.0 198.9 387.6 199.6 384.2 200.3 380.8 201.0 377.4 201.7 374.0 202.5 370.6 203.2 367.4 203.9 364.3 204.6 361.5 205.3 358.8 206.0 356.3 206.8 354.2 207.5 352.3 208.2 350.7 208.9 349.5 209.6 348.6 210.3 348.1 211.1 347.9 211.8 348.1 212.5 348.7 213.2 349.7 213.9 351.1 214.6 352.8 215.4 354.9 216.1 357.4 216.8 360.1 217.5 363.1 218.2 366.3 218.9 369.7 219.7 373.2 220.4 376.9 221.1 380.6 221.8 384.3 222.5 388.0 223.2 391.7 224.0 395.2 224.7 398.6 225.4 401.9 226.1 404.8 226.8 407.5 227.5 410.0 228.3 412.1 229.0 413.8 229.7 415.2 230.4 416.2 231.1 416.8 231.9 417.0 232.6 416.9 233.3 416.6 234.0 416.1 234.7 415.5 235.4 414.6 236.2 413.5 236.9 412.3 237.6 410.9 238.3 409.4 239.0 407.7 239.7 405.9 240.5 403.9 241.2 401.8 241.9 399.7 242.6 397.4 243.3 395.1 244.0 392.7 244.8 390.3 245.5 387.9 246.2 385.5 246.9 383.0 247.6 380.6 248.3 378.2 249.1 375.9 249.8 373.7 250.5 371.5 251.2 369.4 251.9 367.5 252.6 365.7 253.4 364.0 254.1 362.4 254.8 361.0 255.5 359.8 256.2 358.8 256.9 357.9 257.7 357.2 258.4 356.7 259.1 356.4 259.8 356.3 260.5 356.5 261.2 357.1 261.9 357.9 262.6 359.2 263.3 360.7 264.0 362.5 264.7 364.7 265.4 367.0 266.1 369.7 266.9 372.5 267.6 375.5 268.3 378.6 269.0 381.8 269.7 385.0 270.4 388.3 271.1 391.6 271.8 394.8 272.5 397.9 273.2 400.9 273.9 403.7 274.6 406.3 275.3 408.7 276.0 410.8 276.7 412.7 277.4 414.2 278.1 415.4 278.8 416.3 279.5 416.8 280.2 417.0 281.0 416.8 281.7 416.2 282.5 415.2 283.2 413.9 283.9 412.3 284.7 410.5 285.4 408.7 286.1 406.8 286.9 405.1 287.6 403.5 288.3 402.2 289.1 401.2 289.8 400.6 290.5 400.4" fill="none" stroke="#cd2f24" stroke-width="1.15" stroke-linejoin="round"/><path d="M28.5 386.8 29.2 386.8 29.9 386.8 30.6 386.9 31.3 386.9 32.0 387.0 32.7 387.1 33.4 387.2 34.1 387.3 34.8 387.4 35.5 387.5 36.2 387.6 36.9 387.8 37.6 387.9 38.3 388.0 39.0 388.1 39.7 388.3 40.4 388.4 41.1 388.5 41.8 388.6 42.5 388.7 43.2 388.7 43.9 388.8 44.6 388.8 45.3 388.8 46.0 388.9 46.7 388.9 47.4 389.0 48.2 389.2 48.9 389.5 49.6 389.8 50.3 390.1 51.1 390.5 51.8 391.0 52.5 391.4 53.2 391.9 54.0 392.3 54.7 392.7 55.4 393.1 56.2 393.4 56.9 393.6 57.6 393.8 58.3 393.9 59.1 394.0 59.8 393.4 60.5 391.5 61.2 388.5 61.9 384.5 62.7 379.5 63.4 373.8 64.1 367.5 64.8 360.9 65.5 354.1 66.3 347.5 67.0 341.2 67.7 335.5 68.4 330.5 69.1 326.5 69.9 323.5 70.6 321.6 71.3 321.0 72.0 321.2 72.7 321.9 73.4 322.9 74.1 324.4 74.8 326.3 75.5 328.6 76.2 331.2 76.9 334.2 77.6 337.6 78.3 341.2 79.0 345.1 79.7 349.3 80.4 353.7 81.2 358.3 81.9 363.1 82.6 368.0 83.3 373.0 84.0 378.0 84.7 383.1 85.4 388.1 86.1 393.1 86.8 398.0 87.5 402.7 88.2 407.3 88.9 411.7 89.6 415.9 90.3 419.9 91.0 423.5 91.7 426.8 92.4 429.8 93.1 432.5 93.8 434.8 94.5 436.7 95.2 438.1 95.9 439.2 96.6 439.8 97.3 440.1 98.0 440.0 98.7 439.7 99.5 439.2 100.2 438.5 100.9 437.6 101.6 436.5 102.3 435.3 103.0 433.9 103.7 432.3 104.4 430.6 105.1 428.7 105.8 426.7 106.5 424.6 107.2 422.3 107.9 420.0 108.6 417.6 109.4 415.1 110.1 412.6 110.8 410.0 111.5 407.4 112.2 404.8 112.9 402.2 113.6 399.7 114.3 397.1 115.0 394.7 115.7 392.3 116.4 389.9 117.1 387.7 117.8 385.6 118.6 383.6 119.3 381.7 120.0 380.0 120.7 378.4 121.4 377.0 122.1 375.7 122.8 374.7 123.5 373.8 124.2 373.1 124.9 372.6 125.6 372.3 126.3 372.2 127.0 372.3 127.8 372.6 128.5 373.1 129.2 373.8 129.9 374.7 130.6 375.8 131.3 376.9 132.0 378.2 132.8 379.6 133.5 381.0 134.2 382.5 134.9 383.9 135.6 385.3 136.3 386.7 137.1 388.0 137.8 389.2 138.5 390.2 139.2 391.1 139.9 391.8 140.6 392.3 141.3 392.6 142.1 392.7 142.8 392.7 143.5 392.5 144.2 392.3 145.0 392.1 145.7 391.7 146.4 391.4 147.2 391.1 147.9 390.8 148.6 390.5 149.3 390.3 150.1 390.2 150.8 390.1 151.5 390.2 152.2 390.2 152.9 390.3 153.7 390.4 154.4 390.5 155.1 390.7 155.8 390.9 156.5 391.1 157.2 391.4 158.0 391.7 158.7 392.0 159.4 392.3 160.1 392.6 160.8 392.9 161.6 393.3 162.3 393.7 163.0 394.0 163.7 394.4 164.4 394.8 165.1 395.2 165.9 395.6 166.6 395.9 167.3 396.3 168.0 396.6 168.7 397.0 169.4 397.3 170.2 397.6 170.9 397.9 171.6 398.1 172.3 398.3 173.0 398.5 173.8 398.7 174.5 398.8 175.2 399.0 175.9 399.0 176.6 399.1 177.3 399.1 178.0 399.0 178.8 398.6 179.5 398.0 180.2 397.2 180.9 396.1 181.6 394.9 182.3 393.4 183.0 391.7 183.7 389.9 184.4 387.9 185.1 385.7 185.8 383.5 186.5 381.1 187.2 378.7 187.9 376.2 188.6 373.6 189.3 371.1 190.0 368.5 190.7 366.0 191.4 363.6 192.1 361.2 192.8 359.0 193.5 356.8 194.2 354.8 194.9 353.0 195.7 351.3 196.4 349.8 197.1 348.6 197.8 347.5 198.5 346.7 199.2 346.1 199.9 345.7 200.6 345.6 201.3 345.8 202.0 346.4 202.7 347.3 203.4 348.6 204.2 350.2 204.9 352.2 205.6 354.5 206.3 357.0 207.0 359.8 207.7 362.9 208.5 366.1 209.2 369.5 209.9 373.0 210.6 376.5 211.3 380.2 212.0 383.8 212.8 387.3 213.5 390.8 214.2 394.2 214.9 397.4 215.6 400.5 216.3 403.3 217.1 405.8 217.8 408.1 218.5 410.1 219.2 411.7 219.9 413.0 220.6 414.0 221.4 414.5 222.1 414.7 222.8 414.6 223.5 414.4 224.2 414.0 224.9 413.4 225.6 412.7 226.3 411.9 227.0 410.9 227.8 409.8 228.5 408.6 229.2 407.3 229.9 405.9 230.6 404.5 231.3 403.0 232.0 401.4 232.7 399.9 233.4 398.3 234.1 396.8 234.9 395.3 235.6 393.8 236.3 392.4 237.0 391.1 237.7 389.9 238.4 388.8 239.1 387.9 239.8 387.0 240.5 386.3 241.2 385.7 242.0 385.3 242.7 385.1 243.4 385.0 244.1 385.1 244.8 385.5 245.6 386.1 246.3 386.9 247.0 387.9 247.7 388.9 248.5 389.9 249.2 390.8 249.9 391.6 250.7 392.2 251.4 392.6 252.1 392.7 252.8 392.6 253.6 392.2 254.3 391.7 255.0 390.9 255.7 390.0 256.4 388.9 257.1 387.6 257.9 386.3 258.6 384.9 259.3 383.6 260.0 382.2 260.7 380.9 261.4 379.6 262.2 378.5 262.9 377.6 263.6 376.8 264.3 376.3 265.0 375.9 265.7 375.8 266.5 375.8 267.2 375.9 267.9 376.1 268.6 376.3 269.3 376.5 270.0 376.8 270.7 377.2 271.4 377.6 272.1 378.0 272.8 378.5 273.5 379.0 274.2 379.6 275.0 380.2 275.7 380.8 276.4 381.4 277.1 382.0 277.8 382.6 278.5 383.3 279.2 383.9 279.9 384.6 280.6 385.2 281.3 385.8 282.0 386.4 282.8 386.9 283.5 387.4 284.2 387.9 284.9 388.4 285.6 388.8 286.3 389.1 287.0 389.4 287.7 389.7 288.4 389.9 289.1 390.0 289.8 390.1 290.5 390.1" fill="none" stroke="#e06943" stroke-width="1.15" stroke-linejoin="round"/><path d="M28.5 386.8 29.2 386.8 29.9 386.8 30.6 386.9 31.3 386.9 32.0 387.0 32.7 387.1 33.4 387.2 34.1 387.3 34.8 387.4 35.5 387.5 36.2 387.6 36.9 387.8 37.6 387.9 38.3 388.0 39.0 388.1 39.7 388.3 40.4 388.4 41.1 388.5 41.8 388.6 42.5 388.7 43.2 388.7 43.9 388.8 44.6 388.8 45.3 388.8 46.0 388.9 46.7 388.9 47.4 389.0 48.1 389.2 48.8 389.5 49.5 389.9 50.2 390.3 50.9 390.8 51.6 391.3 52.3 391.8 53.0 392.4 53.7 393.0 54.5 393.6 55.2 394.1 55.9 394.6 56.6 395.1 57.3 395.5 58.0 395.9 58.7 396.2 59.4 396.4 60.1 396.5 60.8 396.5 61.5 395.8 62.2 393.6 62.9 390.1 63.6 385.3 64.3 379.6 65.0 373.1 65.7 366.2 66.4 359.1 67.1 352.1 67.8 345.7 68.5 339.9 69.2 335.2 69.9 331.6 70.6 329.4 71.3 328.7 72.0 329.0 72.7 330.0 73.4 331.7 74.1 334.0 74.9 336.8 75.6 340.3 76.3 344.3 77.0 348.7 77.7 353.6 78.4 358.8 79.1 364.3 79.8 370.0 80.5 375.9 81.3 381.8 82.0 387.8 82.7 393.6 83.4 399.4 84.1 404.9 84.8 410.1 85.5 414.9 86.2 419.4 86.9 423.3 87.7 426.8 88.4 429.7 89.1 432.0 89.8 433.6 90.5 434.6 91.2 434.9 91.9 434.8 92.7 434.3 93.4 433.5 94.1 432.4 94.9 431.1 95.6 429.6 96.3 428.0 97.1 426.2 97.8 424.4 98.5 422.7 99.2 421.1 100.0 419.6 100.7 418.2 101.4 417.2 102.2 416.4 102.9 415.9 103.6 415.7 104.3 415.6 105.1 415.4 105.8 415.0 106.5 414.4 107.2 413.7 107.9 412.9 108.7 412.0 109.4 411.1 110.1 410.1 110.8 409.2 111.5 408.3 112.3 407.5 113.0 406.8 113.7 406.3 114.4 405.8 115.1 405.6 115.8 405.5 116.6 405.3 117.3 404.7 118.0 403.8 118.7 402.5 119.4 400.9 120.2 399.1 120.9 397.1 121.6 395.0 122.3 392.9 123.0 390.8 123.8 388.8 124.5 387.0 125.2 385.5 125.9 384.2 126.6 383.2 127.4 382.7 128.1 382.5 128.8 382.5 129.6 382.5 130.3 382.6 131.0 382.7 131.8 382.9 132.5 383.0 133.2 383.2 134.0 383.4 134.7 383.6 135.4 383.8 136.2 384.1 136.9 384.3 137.6 384.4 138.4 384.6 139.1 384.7 139.8 384.9 140.6 384.9 141.3 385.0 142.1 385.0 142.8 384.9 143.5 384.7 144.2 384.3 144.9 383.7 145.6 383.0 146.3 382.1 147.1 381.2 147.8 380.2 148.5 379.0 149.2 377.9 149.9 376.7 150.6 375.5 151.3 374.4 152.1 373.2 152.8 372.2 153.5 371.2 154.2 370.4 154.9 369.7 155.6 369.1 156.3 368.7 157.1 368.5 157.8 368.4 158.5 368.4 159.2 368.6 159.9 368.8 160.6 369.1 161.3 369.5 162.0 370.0 162.7 370.6 163.4 371.3 164.1 372.0 164.8 372.8 165.5 373.6 166.2 374.5 166.9 375.4 167.6 376.4 168.3 377.4 169.0 378.4 169.7 379.4 170.5 380.4 171.2 381.3 171.9 382.3 172.6 383.2 173.3 384.1 174.0 385.0 174.7 385.7 175.4 386.5 176.1 387.1 176.8 387.7 177.5 388.2 178.2 388.6 178.9 388.9 179.6 389.2 180.3 389.3 181.0 389.4 181.7 389.3 182.4 389.0 183.1 388.6 183.8 388.1 184.5 387.4 185.2 386.5 186.0 385.6 186.7 384.5 187.4 383.4 188.1 382.2 188.8 380.9 189.5 379.6 190.2 378.4 190.9 377.1 191.6 375.9 192.3 374.8 193.0 373.7 193.7 372.8 194.4 371.9 195.1 371.2 195.8 370.7 196.5 370.2 197.3 370.0 198.0 369.9 198.7 370.1 199.4 370.8 200.1 371.9 200.9 373.3 201.6 375.1 202.3 377.1 203.1 379.4 203.8 381.9 204.5 384.4 205.2 386.9 206.0 389.3 206.7 391.6 207.4 393.7 208.1 395.5 208.9 396.9 209.6 398.0 210.3 398.6 211.1 398.8 211.8 398.8 212.5 398.7 213.2 398.5 213.9 398.3 214.6 397.9 215.3 397.5 216.0 397.1 216.7 396.5 217.4 396.0 218.1 395.3 218.8 394.6 219.5 393.9 220.2 393.1 220.9 392.3 221.6 391.5 222.3 390.6 223.0 389.8 223.7 388.9 224.4 388.0 225.1 387.1 225.8 386.2 226.5 385.3 227.2 384.4 227.9 383.6 228.6 382.8 229.3 382.0 230.1 381.3 230.8 380.6 231.5 380.0 232.2 379.4 232.9 378.9 233.6 378.4 234.3 378.0 235.0 377.7 235.7 377.4 236.4 377.2 237.1 377.1 237.8 377.1 238.5 377.3 239.2 378.0 239.9 379.1 240.7 380.6 241.4 382.4 242.1 384.5 242.8 386.8 243.5 389.2 244.3 391.6 245.0 394.0 245.7 396.3 246.4 398.4 247.1 400.2 247.9 401.7 248.6 402.8 249.3 403.5 250.0 403.7 250.7 403.5 251.4 402.9 252.2 401.9 252.9 400.6 253.6 399.0 254.3 397.0 255.0 394.8 255.7 392.3 256.5 389.7 257.2 387.0 257.9 384.2 258.6 381.5 259.3 378.8 260.0 376.2 260.7 373.7 261.5 371.5 262.2 369.5 262.9 367.9 263.6 366.6 264.3 365.6 265.0 365.0 265.7 364.8 266.4 365.0 267.2 365.5 267.9 366.5 268.6 367.7 269.3 369.3 270.0 371.2 270.7 373.4 271.4 375.7 272.1 378.3 272.8 381.0 273.5 383.8 274.2 386.7 274.9 389.5 275.6 392.3 276.3 395.1 277.0 397.6 277.7 400.0 278.5 402.2 279.2 404.0 279.9 405.6 280.6 406.9 281.3 407.8 282.0 408.4 282.7 408.6 283.4 408.2 284.1 407.3 284.8 405.8 285.5 403.9 286.3 401.8 287.0 399.5 287.7 397.3 288.4 395.4 289.1 394.0 289.8 393.0 290.5 392.7" fill="none" stroke="#f5a24e" stroke-width="1.15" stroke-linejoin="round"/><path d="M28.5 386.8 29.2 386.8 29.9 386.8 30.6 386.9 31.3 386.9 32.0 387.0 32.7 387.1 33.4 387.2 34.1 387.3 34.8 387.4 35.5 387.5 36.2 387.6 36.9 387.8 37.6 387.9 38.3 388.0 39.0 388.1 39.7 388.3 40.4 388.4 41.1 388.5 41.8 388.6 42.5 388.7 43.2 388.7 43.9 388.8 44.6 388.8 45.3 388.8 46.0 388.9 46.7 388.9 47.4 389.1 48.1 389.3 48.8 389.6 49.5 390.1 50.2 390.5 50.9 391.1 51.6 391.7 52.3 392.3 53.0 393.0 53.7 393.7 54.5 394.3 55.2 395.0 55.9 395.6 56.6 396.1 57.3 396.6 58.0 397.0 58.7 397.4 59.4 397.6 60.1 397.8 60.8 397.8 61.5 395.9 62.2 390.4 63.0 381.7 63.7 370.6 64.4 357.9 65.1 344.6 65.8 331.9 66.5 320.7 67.3 312.0 68.0 306.5 68.7 304.6 69.4 305.0 70.1 306.3 70.8 308.3 71.5 311.1 72.2 314.6 73.0 318.8 73.7 323.7 74.4 329.1 75.1 335.0 75.8 341.3 76.5 347.9 77.2 354.8 77.9 361.8 78.6 368.8 79.4 375.8 80.1 382.7 80.8 389.3 81.5 395.6 82.2 401.5 82.9 406.9 83.6 411.8 84.3 416.0 85.1 419.5 85.8 422.3 86.5 424.3 87.2 425.6 87.9 426.0 88.6 425.8 89.4 425.1 90.1 424.1 90.8 422.8 91.5 421.2 92.3 419.6 93.0 417.9 93.7 416.4 94.4 415.1 95.2 414.0 95.9 413.4 96.6 413.2 97.3 413.1 98.0 413.1 98.7 412.9 99.4 412.8 100.1 412.5 100.8 412.3 101.5 412.0 102.2 411.8 102.9 411.5 103.6 411.3 104.3 411.0 105.0 410.9 105.7 410.7 106.4 410.6 107.1 410.6 107.8 410.6 108.6 410.4 109.3 410.0 110.0 409.6 110.7 409.1 111.4 408.5 112.2 407.8 112.9 407.1 113.6 406.4 114.3 405.7 115.0 405.1 115.7 404.5 116.5 403.9 117.2 403.5 117.9 403.2 118.6 403.0 119.3 402.9 120.1 402.7 120.8 402.2 121.5 401.2 122.2 399.9 122.9 398.4 123.7 396.6 124.4 394.6 125.1 392.5 125.8 390.4 126.5 388.3 127.3 386.3 128.0 384.5 128.7 382.9 129.4 381.6 130.1 380.7 130.9 380.1 131.6 379.9 132.3 380.0 133.0 380.2 133.7 380.5 134.5 380.9 135.2 381.4 135.9 382.0 136.6 382.7 137.3 383.4 138.0 384.1 138.8 384.8 139.5 385.4 140.2 386.1 140.9 386.6 141.6 387.0 142.4 387.3 143.1 387.5 143.8 387.6 144.5 387.5 145.2 387.1 145.9 386.6 146.6 385.9 147.3 385.0 148.0 383.9 148.7 382.7 149.4 381.4 150.1 380.0 150.8 378.6 151.5 377.2 152.2 375.8 152.9 374.6 153.6 373.4 154.3 372.3 155.0 371.4 155.7 370.6 156.4 370.1 157.1 369.8 157.8 369.7 158.5 369.7 159.2 369.8 160.0 370.0 160.7 370.2 161.5 370.5 162.2 370.8 162.9 371.2 163.7 371.6 164.4 372.0 165.1 372.4 165.9 372.8 166.6 373.2 167.3 373.6 168.1 374.0 168.8 374.2 169.5 374.5 170.3 374.6 171.0 374.7 171.8 374.8 172.5 374.9 173.2 375.2 173.9 375.7 174.6 376.4 175.4 377.3 176.1 378.3 176.8 379.4 177.5 380.6 178.2 381.8 178.9 382.9 179.7 384.0 180.4 385.0 181.1 385.9 181.8 386.6 182.5 387.1 183.3 387.5 184.0 387.6 184.7 387.5 185.4 387.4 186.1 387.2 186.9 386.9 187.6 386.6 188.3 386.2 189.0 385.7 189.7 385.3 190.5 384.8 191.2 384.3 191.9 383.9 192.6 383.5 193.3 383.1 194.1 382.8 194.8 382.6 195.5 382.5 196.2 382.5 196.9 382.5 197.7 382.8 198.4 383.1 199.1 383.6 199.8 384.2 200.5 384.9 201.2 385.7 202.0 386.5 202.7 387.4 203.4 388.2 204.1 388.9 204.8 389.6 205.6 390.2 206.3 390.7 207.0 391.1 207.7 391.3 208.4 391.4 209.2 391.4 209.9 391.3 210.6 391.2 211.3 391.1 212.0 390.9 212.7 390.8 213.4 390.5 214.2 390.3 214.9 390.0 215.6 389.8 216.3 389.5 217.0 389.2 217.7 389.0 218.4 388.7 219.2 388.5 219.9 388.2 220.6 388.0 221.3 387.9 222.0 387.8 222.7 387.7 223.4 387.6 224.2 387.6 224.9 387.6 225.6 387.5 226.3 387.5 227.0 387.5 227.7 387.4 228.4 387.3 229.1 387.2 229.8 387.1 230.5 387.0 231.2 386.9 231.9 386.8 232.5 386.7 233.2 386.6 233.9 386.6 234.6 386.5 235.3 386.4 236.0 386.4 236.7 386.3 237.4 386.3 238.1 386.3 238.8 386.3 239.5 386.2 240.2 386.1 240.9 385.9 241.6 385.7 242.3 385.5 243.0 385.2 243.7 385.0 244.4 384.7 245.1 384.4 245.8 384.1 246.5 383.8 247.2 383.5 247.9 383.2 248.6 383.0 249.3 382.8 250.0 382.7 250.7 382.6 251.4 382.5 252.1 382.5 252.9 382.4 253.6 382.4 254.3 382.3 255.1 382.2 255.8 382.0 256.5 381.9 257.3 381.7 258.0 381.5 258.7 381.3 259.5 381.1 260.2 380.9 260.9 380.7 261.7 380.5 262.4 380.3 263.1 380.2 263.9 380.1 264.6 380.0 265.4 379.9 266.1 379.9 266.8 379.9 267.5 380.0 268.2 380.0 268.9 380.1 269.6 380.3 270.3 380.4 271.0 380.6 271.7 380.8 272.4 381.0 273.1 381.2 273.8 381.4 274.5 381.6 275.2 381.8 275.9 381.9 276.6 382.1 277.3 382.2 278.0 382.3 278.7 382.4 279.4 382.4 280.1 382.5 280.8 382.4 281.6 382.4 282.3 382.3 283.1 382.2 283.8 382.1 284.6 382.0 285.3 381.8 286.1 381.7 286.8 381.5 287.6 381.4 288.3 381.3 289.1 381.2 289.8 381.2 290.5 381.2" fill="none" stroke="#fbd27a" stroke-width="1.15" stroke-linejoin="round"/><path d="M28.5 386.8 29.6 386.9 30.6 387.0 31.7 387.0 32.7 387.1 33.8 387.1 34.9 387.2 35.9 387.3 37.0 387.3 38.0 387.4 39.1 387.4 40.1 387.5 41.2 387.6 42.3 387.7 43.3 387.8 44.4 387.9 45.4 388.0 46.5 388.2 47.1 388.3 47.6 388.5 48.1 388.7 48.7 388.9 49.2 389.1 49.8 389.4 50.3 389.7 50.8 390.0 51.4 390.4 51.9 390.7 52.5 391.0 53.0 391.4 53.6 391.7 54.1 392.1 54.6 392.5 55.2 392.8 55.7 393.1 56.3 393.4 56.8 393.7 57.4 394.0 57.9 394.3 58.4 394.5 59.0 394.7 59.5 394.9 60.1 395.1 60.6 395.2 61.2 395.2 62.3 387.7 62.9 368.7 63.4 344.1 64.0 319.4 64.6 300.4 65.2 292.9 65.8 293.3 66.4 294.5 66.9 296.2 67.5 298.4 68.1 300.7 68.7 303.1 69.2 305.5 69.8 308.2 70.3 311.3 70.8 314.8 71.4 318.5 71.9 322.4 72.4 326.6 73.0 331.0 73.5 335.5 74.1 340.1 74.6 344.8 75.1 349.6 75.7 354.3 76.3 359.9 76.8 366.4 77.4 373.5 78.0 380.7 78.6 388.0 79.2 394.9 79.7 401.2 80.3 406.5 80.9 410.6 81.5 413.8 82.0 417.0 82.5 420.0 83.1 422.8 83.6 425.1 84.2 426.9 84.7 428.1 85.3 428.5 85.8 428.4 86.4 427.9 86.9 427.2 87.5 426.3 88.1 425.2 88.6 424.0 89.2 422.8 89.7 421.5 90.3 420.4 90.8 419.3 91.4 418.3 91.9 417.4 92.5 416.5 93.0 415.6 93.5 414.7 94.1 413.8 94.6 412.9 95.2 412.0 95.7 411.2 96.2 410.4 96.8 409.7 97.3 409.1 97.8 408.5 98.4 408.1 98.9 407.6 99.5 407.3 100.0 406.9 100.6 406.5 101.1 406.2 101.7 405.9 102.2 405.6 102.8 405.3 103.3 405.1 103.9 404.8 104.4 404.6 105.0 404.3 105.6 404.1 106.1 403.9 106.7 403.7 107.2 403.5 107.8 403.3 108.3 403.1 108.9 402.9 109.4 402.8 109.9 402.6 110.4 402.5 111.0 402.4 111.5 402.3 112.0 402.2 112.5 402.1 113.1 402.0 113.6 401.9 114.1 401.8 114.6 401.7 115.2 401.6 115.7 401.5 116.2 401.4 116.7 401.2 117.2 401.1 117.8 401.0 118.3 400.8 118.8 400.6 119.3 400.4 119.9 400.0 120.4 399.5 121.0 398.8 121.6 398.0 122.1 397.0 122.7 395.9 123.2 394.8 123.8 393.5 124.3 392.3 124.9 391.0 125.4 389.7 126.0 388.5 126.5 387.3 127.1 386.2 127.6 385.2 128.2 384.3 128.7 383.5 129.3 382.9 129.8 382.5 130.4 382.2 130.9 381.9 131.4 381.6 131.9 381.4 132.4 381.2 133.0 381.0 133.5 380.8 134.0 380.6 134.5 380.4 135.1 380.3 135.6 380.1 136.1 380.0 136.6 379.8 137.2 379.6 137.7 379.5 138.2 379.3 138.7 379.2 139.3 379.0 139.8 378.8 140.3 378.6 140.8 378.4 141.4 378.2 141.9 377.9 142.4 377.7 143.0 377.4 143.5 377.2 144.0 376.9 144.6 376.6 145.1 376.4 145.6 376.1 146.2 375.8 146.7 375.6 147.2 375.3 147.8 375.1 148.3 374.9 148.8 374.6 149.3 374.4 149.9 374.2 150.4 374.0 150.9 373.9 151.5 373.7 152.0 373.6 152.5 373.5 153.1 373.4 153.6 373.3 154.1 373.2 154.7 373.2 155.2 373.1 155.7 373.0 156.3 372.9 156.8 372.8 157.3 372.8 157.9 372.7 158.9 372.6 160.0 372.5 161.0 372.4 162.1 372.3 163.2 372.2 164.2 372.2 165.3 372.3 165.8 372.4 166.4 372.5 166.9 372.7 167.5 373.0 168.0 373.3 168.5 373.7 169.1 374.0 169.6 374.5 170.1 374.9 170.7 375.4 171.2 375.9 171.8 376.4 172.3 376.9 172.8 377.5 173.4 378.0 173.9 378.5 174.4 379.1 175.0 379.6 175.5 380.1 176.1 380.5 176.6 381.0 177.1 381.4 177.7 381.8 178.2 382.2 178.7 382.5 179.3 382.7 179.8 383.0 180.3 383.3 180.9 383.6 181.4 383.8 181.9 384.1 182.5 384.3 183.0 384.6 183.5 384.8 184.1 385.1 184.6 385.3 185.1 385.5 185.7 385.7 186.2 385.9 186.7 386.2 187.2 386.4 187.8 386.6 188.3 386.7 188.8 386.9 189.4 387.1 189.9 387.3 190.4 387.4 191.0 387.6 191.5 387.7 192.0 387.9 192.6 388.0 193.1 388.1 193.6 388.3 194.2 388.4 194.7 388.5 195.2 388.6 195.8 388.7 196.3 388.8 196.8 388.9 197.4 389.0 197.9 389.1 198.4 389.2 198.9 389.3 199.5 389.4 200.0 389.5 200.5 389.6 201.1 389.7 201.6 389.8 202.1 389.9 202.7 390.0 203.2 390.1 203.7 390.2 204.3 390.4 204.8 390.5 205.4 390.6 205.9 390.7 206.4 390.9 207.0 391.0 207.5 391.1 208.0 391.2 208.6 391.4 209.1 391.5 209.7 391.6 210.2 391.8 210.7 391.9 211.3 392.0 211.8 392.1 212.3 392.2 212.9 392.3 213.4 392.4 214.0 392.5 214.5 392.5 215.6 392.6 216.6 392.7 217.7 392.7 218.8 392.6 219.3 392.5 219.9 392.4 220.4 392.3 220.9 392.2 221.5 392.1 222.0 391.9 222.6 391.8 223.1 391.6 223.6 391.4 224.2 391.3 224.7 391.1 225.2 390.9 225.8 390.7 226.3 390.5 226.9 390.3 227.4 390.1 227.9 389.9 228.5 389.7 229.0 389.5 229.5 389.3 230.1 389.2 230.6 389.0 231.2 388.9 231.7 388.7 232.2 388.6 232.8 388.4 233.3 388.3 233.8 388.1 234.4 387.9 234.9 387.8 235.5 387.6 236.0 387.5 236.5 387.3 237.1 387.2 237.6 387.0 238.1 386.8 238.7 386.7 239.2 386.5 239.8 386.4 240.3 386.2 240.8 386.1 241.4 385.9 241.9 385.8 242.4 385.7 243.0 385.5 243.5 385.4 244.1 385.3 244.6 385.1 245.1 385.0 245.7 384.9 246.2 384.8 246.7 384.7 247.3 384.6 247.8 384.4 248.4 384.3 248.9 384.2 249.4 384.1 250.0 384.0 250.5 383.9 251.0 383.8 251.6 383.7 252.1 383.6 252.7 383.5 253.2 383.4 253.7 383.3 254.3 383.2 254.8 383.1 255.3 383.0 255.9 382.9 256.4 382.8 257.0 382.7 257.5 382.7 258.0 382.6 258.6 382.5 259.1 382.5 259.6 382.4 260.2 382.3 260.7 382.3 261.3 382.2 261.8 382.1 262.3 382.1 262.9 382.0 263.4 381.9 263.9 381.9 264.5 381.8 265.0 381.7 266.1 381.6 267.2 381.5 268.2 381.4 269.3 381.3 270.4 381.3 271.5 381.2 272.5 381.2 273.6 381.2 274.7 381.2 275.7 381.2 276.8 381.3 277.8 381.3 278.9 381.4 280.0 381.5 281.0 381.6 282.1 381.7 283.1 381.8 284.2 381.9 285.3 382.0 286.3 382.1 287.4 382.2 288.4 382.3 289.5 382.4 290.5 382.5" fill="none" stroke="#fdf5bd" stroke-width="1.15" stroke-linejoin="round"/><path d="M28.5 386.8 29.6 386.9 30.6 387.0 31.7 387.1 32.8 387.1 33.9 387.2 34.9 387.3 36.0 387.4 37.1 387.4 38.2 387.5 39.2 387.6 40.3 387.7 41.4 387.9 41.9 387.9 42.5 388.0 43.0 388.1 43.5 388.2 44.0 388.3 44.6 388.4 45.1 388.5 45.6 388.7 46.1 388.8 46.7 389.0 47.2 389.2 47.7 389.3 48.2 389.6 48.8 389.8 49.3 390.0 49.8 390.2 50.3 390.5 50.9 390.8 51.4 391.0 51.9 391.3 52.4 391.6 53.0 391.9 53.5 392.3 54.0 392.8 54.6 393.4 55.1 394.0 55.6 394.7 56.2 395.5 56.7 396.3 57.2 397.1 57.8 398.0 58.3 398.8 58.8 399.6 59.4 400.4 59.9 401.1 60.4 401.8 61.0 402.4 61.5 402.9 61.9 403.3 62.7 369.5 63.3 306.4 63.8 272.4 64.1 274.4 64.3 277.5 64.9 282.3 65.4 286.9 66.0 291.3 66.5 295.6 67.1 299.8 67.6 303.9 68.1 307.9 68.7 311.8 69.2 315.8 69.8 319.7 70.3 323.7 70.9 327.6 71.4 331.7 72.0 335.8 72.5 340.0 73.1 344.3 73.6 348.7 74.2 353.2 74.7 357.8 75.3 362.3 75.8 366.8 76.4 371.3 77.0 375.8 77.5 380.2 78.1 384.5 78.6 388.6 79.2 392.7 79.7 396.3 80.2 399.8 80.7 403.1 81.3 406.4 81.8 409.7 82.3 413.0 82.8 416.4 83.4 420.1 83.9 423.9 84.4 429.4 85.0 435.9 85.6 441.4 86.2 443.6 86.7 442.6 87.3 439.8 87.9 436.0 88.5 431.6 89.1 427.0 89.6 422.8 90.2 418.8 90.8 414.7 91.4 411.0 91.9 408.8 92.5 407.1 93.1 406.5 93.7 406.9 94.2 407.3 94.8 407.0 95.3 406.7 95.9 406.5 96.4 405.2 97.0 403.1 97.6 401.7 98.1 402.4 98.7 404.4 99.2 405.5 99.8 404.7 100.3 402.8 100.8 401.3 101.3 400.1 101.9 398.9 102.4 398.0 102.9 398.5 103.4 400.9 104.0 403.9 104.5 405.6 105.0 405.2 105.5 403.9 106.1 403.3 106.6 403.8 107.1 404.6 107.6 405.2 108.2 406.2 108.7 407.7 109.2 408.8 109.7 408.2 110.3 405.4 110.9 402.6 111.4 401.8 112.0 403.0 112.6 404.3 113.1 404.8 113.7 404.7 114.3 404.0 114.8 402.0 115.4 398.5 115.9 395.4 116.5 395.1 117.1 397.9 117.6 401.2 118.1 403.4 118.7 404.1 119.7 403.4 120.3 401.7 120.8 399.1 121.3 397.5 121.9 398.2 122.4 400.6 122.9 402.7 123.5 403.1 124.0 402.2 124.5 401.0 125.1 399.5 125.6 397.0 126.1 393.7 126.7 390.5 127.2 388.0 127.7 386.3 128.3 385.1 129.0 381.5 129.8 379.5 130.4 379.9 130.9 379.6 131.5 378.8 132.0 377.9 132.5 377.6 133.1 378.0 133.6 379.2 134.2 380.9 134.7 382.5 135.3 383.7 135.8 384.1 136.3 384.0 136.9 383.5 137.4 382.9 138.0 382.4 138.5 382.2 139.6 382.2 140.7 382.1 141.2 381.9 141.8 381.7 142.3 381.6 142.9 381.7 143.4 382.0 144.0 382.4 144.5 382.7 145.0 382.8 146.1 382.6 146.6 382.4 147.2 382.1 147.7 381.9 148.3 381.8 148.8 381.6 149.3 381.4 149.9 381.1 150.4 380.7 150.9 380.2 151.5 379.5 152.0 378.7 152.6 378.0 153.1 377.4 153.6 376.9 154.2 376.6 154.7 376.4 155.2 376.2 155.8 375.9 156.3 375.4 156.9 375.0 157.4 374.5 157.9 374.1 158.5 373.9 159.0 374.0 159.6 374.3 160.1 374.7 160.7 375.1 161.2 375.4 161.8 375.5 162.9 375.4 163.4 375.4 164.5 375.6 165.1 375.8 165.6 376.2 166.2 376.5 166.7 376.7 167.3 376.8 167.9 376.7 168.4 376.6 169.0 376.5 170.0 376.7 170.6 377.0 171.1 377.3 171.6 377.6 172.2 378.0 172.7 378.2 173.3 378.5 173.8 378.7 174.3 379.0 174.9 379.3 175.4 379.6 175.9 380.0 176.5 380.3 177.0 380.6 177.6 380.9 178.1 381.1 178.6 381.2 179.2 381.4 179.7 381.7 180.2 381.9 180.8 382.2 181.3 382.4 181.8 382.5 182.9 382.6 184.0 382.7 184.5 382.9 185.1 383.2 185.6 383.7 186.1 384.1 186.7 384.5 187.2 384.8 187.7 385.0 188.3 385.1 189.3 385.3 189.9 385.5 190.4 385.9 190.9 386.4 191.5 386.9 192.0 387.3 192.6 387.5 193.6 387.5 194.2 387.3 194.7 387.2 195.8 387.3 196.3 387.6 196.8 388.0 197.4 388.3 197.9 388.5 198.4 388.6 199.5 388.5 200.0 388.4 201.1 388.6 201.6 388.9 202.2 389.2 202.7 389.6 203.2 389.8 203.7 390.0 204.8 390.0 205.3 389.9 206.3 389.8 207.4 390.0 208.4 390.1 209.5 390.0 210.0 389.9 211.1 389.8 212.1 389.9 213.2 390.0 214.2 390.0 215.3 390.1 215.8 390.1 216.3 390.3 216.9 390.4 217.4 390.6 218.5 390.6 219.0 390.4 219.5 390.1 220.1 389.8 220.6 389.5 221.2 389.3 221.7 389.3 222.8 389.3 223.8 389.0 224.4 388.7 224.9 388.3 225.4 387.8 226.0 387.5 226.5 387.3 227.6 387.4 228.1 387.6 228.6 387.8 229.7 387.7 230.2 387.4 230.8 387.1 231.3 386.8 231.9 386.6 232.4 386.5 233.5 386.6 234.6 386.6 235.1 386.3 235.6 385.9 236.2 385.4 236.7 384.9 237.3 384.5 237.8 384.3 238.3 384.1 239.4 384.1 240.0 384.0 240.5 383.8 241.0 383.6 241.6 383.4 242.1 383.2 242.7 383.1 243.8 383.0 244.8 383.1 245.9 382.9 246.5 382.8 247.0 382.7 247.5 382.6 248.6 382.6 249.7 382.5 250.3 382.3 250.8 382.2 251.3 382.0 251.9 381.9 253.0 382.0 253.5 382.2 254.1 382.4 254.6 382.5 255.1 382.6 256.2 382.5 256.8 382.4 257.9 382.5 258.4 382.7 258.9 383.1 259.5 383.4 260.0 383.6 261.1 383.4 261.7 383.1 262.2 382.8 262.8 382.5 263.3 382.4 264.3 382.6 264.9 382.7 265.9 382.7 266.4 382.5 267.0 382.1 267.5 381.8 268.0 381.4 268.5 381.2 269.6 381.2 270.1 381.4 270.6 381.6 271.2 381.6 272.2 381.4 272.7 381.2 273.3 381.0 273.8 380.8 274.3 380.7 275.4 380.7 275.9 380.8 277.0 380.8 277.5 380.6 278.1 380.5 278.6 380.3 279.2 380.2 280.2 380.2 281.3 380.2 282.4 380.2 283.5 380.3 284.0 380.4 284.6 380.6 285.1 380.8 285.7 380.9 286.2 381.0 287.3 380.9 287.8 380.7 288.4 380.6 289.5 380.6 290.0 380.7 290.5 380.8" fill="none" stroke="#f2f9ff" stroke-width="1.1" stroke-linejoin="round"/><path d="M28.5 386.8 29.6 386.9 30.6 387.0 31.7 387.1 32.8 387.1 33.9 387.2 34.9 387.3 36.0 387.4 37.1 387.4 38.2 387.5 39.2 387.6 40.3 387.7 41.4 387.9 41.9 387.9 42.5 388.0 43.0 388.1 43.5 388.2 44.0 388.3 44.6 388.4 45.1 388.5 45.6 388.7 46.1 388.8 46.7 389.0 47.2 389.2 47.7 389.3 48.2 389.6 48.8 389.8 49.3 390.0 49.8 390.2 50.3 390.5 50.9 390.8 51.4 391.0 51.9 391.3 52.4 391.6 53.0 391.9 53.5 392.3 54.0 392.8 54.6 393.4 55.1 394.0 55.6 394.7 56.2 395.5 56.7 396.3 57.2 397.1 57.8 398.0 58.3 398.8 58.8 399.6 59.4 400.4 59.9 401.1 60.4 401.8 61.0 402.4 61.5 402.9 61.9 403.3 62.8 368.8 63.4 304.5 64.0 269.8 64.1 273.1 64.3 277.5 64.9 284.4 65.4 290.5 66.0 295.9 66.5 300.8 67.1 305.1 67.6 309.1 68.1 312.7 68.7 316.0 69.2 319.2 69.8 322.4 70.3 325.5 70.9 328.8 71.4 332.2 72.0 335.9 72.5 340.0 73.1 344.3 73.6 348.7 74.2 353.2 74.7 357.8 75.3 362.3 75.8 366.8 76.4 371.3 77.0 375.8 77.5 380.2 78.1 384.5 78.6 388.6 79.2 392.7 79.7 396.3 80.2 399.8 80.7 403.1 81.3 406.4 81.8 409.7 82.3 413.0 82.8 416.4 83.4 420.1 83.9 423.9 84.4 429.4 85.0 435.9 85.6 441.4 86.2 443.6 86.7 442.6 87.3 439.8 87.9 435.9 88.5 431.5 89.1 427.1 89.6 423.5 90.2 420.5 90.8 417.3 91.4 414.1 91.9 411.5 92.5 409.9 93.1 408.1 93.7 406.0 94.2 404.6 94.8 403.1 95.3 400.9 95.9 401.0 96.4 405.6 97.0 410.5 97.6 410.1 98.1 405.4 98.7 401.6 99.2 400.4 99.8 399.9 100.3 400.2 100.8 403.0 101.3 407.2 101.9 408.9 102.4 406.2 102.9 402.7 103.4 402.9 104.0 405.9 104.5 408.3 105.0 409.0 105.5 409.7 106.1 410.6 106.6 409.4 107.1 405.6 107.6 403.1 108.2 404.9 108.7 408.5 109.2 409.5 109.7 407.1 110.3 404.6 110.9 404.0 111.4 403.3 112.0 402.4 112.6 404.3 113.1 408.4 113.7 408.9 114.3 403.9 114.8 398.2 115.4 396.9 115.9 398.7 116.5 400.9 117.1 404.1 117.6 408.4 118.1 410.4 118.7 407.4 119.2 402.1 119.7 399.8 120.3 401.7 120.8 404.0 121.3 404.3 121.9 404.0 122.4 404.4 122.9 403.6 123.5 400.3 124.0 397.7 124.5 399.0 125.1 401.5 125.6 400.4 126.1 396.3 126.7 392.7 127.2 390.7 127.7 389.2 128.3 387.6 129.0 382.0 129.8 377.4 130.4 377.1 130.9 377.4 131.5 378.3 132.0 379.7 132.5 381.3 133.1 382.6 133.6 383.3 134.2 383.2 134.7 382.5 135.3 381.7 135.8 381.1 136.9 381.8 137.4 383.0 138.0 384.2 138.5 385.0 139.1 385.3 139.6 385.0 140.2 384.1 140.7 383.1 141.2 382.3 141.8 381.8 142.9 382.2 143.4 382.7 144.0 383.2 144.5 383.5 145.6 383.4 146.1 383.1 146.6 382.9 147.2 382.6 147.7 382.5 148.3 382.3 148.8 382.0 149.3 381.7 149.9 381.3 150.4 380.9 150.9 380.4 151.5 379.9 152.0 379.5 152.6 379.1 153.1 378.7 153.6 378.4 154.2 378.0 154.7 377.5 155.2 376.9 155.8 376.3 156.3 375.8 156.9 375.3 157.4 375.1 157.9 375.0 158.5 375.0 159.0 375.2 159.6 375.4 160.1 375.4 161.2 375.3 161.8 375.2 162.9 375.3 163.4 375.6 164.0 376.0 164.5 376.4 165.1 376.8 165.6 377.1 166.2 377.2 166.7 377.3 167.3 377.4 167.9 377.5 168.4 377.6 169.0 377.7 169.5 377.9 170.0 378.1 170.6 378.3 171.1 378.4 171.6 378.5 172.2 378.6 172.7 378.7 173.3 378.9 173.8 379.2 174.3 379.5 174.9 379.8 175.4 380.0 175.9 380.2 176.5 380.3 177.0 380.4 177.6 380.6 178.1 380.9 178.6 381.3 179.2 381.8 179.7 382.4 180.2 382.9 180.8 383.2 181.3 383.4 181.8 383.5 182.9 383.6 183.5 383.7 184.0 383.9 184.5 384.2 185.1 384.5 185.6 384.9 186.1 385.2 186.7 385.4 187.2 385.4 188.3 385.5 189.3 385.7 189.9 385.9 190.4 386.2 190.9 386.5 191.5 386.7 192.0 387.0 192.6 387.2 193.1 387.4 193.6 387.6 194.2 387.9 194.7 388.2 195.2 388.5 195.8 388.8 196.3 389.0 196.8 389.2 197.9 389.2 199.0 389.4 199.5 389.5 200.0 389.8 200.6 390.0 201.1 390.2 202.2 390.2 202.7 390.0 203.2 389.8 203.7 389.6 204.2 389.5 205.3 389.7 205.8 389.9 206.3 390.2 206.9 390.4 207.4 390.6 208.4 390.6 209.5 390.5 210.5 390.6 211.1 390.8 211.6 391.0 212.1 391.2 212.6 391.3 213.7 391.3 214.7 391.2 215.8 391.1 216.9 391.0 217.4 390.9 217.9 390.7 218.5 390.4 219.0 390.1 219.5 390.0 220.1 389.9 221.2 389.9 222.2 389.9 222.8 389.8 223.3 389.6 223.8 389.3 224.4 389.0 224.9 388.8 225.4 388.6 226.5 388.8 227.0 388.9 227.6 389.0 228.6 388.8 229.2 388.5 229.7 388.2 230.2 387.8 230.8 387.5 231.3 387.4 231.9 387.3 232.9 387.1 233.5 387.0 234.0 386.8 234.6 386.5 235.1 386.2 235.6 385.9 236.2 385.7 236.7 385.5 237.3 385.4 237.8 385.3 238.3 385.1 238.9 384.9 239.4 384.7 240.0 384.5 240.5 384.3 241.6 384.3 242.1 384.4 243.2 384.4 243.8 384.2 244.3 383.9 244.8 383.6 245.4 383.3 245.9 383.1 246.5 383.0 247.5 383.1 248.1 383.2 248.6 383.3 249.7 383.1 250.3 382.9 250.8 382.6 251.3 382.4 252.4 382.5 253.0 382.6 253.5 382.9 254.1 383.1 254.6 383.2 255.1 383.3 256.2 383.3 257.3 383.4 257.9 383.5 258.4 383.6 258.9 383.7 260.0 383.7 260.6 383.6 261.1 383.6 262.2 383.6 262.8 383.7 263.3 383.7 264.3 383.6 264.9 383.4 265.4 383.1 265.9 382.8 266.4 382.5 267.0 382.3 268.0 382.2 268.5 382.3 269.1 382.4 270.1 382.3 270.6 382.1 271.2 381.8 271.7 381.6 272.2 381.4 272.7 381.3 273.8 381.4 274.3 381.6 274.8 381.7 275.9 381.7 276.4 381.6 277.0 381.4 277.5 381.3 278.1 381.2 279.2 381.1 280.2 381.1 280.8 381.0 281.3 380.9 281.9 380.8 283.0 380.8 283.5 380.9 284.0 381.0 284.6 381.2 285.1 381.2 286.2 381.1 286.8 381.0 287.3 380.9 288.4 381.1 288.9 381.3 289.5 381.6 290.0 381.8 290.5 381.9" fill="none" stroke="#a9d9f2" stroke-width="1.1" stroke-linejoin="round"/><path d="M28.5 386.8 29.6 386.9 30.6 387.0 31.7 387.1 32.8 387.1 33.9 387.2 34.9 387.3 36.0 387.4 37.1 387.4 38.2 387.5 39.2 387.6 40.3 387.7 41.4 387.9 41.9 387.9 42.5 388.0 43.0 388.1 43.5 388.2 44.0 388.3 44.6 388.4 45.1 388.5 45.6 388.7 46.1 388.8 46.7 389.0 47.2 389.2 47.7 389.3 48.2 389.6 48.8 389.8 49.3 390.0 49.8 390.2 50.3 390.5 50.9 390.8 51.4 391.0 51.9 391.3 52.4 391.6 53.0 391.9 53.5 392.3 54.0 392.8 54.6 393.4 55.1 394.0 55.6 394.7 56.2 395.5 56.7 396.3 57.2 397.1 57.8 398.0 58.3 398.8 58.8 399.6 59.4 400.4 59.9 401.1 60.4 401.8 61.0 402.4 61.5 402.9 61.9 403.3 62.9 334.8 63.6 266.2 64.0 270.9 64.3 277.5 64.9 283.5 65.4 289.0 66.0 294.0 66.5 298.7 67.1 302.9 67.6 306.9 68.1 310.7 68.7 314.3 69.2 317.8 69.8 321.3 70.3 324.8 70.9 328.3 71.4 332.0 72.0 335.9 72.5 340.0 73.1 344.3 73.6 348.7 74.2 353.2 74.7 357.8 75.3 362.3 75.8 366.8 76.4 371.3 77.0 375.8 77.5 380.2 78.1 384.5 78.6 388.6 79.2 392.7 79.7 396.3 80.2 399.8 80.7 403.1 81.3 406.4 81.8 409.7 82.3 413.0 82.8 416.4 83.4 420.1 83.9 423.9 84.4 429.4 85.0 435.9 85.6 441.4 86.2 443.6 86.7 442.6 87.3 439.8 87.9 435.9 88.5 431.5 89.1 427.1 89.6 423.5 90.2 420.1 90.8 416.3 91.4 412.3 91.9 409.3 92.5 405.5 93.1 403.0 93.7 402.7 94.2 403.6 94.8 406.7 95.3 410.6 95.9 408.9 96.4 402.5 97.0 400.6 97.6 403.7 98.1 405.4 98.7 405.0 99.2 405.6 99.8 405.2 100.3 402.1 100.8 401.1 101.3 405.9 101.9 411.5 102.4 411.8 102.9 408.0 103.4 405.5 104.0 404.4 104.5 402.8 105.0 403.4 105.5 408.1 106.1 411.8 106.6 409.0 107.1 402.9 107.6 400.2 108.2 401.4 108.7 402.5 109.2 403.7 109.7 406.8 110.3 408.4 110.9 404.4 111.4 400.3 112.0 402.5 112.6 406.6 113.1 406.3 113.7 404.0 114.3 402.7 114.8 400.0 115.4 397.4 115.9 400.8 116.5 408.1 117.1 410.2 117.6 406.5 118.1 403.3 118.7 402.4 119.2 401.4 119.7 401.4 120.3 405.2 120.8 408.7 121.3 406.1 121.9 400.0 122.4 397.6 122.9 399.4 123.5 400.4 124.0 400.1 124.5 400.9 125.1 399.6 125.6 395.3 126.1 392.1 126.7 393.1 127.2 394.5 127.7 393.0 128.3 389.8 129.0 382.2 129.8 377.2 130.9 378.0 131.5 379.4 132.0 380.8 132.5 382.1 133.1 382.9 133.6 383.1 134.2 383.0 134.7 382.8 135.8 383.1 136.3 383.6 136.9 384.1 137.4 384.4 138.5 384.3 139.1 383.9 139.6 383.6 140.7 383.8 141.2 384.2 141.8 384.7 142.3 385.0 143.4 384.8 144.0 384.4 144.5 383.8 145.0 383.4 145.6 383.2 146.6 383.2 147.2 383.3 148.3 383.1 148.8 382.8 149.3 382.4 149.9 381.9 150.4 381.4 150.9 381.0 151.5 380.5 152.0 380.1 152.6 379.8 153.1 379.4 153.6 378.9 154.2 378.5 154.7 378.0 155.2 377.6 155.8 377.2 156.3 376.9 156.9 376.8 157.4 376.6 157.9 376.6 158.5 376.5 159.0 376.4 159.6 376.2 160.1 376.0 160.7 375.8 161.2 375.7 161.8 375.8 162.3 376.0 162.9 376.2 163.4 376.5 164.0 376.8 164.5 377.0 165.1 377.1 165.6 377.2 166.2 377.3 166.7 377.5 167.3 377.7 167.9 378.0 168.4 378.2 169.0 378.5 169.5 378.7 170.0 378.8 170.6 379.0 171.1 379.2 171.6 379.4 172.2 379.7 172.7 380.0 173.3 380.4 173.8 380.7 174.3 380.9 174.9 381.1 175.9 381.1 177.0 381.3 177.6 381.5 178.1 381.8 178.6 382.2 179.2 382.6 179.7 382.9 180.2 383.2 180.8 383.3 181.3 383.5 181.8 383.6 182.4 383.7 182.9 384.0 183.5 384.3 184.0 384.6 184.5 384.9 185.1 385.1 185.6 385.3 186.1 385.5 186.7 385.8 187.2 386.0 187.7 386.3 188.3 386.7 188.8 387.1 189.3 387.4 189.9 387.7 190.4 387.8 191.5 387.9 192.6 388.0 193.1 388.1 193.6 388.4 194.2 388.7 194.7 389.0 195.2 389.2 195.8 389.4 196.3 389.5 197.4 389.5 198.4 389.6 199.0 389.7 199.5 389.9 200.0 390.1 200.6 390.2 201.1 390.3 202.2 390.4 202.7 390.5 203.2 390.7 203.7 390.9 204.2 391.1 204.8 391.3 205.3 391.5 205.8 391.6 206.9 391.5 207.4 391.4 207.9 391.3 209.0 391.3 209.5 391.5 210.0 391.6 210.5 391.8 211.1 391.9 212.1 391.8 212.6 391.6 213.2 391.5 213.7 391.4 214.7 391.3 215.8 391.4 216.9 391.3 217.4 391.2 217.9 391.1 219.0 391.1 220.1 391.2 221.2 391.3 221.7 391.1 222.2 390.9 222.8 390.7 223.3 390.4 223.8 390.2 224.4 390.0 225.4 390.0 226.5 390.0 227.0 389.8 227.6 389.6 228.1 389.3 228.6 389.0 229.2 388.6 229.7 388.4 230.2 388.2 230.8 388.1 231.3 388.0 231.9 387.9 232.4 387.7 232.9 387.5 233.5 387.3 234.0 387.1 234.6 387.0 235.1 386.9 236.2 386.9 236.7 386.8 237.3 386.6 237.8 386.4 238.3 386.1 238.9 385.8 239.4 385.5 240.0 385.4 241.0 385.3 242.1 385.4 242.7 385.2 243.2 385.0 243.8 384.8 244.3 384.5 244.8 384.2 245.4 384.0 245.9 383.9 246.5 383.8 247.5 383.7 248.1 383.6 248.6 383.5 249.2 383.4 250.3 383.4 250.8 383.5 251.3 383.6 251.9 383.8 252.4 383.9 253.5 383.8 254.1 383.7 254.6 383.6 255.7 383.7 256.2 383.9 256.8 384.1 257.3 384.4 257.9 384.6 258.4 384.7 259.5 384.6 260.0 384.4 260.6 384.3 261.1 384.3 262.2 384.3 263.3 384.3 264.3 384.1 264.9 384.0 265.4 383.8 265.9 383.7 267.0 383.6 268.0 383.4 268.5 383.3 269.1 383.0 269.6 382.7 270.1 382.5 270.6 382.2 271.2 382.1 272.2 382.2 272.7 382.3 273.3 382.4 274.3 382.5 274.8 382.4 275.4 382.2 275.9 382.1 276.4 382.0 277.5 382.1 278.1 382.1 279.2 382.2 280.2 382.0 280.8 381.9 281.3 381.9 282.4 381.9 283.5 382.0 284.6 381.8 285.1 381.7 285.7 381.5 286.2 381.4 287.3 381.5 287.8 381.6 288.4 381.9 288.9 382.1 289.5 382.2 290.5 382.2" fill="none" stroke="#5aa6de" stroke-width="1.1" stroke-linejoin="round"/><path d="M28.5 386.8 29.6 386.9 30.6 387.0 31.7 387.1 32.8 387.1 33.9 387.2 34.9 387.3 36.0 387.4 37.1 387.4 38.2 387.5 39.2 387.6 40.3 387.7 41.4 387.9 41.9 387.9 42.5 388.0 43.0 388.1 43.5 388.2 44.0 388.3 44.6 388.4 45.1 388.5 45.6 388.7 46.1 388.8 46.7 389.0 47.2 389.2 47.7 389.3 48.2 389.6 48.8 389.8 49.3 390.0 49.8 390.2 50.3 390.5 50.9 390.8 51.4 391.0 51.9 391.3 52.4 391.6 53.0 391.9 53.5 392.3 54.0 392.8 54.6 393.4 55.1 394.0 55.6 394.7 56.2 395.5 56.7 396.3 57.2 397.1 57.8 398.0 58.3 398.8 58.8 399.6 59.4 400.4 59.9 401.1 60.4 401.8 61.0 402.4 61.5 402.9 61.9 403.3 62.7 369.5 63.3 306.4 63.8 272.4 64.1 274.4 64.3 277.5 64.9 282.3 65.4 286.9 66.0 291.3 66.5 295.6 67.1 299.8 67.6 303.9 68.1 307.9 68.7 311.8 69.2 315.8 69.8 319.7 70.3 323.7 70.9 327.6 71.4 331.7 72.0 335.8 72.5 340.0 73.1 344.3 73.6 348.7 74.2 353.2 74.7 357.8 75.3 362.3 75.8 366.8 76.4 371.3 77.0 375.8 77.5 380.2 78.1 384.5 78.6 388.6 79.2 392.7 79.7 396.3 80.2 399.8 80.7 403.1 81.3 406.4 81.8 409.7 82.3 413.0 82.8 416.4 83.4 420.1 83.9 423.9 84.4 429.4 85.0 435.9 85.6 441.4 86.2 443.6 86.7 442.6 87.3 439.8 87.9 435.8 88.5 431.3 89.1 426.9 89.6 423.3 90.2 420.1 90.8 416.6 91.4 413.0 91.9 410.1 92.5 407.8 93.1 406.2 93.7 405.6 94.2 406.0 94.8 407.2 95.3 408.4 95.9 408.1 96.4 405.9 97.0 403.9 97.6 403.2 98.1 403.7 98.7 404.7 99.2 405.6 99.8 406.7 100.3 407.8 100.8 408.3 101.3 407.5 101.9 405.3 102.4 403.0 102.9 401.9 103.4 402.3 104.0 403.5 104.5 404.4 105.0 404.7 105.5 404.6 106.1 404.4 106.6 403.9 107.1 402.8 107.6 401.5 108.2 400.9 108.7 401.7 109.2 403.9 109.7 406.3 110.3 407.5 110.9 406.9 111.4 405.5 112.0 404.1 112.6 403.0 113.1 402.0 113.7 401.6 114.3 402.4 114.8 404.5 115.4 406.4 115.9 406.8 116.5 405.4 117.1 403.4 117.6 402.4 118.7 402.9 119.2 403.4 119.7 403.9 120.3 404.7 120.8 405.1 121.3 404.3 121.9 402.0 122.4 399.0 122.9 396.7 123.5 396.1 124.0 396.8 124.5 397.8 125.6 397.1 126.1 396.3 126.7 395.0 127.2 393.2 127.7 391.1 128.3 389.2 129.0 384.0 129.8 380.5 130.4 381.0 130.9 381.4 131.5 381.6 132.0 381.4 132.5 381.1 133.1 380.9 133.6 381.0 134.2 381.6 134.7 382.6 135.3 383.8 135.8 384.9 136.3 385.7 136.9 386.0 137.4 385.9 138.0 385.5 138.5 385.0 139.1 384.7 139.6 384.6 140.2 384.8 140.7 385.1 141.2 385.4 141.8 385.5 142.9 385.3 143.4 385.1 144.0 385.0 145.0 385.1 145.6 385.2 146.6 385.0 147.2 384.7 147.7 384.3 148.3 383.8 148.8 383.3 149.3 382.8 149.9 382.3 150.4 381.9 150.9 381.6 151.5 381.3 152.0 380.9 152.6 380.5 153.1 380.1 153.6 379.7 154.2 379.2 154.7 378.8 155.2 378.5 155.8 378.2 156.3 378.0 156.9 377.8 157.4 377.6 157.9 377.4 158.5 377.2 159.0 377.0 159.6 376.9 160.7 377.0 161.2 377.2 161.8 377.4 162.3 377.6 162.9 377.7 163.4 377.8 164.5 377.9 165.6 378.0 166.2 378.2 166.7 378.4 167.3 378.6 167.9 378.7 168.4 378.9 169.0 379.0 169.5 379.1 170.0 379.2 170.6 379.4 171.1 379.7 171.6 380.1 172.2 380.5 172.7 380.8 173.3 381.1 173.8 381.3 174.3 381.5 174.9 381.6 175.4 381.8 175.9 382.0 176.5 382.3 177.0 382.6 177.6 383.0 178.1 383.3 178.6 383.6 179.2 383.8 179.7 384.0 180.2 384.2 180.8 384.4 181.3 384.6 181.8 384.9 182.4 385.2 182.9 385.4 183.5 385.6 184.0 385.7 185.1 385.8 186.1 386.0 186.7 386.2 187.2 386.5 187.7 386.8 188.3 387.2 188.8 387.5 189.3 387.8 189.9 388.0 190.4 388.1 190.9 388.3 191.5 388.5 192.0 388.7 192.6 389.0 193.1 389.3 193.6 389.5 194.2 389.8 194.7 389.9 195.2 390.0 195.8 390.1 196.3 390.3 196.8 390.4 197.4 390.7 197.9 391.0 198.4 391.2 199.0 391.5 199.5 391.6 200.6 391.6 201.6 391.5 202.7 391.5 203.2 391.6 203.7 391.7 204.2 391.8 205.3 391.8 206.3 391.8 207.4 391.9 207.9 392.0 208.4 392.1 209.0 392.3 209.5 392.4 210.5 392.4 211.1 392.3 211.6 392.2 212.6 392.2 213.2 392.3 213.7 392.4 214.2 392.6 214.7 392.7 215.3 392.8 216.3 392.7 216.9 392.7 217.4 392.6 218.5 392.5 219.5 392.5 220.1 392.4 220.6 392.2 221.2 391.9 221.7 391.7 222.2 391.4 222.8 391.2 223.3 391.1 223.8 391.0 224.9 390.9 225.4 390.8 226.0 390.6 226.5 390.4 227.0 390.2 227.6 389.9 228.1 389.7 228.6 389.5 229.2 389.4 229.7 389.3 230.2 389.2 230.8 389.1 231.3 388.9 231.9 388.8 232.4 388.6 232.9 388.5 233.5 388.4 234.6 388.3 235.6 388.3 236.2 388.1 236.7 387.9 237.3 387.6 237.8 387.3 238.3 387.0 238.9 386.8 239.4 386.6 240.0 386.5 240.5 386.4 241.0 386.3 241.6 386.1 242.1 385.9 242.7 385.6 243.2 385.4 243.8 385.2 244.3 385.1 244.8 385.1 245.9 384.9 246.5 384.8 247.0 384.7 247.5 384.5 248.1 384.3 248.6 384.2 249.7 384.2 250.3 384.3 250.8 384.5 251.3 384.6 251.9 384.7 253.0 384.8 254.1 384.8 254.6 384.8 255.1 384.9 255.7 385.1 256.2 385.2 257.3 385.2 257.9 385.1 258.4 385.1 259.5 385.0 260.0 385.1 260.6 385.3 261.1 385.4 261.7 385.5 262.8 385.5 263.3 385.3 263.8 385.2 264.3 385.0 264.9 384.8 265.4 384.7 265.9 384.7 266.4 384.6 267.0 384.5 267.5 384.3 268.0 384.1 268.5 383.9 269.1 383.7 269.6 383.6 270.1 383.5 271.2 383.4 272.2 383.4 272.7 383.3 273.3 383.1 273.8 383.0 274.3 382.8 274.8 382.7 275.9 382.7 276.4 382.9 277.0 383.0 277.5 383.1 278.6 383.1 279.7 383.0 280.8 383.0 281.9 383.1 283.0 383.1 283.5 383.0 284.0 382.8 284.6 382.6 285.1 382.5 285.7 382.5 286.8 382.6 287.3 382.7 287.8 382.8 288.9 382.8 289.5 382.8 290.0 382.7 290.5 382.6" fill="none" stroke="#3b6cc2" stroke-width="1.1" stroke-linejoin="round"/><path d="M28.5 386.8 29.6 386.9 30.6 387.0 31.7 387.1 32.8 387.1 33.9 387.2 34.9 387.3 36.0 387.4 37.1 387.4 38.2 387.5 39.2 387.6 40.3 387.7 41.4 387.9 41.9 387.9 42.5 388.0 43.0 388.1 43.5 388.2 44.0 388.3 44.6 388.4 45.1 388.5 45.6 388.7 46.1 388.8 46.7 389.0 47.2 389.2 47.7 389.3 48.2 389.6 48.8 389.8 49.3 390.0 49.8 390.2 50.3 390.5 50.9 390.8 51.4 391.0 51.9 391.3 52.4 391.6 53.0 391.9 53.5 392.3 54.0 392.8 54.6 393.4 55.1 394.0 55.6 394.7 56.2 395.5 56.7 396.3 57.2 397.1 57.8 398.0 58.3 398.8 58.8 399.6 59.4 400.4 59.9 401.1 60.4 401.8 61.0 402.4 61.5 402.9 61.9 403.3 62.8 339.2 63.4 274.9 63.9 275.8 64.3 277.5 64.9 279.8 65.4 282.7 66.0 285.9 66.5 289.6 67.1 293.6 67.6 297.8 68.1 302.3 68.7 307.0 69.2 311.8 69.8 316.6 70.3 321.5 70.9 326.3 71.4 331.0 72.0 335.6 72.5 340.0 73.1 344.3 73.6 348.7 74.2 353.2 74.7 357.8 75.3 362.3 75.8 366.8 76.4 371.3 77.0 375.8 77.5 380.2 78.1 384.5 78.6 388.6 79.2 392.7 79.7 396.3 80.2 399.8 80.7 403.1 81.3 406.4 81.8 409.7 82.3 413.0 82.8 416.4 83.4 420.1 83.9 423.9 84.4 429.4 85.0 435.9 85.6 441.4 86.2 443.6 86.7 442.6 87.3 439.7 87.9 435.8 88.5 431.5 89.1 427.2 89.6 423.7 90.2 420.4 90.8 417.0 91.4 413.6 91.9 411.0 92.5 409.0 93.1 407.7 93.7 407.2 94.2 406.9 94.8 406.0 95.3 404.8 95.9 403.9 96.4 404.0 97.0 404.9 97.6 405.8 98.1 406.1 98.7 405.7 99.2 404.8 99.8 403.9 100.3 402.9 100.8 401.9 101.3 401.1 101.9 400.8 102.4 401.4 102.9 402.6 103.4 403.8 104.0 404.3 104.5 404.0 105.0 403.1 105.5 402.3 106.1 402.0 106.6 402.4 107.1 403.1 107.6 403.9 108.2 404.8 108.7 405.9 109.2 406.8 109.7 407.1 110.3 406.5 110.9 405.0 111.4 403.5 112.0 402.8 112.6 403.2 113.1 404.2 113.7 405.1 114.3 405.4 114.8 405.2 115.4 404.7 115.9 404.1 116.5 403.3 117.1 402.3 117.6 401.8 118.1 402.0 118.7 402.9 119.2 403.9 119.7 404.4 120.3 403.8 120.8 402.4 121.3 400.8 121.9 399.4 122.4 398.5 122.9 397.8 123.5 397.3 124.0 397.1 124.5 397.2 125.6 396.6 126.1 395.3 126.7 393.5 127.2 391.8 127.7 390.7 128.3 390.1 129.0 386.3 129.8 383.2 130.4 383.3 130.9 383.2 131.5 382.7 132.0 382.3 132.5 382.0 133.1 382.1 133.6 382.6 134.2 383.2 134.7 383.9 135.3 384.4 135.8 384.6 136.9 384.7 137.4 384.7 138.0 385.0 138.5 385.5 139.1 386.0 139.6 386.6 140.2 387.0 140.7 387.2 141.2 387.1 141.8 386.8 142.3 386.5 142.9 386.3 143.4 386.1 144.5 386.2 145.6 386.2 146.1 386.0 146.6 385.7 147.2 385.3 147.7 385.0 148.3 384.6 148.8 384.3 149.3 383.9 149.9 383.6 150.4 383.2 150.9 382.8 151.5 382.3 152.0 381.8 152.6 381.3 153.1 380.7 153.6 380.2 154.2 379.8 154.7 379.4 155.2 379.1 155.8 378.9 156.3 378.6 156.9 378.3 157.4 378.1 157.9 377.9 158.5 377.8 159.6 377.9 160.1 378.0 160.7 378.2 161.2 378.4 161.8 378.5 162.3 378.6 163.4 378.7 164.0 378.7 164.5 378.8 165.1 379.0 165.6 379.2 166.2 379.4 166.7 379.6 167.3 379.7 167.9 379.8 168.4 379.9 169.0 380.0 169.5 380.2 170.0 380.4 170.6 380.6 171.1 380.9 171.6 381.2 172.2 381.4 172.7 381.6 173.3 381.7 173.8 381.8 174.3 382.0 174.9 382.2 175.4 382.4 175.9 382.7 176.5 383.0 177.0 383.3 177.6 383.6 178.1 383.8 178.6 384.0 179.2 384.2 179.7 384.5 180.2 384.8 180.8 385.1 181.3 385.5 181.8 385.8 182.4 386.1 182.9 386.4 183.5 386.5 184.0 386.7 184.5 386.8 185.1 387.0 185.6 387.2 186.1 387.5 186.7 387.7 187.2 388.0 187.7 388.2 188.3 388.4 188.8 388.5 189.3 388.7 189.9 388.9 190.4 389.1 190.9 389.3 191.5 389.6 192.0 389.9 192.6 390.2 193.1 390.4 193.6 390.5 194.2 390.6 194.7 390.7 195.2 390.8 195.8 390.9 196.3 391.0 196.8 391.2 197.4 391.4 197.9 391.5 198.4 391.6 199.5 391.7 200.6 391.8 201.1 392.0 201.6 392.1 202.2 392.3 202.7 392.5 203.2 392.7 203.7 392.8 204.8 392.8 205.8 392.9 206.9 393.0 207.4 393.1 207.9 393.3 208.4 393.3 209.5 393.4 210.5 393.3 211.6 393.4 212.1 393.5 212.6 393.6 213.2 393.7 214.2 393.8 215.3 393.6 215.8 393.5 216.3 393.4 216.9 393.3 217.9 393.2 219.0 393.0 219.5 392.9 220.1 392.7 220.6 392.5 221.2 392.3 221.7 392.2 222.2 392.1 223.3 392.1 224.4 391.9 224.9 391.8 225.4 391.6 226.0 391.4 226.5 391.2 227.0 391.0 227.6 390.9 228.1 390.8 228.6 390.7 229.2 390.6 229.7 390.5 230.2 390.3 230.8 390.1 231.3 390.0 231.9 389.8 232.4 389.7 233.5 389.6 234.6 389.5 235.1 389.3 235.6 389.1 236.2 388.8 236.7 388.6 237.3 388.3 237.8 388.1 238.3 387.9 238.9 387.8 239.4 387.6 240.0 387.4 240.5 387.1 241.0 386.9 241.6 386.6 242.1 386.3 242.7 386.2 243.2 386.1 244.3 386.0 245.4 385.9 245.9 385.7 246.5 385.6 247.0 385.5 247.5 385.4 248.6 385.4 249.2 385.4 249.7 385.5 250.8 385.5 251.9 385.4 253.0 385.5 253.5 385.5 254.1 385.7 254.6 385.8 255.1 386.0 255.7 386.1 256.8 386.1 257.9 386.0 258.9 386.1 259.5 386.1 260.6 386.2 261.7 386.1 262.2 386.0 262.8 385.9 263.3 385.9 264.3 385.9 265.4 385.9 266.4 385.7 267.0 385.6 267.5 385.4 268.0 385.1 268.5 384.9 269.1 384.8 269.6 384.6 270.1 384.5 270.6 384.4 271.2 384.3 271.7 384.1 272.2 384.0 272.7 383.8 273.3 383.6 273.8 383.5 274.8 383.6 275.4 383.7 275.9 383.8 276.4 383.9 277.5 383.9 278.6 383.9 279.7 383.9 280.8 384.0 281.9 384.0 282.4 383.9 283.0 383.8 283.5 383.7 284.0 383.7 285.1 383.7 285.7 383.8 286.2 383.9 287.3 383.9 288.4 383.8 288.9 383.7 289.5 383.7 290.5 383.7" fill="none" stroke="#2b3a98" stroke-width="1.1" stroke-linejoin="round"/><path d="M28.5 386.8 29.6 386.9 30.6 387.0 31.7 387.1 32.8 387.1 33.9 387.2 34.9 387.3 36.0 387.4 37.1 387.4 38.2 387.5 39.2 387.6 40.3 387.7 41.4 387.9 41.9 387.9 42.5 388.0 43.0 388.1 43.5 388.2 44.0 388.3 44.6 388.4 45.1 388.5 45.6 388.7 46.1 388.8 46.7 389.0 47.2 389.2 47.7 389.3 48.2 389.6 48.8 389.8 49.3 390.0 49.8 390.2 50.3 390.5 50.9 390.8 51.4 391.0 51.9 391.3 52.4 391.6 53.0 391.9 53.5 392.3 54.0 392.8 54.6 393.4 55.1 394.0 55.6 394.7 56.2 395.5 56.7 396.3 57.2 397.1 57.8 398.0 58.3 398.8 58.8 399.6 59.4 400.4 59.9 401.1 60.4 401.8 61.0 402.4 61.5 402.9 61.9 403.3 62.6 336.3 62.9 269.1 63.6 272.1 64.3 277.5 64.9 281.2 65.4 284.9 66.0 288.8 66.5 292.9 67.1 296.9 67.6 301.1 68.1 305.3 68.7 309.6 69.2 314.0 69.8 318.3 70.3 322.7 70.9 327.0 71.4 331.4 72.0 335.7 72.5 340.0 73.1 344.3 73.6 348.7 74.2 353.2 74.7 357.8 75.3 362.3 75.8 366.8 76.4 371.3 77.0 375.8 77.5 380.2 78.1 384.5 78.6 388.6 79.2 392.7 79.7 396.3 80.2 399.8 80.7 403.1 81.3 406.4 81.8 409.7 82.3 413.0 82.8 416.4 83.4 420.1 83.9 423.9 84.4 429.4 85.0 435.9 85.6 441.4 86.2 443.6 86.7 442.6 87.3 439.8 87.9 435.9 88.5 431.5 89.1 427.1 89.6 423.4 90.2 420.1 90.8 416.4 91.4 412.8 91.9 409.3 92.5 406.4 93.1 404.2 93.7 402.9 94.2 402.3 94.8 401.8 95.3 401.3 95.9 400.9 96.4 400.5 97.0 400.1 97.6 399.9 98.1 399.6 98.7 399.5 99.2 399.4 100.3 399.4 101.3 399.4 102.4 399.5 103.4 399.7 104.0 399.7 104.5 399.8 105.0 399.9 105.5 400.0 106.1 400.1 107.1 400.2 108.2 400.3 109.2 400.4 110.3 400.4 110.9 400.3 111.4 400.2 112.0 400.1 112.6 399.9 113.1 399.7 113.7 399.5 114.3 399.3 114.8 399.1 115.4 398.8 115.9 398.6 116.5 398.3 117.1 398.1 117.6 397.8 118.1 397.6 118.7 397.4 119.2 397.2 119.7 397.0 120.3 396.7 120.8 396.5 121.3 396.2 121.9 395.9 122.4 395.6 122.9 395.3 123.5 394.9 124.0 394.5 124.5 394.0 125.1 393.5 125.6 393.0 126.1 392.4 126.7 391.7 127.2 391.0 127.7 390.2 128.3 389.4 129.0 384.8 129.8 380.9 130.9 381.0 131.5 381.0 132.0 381.1 132.5 381.2 133.1 381.4 133.6 381.5 134.2 381.7 134.7 381.9 135.3 382.0 135.8 382.2 136.3 382.4 136.9 382.6 137.4 382.8 138.0 383.0 138.5 383.2 139.1 383.4 139.6 383.6 140.2 383.7 140.7 383.9 141.2 384.1 141.8 384.2 142.3 384.3 142.9 384.4 143.4 384.4 144.5 384.5 145.6 384.4 146.1 384.2 146.6 384.0 147.2 383.7 147.7 383.4 148.3 383.1 148.8 382.7 149.3 382.3 149.9 381.9 150.4 381.4 150.9 381.0 151.5 380.5 152.0 380.0 152.6 379.6 153.1 379.1 153.6 378.7 154.2 378.2 154.7 377.8 155.2 377.5 155.8 377.1 156.3 376.8 156.9 376.6 157.4 376.3 157.9 376.2 158.5 376.1 159.6 376.1 160.7 376.2 161.2 376.2 161.8 376.3 162.3 376.4 162.9 376.6 163.4 376.7 164.0 376.8 164.5 377.0 165.1 377.2 165.6 377.3 166.2 377.5 166.7 377.7 167.3 377.9 167.9 378.0 168.4 378.2 169.0 378.4 169.5 378.5 170.0 378.7 170.6 378.9 171.1 379.1 171.6 379.3 172.2 379.5 172.7 379.7 173.3 379.9 173.8 380.2 174.3 380.4 174.9 380.7 175.4 380.9 175.9 381.2 176.5 381.4 177.0 381.7 177.6 381.9 178.1 382.2 178.6 382.4 179.2 382.7 179.7 382.9 180.2 383.2 180.8 383.4 181.3 383.6 181.8 383.9 182.4 384.1 182.9 384.3 183.5 384.5 184.0 384.7 184.5 384.9 185.1 385.1 185.6 385.3 186.1 385.6 186.7 385.8 187.2 386.0 187.7 386.2 188.3 386.5 188.8 386.7 189.3 386.9 189.9 387.1 190.4 387.3 190.9 387.5 191.5 387.8 192.0 388.0 192.6 388.2 193.1 388.4 193.6 388.6 194.2 388.8 194.7 388.9 195.2 389.1 195.8 389.3 196.3 389.4 196.8 389.6 197.4 389.7 197.9 389.9 198.4 390.0 199.0 390.1 199.5 390.2 200.0 390.3 200.6 390.4 201.6 390.5 202.7 390.7 203.7 390.8 204.8 391.0 205.8 391.1 206.9 391.2 207.9 391.3 209.0 391.4 210.0 391.5 211.1 391.6 212.1 391.6 213.2 391.7 214.2 391.7 215.3 391.7 216.3 391.6 217.4 391.5 218.5 391.4 219.0 391.3 219.5 391.2 220.1 391.1 220.6 391.0 221.2 390.9 221.7 390.8 222.2 390.6 222.8 390.5 223.3 390.4 223.8 390.2 224.4 390.1 224.9 390.0 225.4 389.8 226.0 389.7 226.5 389.5 227.0 389.4 227.6 389.2 228.1 389.1 228.6 388.9 229.2 388.8 229.7 388.6 230.2 388.5 230.8 388.3 231.3 388.2 231.9 388.1 232.4 388.0 232.9 387.8 233.5 387.7 234.0 387.5 234.6 387.3 235.1 387.2 235.6 387.0 236.2 386.8 236.7 386.6 237.3 386.4 237.8 386.3 238.3 386.1 238.9 385.9 239.4 385.7 240.0 385.5 240.5 385.3 241.0 385.2 241.6 385.0 242.1 384.8 242.7 384.7 243.2 384.5 243.8 384.4 244.3 384.3 244.8 384.1 245.4 384.0 245.9 384.0 246.5 383.9 247.0 383.8 248.1 383.7 249.2 383.7 250.3 383.8 251.3 383.8 252.4 383.8 253.5 383.9 254.6 383.9 255.7 384.0 256.8 384.0 257.9 384.1 258.9 384.1 260.0 384.2 261.1 384.2 262.2 384.2 263.3 384.2 264.3 384.2 265.4 384.1 265.9 384.0 266.4 383.9 267.0 383.7 267.5 383.6 268.0 383.5 268.5 383.3 269.1 383.2 269.6 383.0 270.1 382.9 270.6 382.7 271.2 382.6 271.7 382.5 272.2 382.3 272.7 382.2 273.3 382.1 273.8 382.1 274.8 382.0 275.9 381.9 277.0 381.9 278.1 381.9 279.2 381.9 280.2 381.9 281.3 381.9 282.4 381.9 283.5 381.9 284.6 381.9 285.7 381.9 286.8 381.9 287.8 381.9 288.9 381.9 290.0 381.9 290.5 381.9" fill="none" stroke="#000" stroke-width="2.6" stroke-dasharray="0.5,5.0" stroke-linecap="round"/></g><path d="M46.0,461.1v-2.6 M63.4,461.1v-2.6 M80.9,461.1v-2.6 M98.4,461.1v-2.6 M115.8,461.1v-2.6 M133.3,461.1v-2.6 M150.8,461.1v-2.6 M168.3,461.1v-2.6 M185.7,461.1v-2.6 M203.2,461.1v-2.6 M220.7,461.1v-2.6 M238.1,461.1v-2.6 M255.6,461.1v-2.6 M273.1,461.1v-2.6 M29.0,450.4h2.8 M29.0,437.6h2.8 M29.0,424.8h2.8 M29.0,411.9h2.8 M29.0,399.1h2.8 M29.0,386.3h2.8 M29.0,373.5h2.8 M29.0,360.7h2.8 M29.0,347.8h2.8 M29.0,335.0h2.8 M29.0,322.2h2.8 M29.0,309.4h2.8 M29.0,296.5h2.8 M29.0,283.7h2.8 M29.0,270.9h2.8" stroke="#a8a8a8" stroke-width="1" fill="none"/><text x="24.8" y="288.2" text-anchor="end" class="tl">4</text><text x="24.8" y="313.9" text-anchor="end" class="tl">3</text><text x="24.8" y="339.5" text-anchor="end" class="tl">2</text><text x="24.8" y="365.2" text-anchor="end" class="tl">1</text><text x="24.8" y="390.8" text-anchor="end" class="tl">0</text><text x="24.8" y="416.4" text-anchor="end" class="tl">-1</text><text x="24.8" y="442.1" text-anchor="end" class="tl">-2</text><text x="29.6" y="475.5" text-anchor="middle" class="tl">0</text><text x="64.5" y="475.5" text-anchor="middle" class="tl">2</text><text x="99.5" y="475.5" text-anchor="middle" class="tl">4</text><text x="134.4" y="475.5" text-anchor="middle" class="tl">6</text><text x="169.4" y="475.5" text-anchor="middle" class="tl">8</text><text x="205.1" y="475.5" text-anchor="middle" class="tl">10</text><text x="240.0" y="475.5" text-anchor="middle" class="tl">12</text><text x="275.0" y="475.5" text-anchor="middle" class="tl">14</text><text x="153.4" y="275.8" text-anchor="middle" class="ti">Site C</text><text x="150.0" y="489.6" text-anchor="middle" class="xl">Time (minutes)</text><clipPath id="clipD"><rect x="309.75" y="257.75" width="260.10" height="204.80"/></clipPath><rect x="309.75" y="257.75" width="260.10" height="204.80" fill="#383838" stroke="#000" stroke-width="1.5"/><g clip-path="url(#clipD)"><line x1="309.0" y1="373.0" x2="570.6" y2="373.0" stroke="#8a8a8a" stroke-width="0.8" stroke-dasharray="5,3"/><path d="M309.1 372.2 309.8 372.2 310.5 372.2 311.2 372.2 311.9 372.2 312.6 372.2 313.3 372.2 314.0 372.2 314.7 372.2 315.4 372.2 316.1 372.2 316.8 372.2 317.5 372.2 318.2 372.2 318.9 372.2 319.6 372.2 320.3 372.2 321.0 372.2 321.7 372.2 322.4 372.2 323.1 372.2 323.8 372.2 324.5 372.2 325.2 372.2 325.9 372.2 326.6 372.2 327.3 372.2 328.0 372.2 328.7 372.2 329.4 372.2 330.1 372.2 330.8 372.2 331.5 372.2 332.2 372.2 332.9 372.2 333.6 372.2 334.3 372.2 335.0 372.2 335.7 372.2 336.4 372.2 337.1 372.2 337.8 372.2 338.4 372.2 339.1 372.2 339.8 372.2 340.5 372.2 341.2 372.2 341.9 372.2 342.6 372.2 343.3 372.2 344.0 372.2 344.7 372.2 345.4 372.2 346.1 372.2 346.8 372.2 347.5 372.2 348.2 372.2 348.9 372.2 349.6 372.2 350.3 372.2 351.0 372.2 351.7 372.2 352.4 372.2 353.1 372.2 353.8 372.2 354.5 372.2 355.3 372.2 356.0 372.3 356.7 372.4 357.5 372.6 358.2 372.7 358.9 372.9 359.7 373.1 360.4 373.4 361.1 373.6 361.9 373.9 362.6 374.1 363.3 374.4 364.1 374.6 364.8 374.8 365.6 375.0 366.3 375.1 367.0 375.2 367.8 375.3 368.5 375.3 369.2 375.4 370.0 375.6 370.7 376.0 371.4 376.5 372.1 377.0 372.9 377.6 373.6 378.2 374.3 378.8 375.0 379.2 375.8 379.6 376.5 379.8 377.2 379.9 377.9 379.8 378.6 379.5 379.3 379.1 380.0 378.4 380.8 377.6 381.5 376.6 382.2 375.5 382.9 374.2 383.6 372.8 384.3 371.2 385.0 369.6 385.7 367.8 386.4 365.9 387.1 364.0 387.8 362.0 388.5 360.0 389.2 357.9 389.9 355.8 390.6 353.8 391.3 351.7 392.0 349.7 392.7 347.8 393.4 345.9 394.1 344.2 394.8 342.5 395.5 340.9 396.2 339.5 396.9 338.2 397.6 337.1 398.3 336.1 399.1 335.3 399.8 334.7 400.5 334.2 401.2 333.9 401.9 333.8 402.6 334.0 403.3 334.4 404.0 335.2 404.7 336.3 405.4 337.7 406.1 339.3 406.8 341.2 407.5 343.4 408.2 345.8 408.9 348.5 409.6 351.3 410.3 354.3 411.0 357.5 411.6 360.8 412.3 364.2 413.0 367.7 413.7 371.2 414.4 374.8 415.1 378.4 415.8 381.9 416.5 385.4 417.2 388.8 417.9 392.1 418.6 395.3 419.3 398.3 420.0 401.1 420.7 403.8 421.4 406.2 422.1 408.3 422.8 410.3 423.5 411.9 424.2 413.3 424.9 414.4 425.6 415.1 426.3 415.6 427.0 415.8 427.7 415.6 428.4 415.3 429.1 414.8 429.8 414.1 430.5 413.2 431.2 412.1 431.9 410.8 432.6 409.4 433.4 407.7 434.1 405.9 434.8 404.0 435.5 401.9 436.2 399.7 436.9 397.4 437.6 395.0 438.3 392.5 439.0 390.0 439.7 387.4 440.4 384.7 441.1 382.0 441.8 379.3 442.5 376.7 443.2 374.0 443.9 371.4 444.6 368.8 445.3 366.3 446.0 363.9 446.7 361.6 447.4 359.4 448.1 357.3 448.8 355.4 449.5 353.6 450.2 352.0 450.9 350.5 451.6 349.2 452.3 348.1 453.0 347.2 453.7 346.5 454.4 346.0 455.1 345.7 455.8 345.6 456.6 345.7 457.3 345.9 458.0 346.3 458.7 346.8 459.4 347.5 460.1 348.3 460.9 349.3 461.6 350.4 462.3 351.6 463.0 352.9 463.7 354.4 464.4 355.9 465.2 357.5 465.9 359.2 466.6 361.0 467.3 362.8 468.0 364.6 468.7 366.5 469.5 368.5 470.2 370.4 470.9 372.3 471.6 374.2 472.3 376.0 473.0 377.9 473.8 379.6 474.5 381.3 475.2 382.9 475.9 384.5 476.6 385.9 477.3 387.2 478.1 388.4 478.8 389.5 479.5 390.5 480.2 391.3 480.9 392.0 481.6 392.5 482.4 392.9 483.1 393.1 483.8 393.2 484.5 393.2 485.2 393.0 485.9 392.7 486.6 392.3 487.4 391.8 488.1 391.2 488.8 390.5 489.5 389.7 490.2 388.8 490.9 387.8 491.6 386.8 492.3 385.6 493.0 384.4 493.8 383.1 494.5 381.8 495.2 380.4 495.9 379.0 496.6 377.5 497.3 376.0 498.0 374.5 498.7 373.0 499.4 371.5 500.2 370.0 500.9 368.5 501.6 367.0 502.3 365.6 503.0 364.2 503.7 362.9 504.4 361.6 505.1 360.4 505.8 359.2 506.6 358.2 507.3 357.2 508.0 356.3 508.7 355.5 509.4 354.8 510.1 354.2 510.8 353.7 511.5 353.3 512.3 353.0 513.0 352.8 513.7 352.8 514.4 352.8 515.1 353.0 515.8 353.3 516.5 353.6 517.2 354.1 517.9 354.7 518.6 355.3 519.3 356.1 520.0 356.9 520.7 357.8 521.4 358.8 522.1 359.8 522.8 360.9 523.5 362.1 524.2 363.3 524.9 364.5 525.6 365.7 526.3 367.0 527.0 368.3 527.7 369.5 528.4 370.7 529.2 372.0 529.9 373.2 530.6 374.3 531.3 375.4 532.0 376.4 532.7 377.4 533.4 378.3 534.1 379.2 534.8 379.9 535.5 380.6 536.2 381.2 536.9 381.6 537.6 382.0 538.3 382.3 539.0 382.4 539.7 382.5 540.4 382.4 541.1 382.0 541.8 381.5 542.5 380.8 543.2 379.8 543.9 378.8 544.6 377.6 545.3 376.3 546.0 374.9 546.7 373.5 547.4 372.1 548.1 370.7 548.8 369.4 549.5 368.2 550.2 367.2 550.9 366.3 551.6 365.5 552.3 365.0 553.0 364.7 553.7 364.5 554.4 364.6 555.1 364.8 555.8 365.1 556.5 365.6 557.2 366.1 557.9 366.8 558.6 367.6 559.3 368.4 560.0 369.3 560.7 370.3 561.4 371.3 562.1 372.3 562.8 373.4 563.5 374.4 564.2 375.4 564.9 376.4 565.6 377.3 566.3 378.2 567.0 378.9 567.7 379.6 568.4 380.2 569.1 380.6 569.8 380.9 570.5 381.1 571.1 381.2" fill="none" stroke="#cd2f24" stroke-width="1.15" stroke-linejoin="round"/><path d="M309.1 372.2 309.8 372.2 310.5 372.2 311.2 372.2 311.9 372.2 312.6 372.2 313.3 372.2 314.0 372.2 314.7 372.2 315.4 372.2 316.1 372.2 316.8 372.2 317.5 372.2 318.2 372.2 318.9 372.2 319.6 372.2 320.3 372.2 321.0 372.2 321.7 372.2 322.4 372.2 323.1 372.2 323.8 372.2 324.5 372.2 325.2 372.2 325.9 372.2 326.6 372.2 327.3 372.2 328.0 372.2 328.7 372.2 329.4 372.2 330.1 372.2 330.8 372.2 331.5 372.2 332.2 372.2 332.9 372.2 333.6 372.2 334.3 372.2 335.0 372.2 335.7 372.2 336.4 372.2 337.1 372.2 337.8 372.2 338.4 372.2 339.1 372.2 339.8 372.2 340.5 372.2 341.2 372.2 341.9 372.2 342.6 372.2 343.3 372.2 344.0 372.2 344.7 372.2 345.4 372.2 346.1 372.2 346.8 372.2 347.5 372.2 348.2 372.2 348.9 372.2 349.6 372.2 350.3 372.2 351.0 372.2 351.7 372.2 352.4 372.2 353.1 372.2 353.8 372.2 354.5 372.2 355.3 372.2 356.0 372.3 356.7 372.4 357.5 372.6 358.2 372.7 358.9 372.9 359.7 373.1 360.4 373.4 361.1 373.6 361.9 373.9 362.6 374.1 363.3 374.4 364.1 374.6 364.8 374.8 365.6 375.0 366.3 375.1 367.0 375.2 367.8 375.3 368.5 375.3 369.2 375.4 370.0 375.6 370.7 376.0 371.4 376.5 372.1 377.0 372.9 377.6 373.6 378.2 374.3 378.8 375.0 379.2 375.8 379.6 376.5 379.8 377.2 379.9 377.9 379.8 378.6 379.5 379.3 379.1 380.0 378.4 380.8 377.6 381.5 376.6 382.2 375.4 382.9 374.1 383.6 372.6 384.3 371.0 385.0 369.3 385.7 367.5 386.4 365.6 387.1 363.6 387.8 361.6 388.5 359.5 389.2 357.4 389.9 355.3 390.6 353.2 391.3 351.1 392.0 349.1 392.7 347.1 393.4 345.2 394.1 343.4 394.8 341.7 395.5 340.1 396.2 338.6 396.9 337.3 397.6 336.1 398.3 335.1 399.1 334.3 399.8 333.7 400.5 333.2 401.2 332.9 401.9 332.8 402.6 332.9 403.3 333.3 404.0 333.9 404.7 334.8 405.4 335.9 406.1 337.3 406.8 338.9 407.5 340.7 408.2 342.7 408.9 344.9 409.6 347.3 410.3 349.9 411.0 352.6 411.6 355.5 412.3 358.4 413.0 361.5 413.7 364.7 414.4 367.9 415.1 371.2 415.8 374.5 416.5 377.9 417.2 381.2 417.9 384.5 418.6 387.7 419.3 390.9 420.0 393.9 420.7 396.9 421.4 399.8 422.1 402.5 422.8 405.1 423.5 407.5 424.2 409.7 424.9 411.7 425.6 413.5 426.3 415.1 427.0 416.4 427.7 417.6 428.4 418.4 429.1 419.1 429.8 419.5 430.5 419.6 431.2 419.4 431.9 418.7 432.6 417.6 433.3 416.1 434.1 414.3 434.8 412.1 435.5 409.7 436.2 407.0 436.9 404.2 437.6 401.2 438.3 398.3 439.0 395.3 439.7 392.5 440.4 389.8 441.1 387.4 441.8 385.2 442.5 383.4 443.2 381.9 444.0 380.8 444.7 380.1 445.4 379.9 446.1 380.0 446.8 380.2 447.5 380.5 448.2 380.9 449.0 381.4 449.7 382.0 450.4 382.7 451.1 383.4 451.8 384.1 452.6 384.8 453.3 385.5 454.0 386.1 454.7 386.6 455.4 387.0 456.2 387.3 456.9 387.5 457.6 387.6 458.3 387.4 459.0 386.6 459.7 385.5 460.4 383.9 461.1 382.0 461.8 379.7 462.5 377.1 463.2 374.3 463.9 371.4 464.6 368.4 465.3 365.4 466.0 362.5 466.7 359.7 467.4 357.1 468.1 354.8 468.8 352.9 469.5 351.3 470.2 350.1 470.9 349.4 471.6 349.2 472.3 349.3 473.0 349.7 473.7 350.3 474.4 351.2 475.1 352.3 475.8 353.7 476.5 355.2 477.3 356.9 478.0 358.8 478.7 360.8 479.4 363.0 480.1 365.2 480.8 367.5 481.5 369.9 482.2 372.3 482.9 374.6 483.7 376.9 484.4 379.2 485.1 381.3 485.8 383.4 486.5 385.2 487.2 387.0 487.9 388.5 488.6 389.8 489.3 390.9 490.1 391.8 490.8 392.5 491.5 392.8 492.2 393.0 492.9 393.0 493.7 393.0 494.4 393.0 495.2 393.0 495.9 393.0 496.7 393.0 497.4 393.0 498.2 393.0 498.9 393.0 499.7 393.0 500.4 393.0 501.2 393.0 501.9 393.0 502.7 393.0 503.4 392.9 504.1 392.7 504.8 392.3 505.5 391.8 506.2 391.2 506.9 390.4 507.6 389.5 508.3 388.4 509.0 387.3 509.7 386.1 510.4 384.7 511.1 383.3 511.8 381.9 512.5 380.3 513.1 378.7 513.8 377.1 514.5 375.5 515.2 373.8 515.9 372.2 516.6 370.6 517.3 369.0 518.0 367.5 518.7 366.0 519.4 364.6 520.1 363.2 520.8 362.0 521.5 360.9 522.2 359.9 522.9 358.9 523.6 358.2 524.3 357.5 525.0 357.0 525.7 356.6 526.4 356.4 527.1 356.4 527.8 356.4 528.6 356.6 529.3 356.9 530.0 357.3 530.7 357.9 531.4 358.5 532.1 359.2 532.8 360.0 533.5 360.9 534.3 361.8 535.0 362.8 535.7 363.8 536.4 364.8 537.1 365.8 537.8 366.7 538.5 367.7 539.2 368.5 540.0 369.4 540.7 370.1 541.4 370.7 542.1 371.2 542.8 371.7 543.5 372.0 544.2 372.2 544.9 372.2 545.7 372.2 546.4 372.1 547.1 371.8 547.8 371.6 548.5 371.2 549.3 370.8 550.0 370.4 550.7 369.9 551.4 369.4 552.1 369.0 552.9 368.5 553.6 368.1 554.3 367.8 555.0 367.5 555.7 367.3 556.5 367.2 557.2 367.1 557.9 367.2 558.6 367.4 559.3 367.8 560.0 368.4 560.7 369.1 561.4 369.9 562.1 370.8 562.8 371.8 563.5 372.8 564.2 373.9 564.9 375.0 565.6 376.0 566.3 377.0 567.0 377.9 567.7 378.7 568.4 379.4 569.1 379.9 569.8 380.3 570.5 380.6 571.1 380.7" fill="none" stroke="#e06943" stroke-width="1.15" stroke-linejoin="round"/><path d="M309.1 372.2 309.8 372.2 310.5 372.2 311.2 372.2 311.9 372.2 312.6 372.2 313.3 372.2 314.0 372.2 314.7 372.2 315.4 372.2 316.1 372.2 316.8 372.2 317.5 372.2 318.2 372.2 318.9 372.2 319.6 372.2 320.3 372.2 321.0 372.2 321.7 372.2 322.4 372.2 323.1 372.2 323.8 372.2 324.5 372.2 325.2 372.2 325.9 372.2 326.6 372.2 327.3 372.2 328.0 372.2 328.7 372.2 329.4 372.2 330.1 372.2 330.8 372.2 331.5 372.2 332.2 372.2 332.9 372.2 333.6 372.2 334.3 372.2 335.0 372.2 335.7 372.2 336.4 372.2 337.1 372.2 337.8 372.2 338.4 372.2 339.1 372.2 339.8 372.2 340.5 372.2 341.2 372.2 341.9 372.2 342.6 372.2 343.3 372.2 344.0 372.2 344.7 372.2 345.4 372.2 346.1 372.2 346.8 372.2 347.5 372.2 348.2 372.2 348.9 372.2 349.6 372.2 350.3 372.2 351.0 372.2 351.7 372.2 352.4 372.2 353.1 372.2 353.8 372.2 354.5 372.2 355.3 372.2 356.0 372.3 356.7 372.4 357.5 372.6 358.2 372.7 358.9 372.9 359.7 373.1 360.4 373.4 361.1 373.6 361.9 373.9 362.6 374.1 363.3 374.4 364.1 374.6 364.8 374.8 365.6 375.0 366.3 375.1 367.0 375.2 367.8 375.3 368.5 375.3 369.2 375.3 369.9 375.4 370.6 375.5 371.3 375.6 372.0 375.8 372.7 376.0 373.4 376.2 374.1 376.4 374.8 376.6 375.5 376.8 376.2 377.0 376.9 377.2 377.6 377.3 378.3 377.3 379.0 377.3 379.7 376.2 380.5 372.7 381.2 367.2 381.9 360.1 382.7 351.7 383.4 342.8 384.2 333.8 384.9 325.5 385.7 318.3 386.4 312.9 387.1 309.4 387.9 308.2 388.6 308.9 389.3 310.9 390.1 314.2 390.8 318.7 391.5 324.4 392.2 331.1 392.9 338.7 393.7 347.1 394.4 356.2 395.1 365.6 395.8 375.4 396.5 385.2 397.3 395.0 398.0 404.4 398.7 413.4 399.4 421.9 400.2 429.5 400.9 436.2 401.6 441.9 402.3 446.4 403.0 449.7 403.8 451.7 404.5 452.4 405.2 451.6 405.9 449.4 406.7 445.8 407.4 440.9 408.1 435.0 408.9 428.1 409.6 420.6 410.3 412.6 411.1 404.5 411.8 396.6 412.5 389.1 413.2 382.2 414.0 376.2 414.7 371.4 415.4 367.8 416.2 365.5 416.9 364.8 417.6 365.1 418.4 366.1 419.1 367.7 419.8 369.8 420.6 372.4 421.3 375.3 422.0 378.4 422.8 381.6 423.5 384.7 424.2 387.7 425.0 390.2 425.7 392.4 426.4 394.0 427.2 394.9 427.9 395.3 428.6 395.0 429.3 394.2 430.0 392.8 430.8 391.0 431.5 388.7 432.2 386.0 432.9 383.0 433.6 379.8 434.3 376.4 435.1 372.9 435.8 369.4 436.5 365.9 437.2 362.7 437.9 359.7 438.6 357.0 439.4 354.7 440.1 352.9 440.8 351.6 441.5 350.7 442.2 350.5 442.9 350.7 443.7 351.4 444.4 352.4 445.1 353.9 445.8 355.8 446.5 357.9 447.2 360.3 448.0 362.8 448.7 365.5 449.4 368.2 450.1 370.9 450.8 373.4 451.5 375.8 452.3 377.9 453.0 379.8 453.7 381.3 454.4 382.3 455.1 383.0 455.8 383.2 456.6 383.0 457.3 382.1 458.0 380.8 458.7 378.9 459.5 376.6 460.2 373.9 460.9 370.9 461.6 367.7 462.4 364.2 463.1 360.7 463.8 357.2 464.5 353.7 465.3 350.5 466.0 347.5 466.7 344.8 467.4 342.5 468.2 340.6 468.9 339.3 469.6 338.5 470.3 338.2 471.1 338.7 471.8 340.3 472.5 342.8 473.2 346.2 473.9 350.3 474.6 354.8 475.3 359.6 476.0 364.3 476.7 368.8 477.5 372.9 478.2 376.3 478.9 378.8 479.6 380.4 480.3 380.9 481.0 380.8 481.7 380.3 482.4 379.5 483.1 378.4 483.8 377.0 484.6 375.4 485.3 373.7 486.0 371.8 486.7 369.8 487.4 367.8 488.1 365.8 488.8 363.9 489.5 362.1 490.2 360.5 490.9 359.2 491.6 358.1 492.3 357.3 493.0 356.8 493.8 356.6 494.5 357.2 495.3 358.8 496.0 361.4 496.8 364.7 497.5 368.3 498.3 371.9 499.0 375.1 499.8 377.7 500.5 379.3 501.3 379.9 502.0 378.7 502.8 375.5 503.5 370.8 504.3 365.5 505.0 360.8 505.8 357.5 506.5 356.4 507.3 356.9 508.0 358.7 508.7 361.4 509.5 365.0 510.2 369.3 510.9 374.0 511.7 378.9 512.4 383.6 513.2 387.9 513.9 391.5 514.6 394.2 515.4 396.0 516.1 396.5 516.8 395.8 517.5 393.8 518.3 390.5 519.0 386.2 519.7 381.3 520.4 375.9 521.1 370.6 521.8 365.6 522.5 361.4 523.3 358.1 524.0 356.0 524.7 355.3 525.4 355.7 526.1 356.6 526.8 358.2 527.5 360.3 528.2 362.9 528.9 365.7 529.6 368.6 530.3 371.6 531.0 374.4 531.7 376.9 532.4 379.1 533.1 380.6 533.8 381.6 534.5 382.0 535.2 381.7 536.0 381.1 536.7 380.1 537.5 378.7 538.2 377.0 539.0 375.2 539.7 373.3 540.5 371.3 541.2 369.5 542.0 367.8 542.7 366.4 543.4 365.4 544.2 364.8 544.9 364.5 545.6 364.7 546.3 365.3 547.0 366.1 547.7 367.3 548.4 368.7 549.1 370.4 549.8 372.2 550.5 374.2 551.2 376.2 551.9 378.2 552.6 380.2 553.3 382.0 554.0 383.7 554.7 385.1 555.4 386.3 556.1 387.1 556.8 387.7 557.5 387.8 558.2 387.6 559.0 386.7 559.7 385.3 560.4 383.4 561.1 381.2 561.9 378.6 562.6 375.9 563.3 373.1 564.0 370.4 564.7 367.9 565.5 365.6 566.2 363.8 566.9 362.4 567.6 361.5 568.4 361.2 569.1 361.7 569.8 362.9 570.5 364.1 571.1 364.5" fill="none" stroke="#f5a24e" stroke-width="1.15" stroke-linejoin="round"/><path d="M309.1 372.2 309.8 372.2 310.5 372.2 311.2 372.2 311.9 372.2 312.6 372.2 313.3 372.2 314.0 372.2 314.7 372.2 315.4 372.2 316.1 372.2 316.8 372.2 317.5 372.2 318.2 372.2 318.9 372.2 319.6 372.2 320.3 372.2 321.0 372.2 321.7 372.2 322.4 372.2 323.1 372.2 323.8 372.2 324.5 372.2 325.2 372.2 325.9 372.2 326.6 372.2 327.3 372.2 328.0 372.2 328.7 372.2 329.4 372.2 330.1 372.2 330.8 372.2 331.5 372.2 332.2 372.2 332.9 372.2 333.6 372.2 334.3 372.2 335.0 372.2 335.7 372.2 336.4 372.2 337.1 372.2 337.8 372.2 338.4 372.2 339.1 372.2 339.8 372.2 340.5 372.2 341.2 372.2 341.9 372.2 342.6 372.2 343.3 372.2 344.0 372.2 344.7 372.2 345.4 372.2 346.1 372.2 346.8 372.2 347.5 372.2 348.2 372.2 348.9 372.2 349.6 372.2 350.3 372.2 351.0 372.2 351.7 372.2 352.4 372.2 353.1 372.2 353.8 372.2 354.5 372.2 355.3 372.2 356.0 372.3 356.7 372.4 357.5 372.6 358.2 372.7 358.9 372.9 359.7 373.1 360.4 373.4 361.1 373.6 361.9 373.9 362.6 374.1 363.3 374.4 364.1 374.6 364.8 374.8 365.6 375.0 366.3 375.1 367.0 375.2 367.8 375.3 368.5 375.3 369.2 375.4 369.9 375.5 370.6 375.7 371.3 376.1 372.0 376.5 372.7 376.9 373.4 377.4 374.1 377.8 374.8 378.3 375.5 378.8 376.2 379.1 376.9 379.5 377.6 379.7 378.3 379.9 379.0 379.9 379.7 379.0 380.4 376.3 381.1 372.0 381.8 366.4 382.6 360.1 383.3 353.6 384.0 347.3 384.7 341.8 385.4 337.5 386.1 334.8 386.8 333.8 387.6 331.9 388.3 326.6 389.1 318.9 389.8 310.4 390.6 302.7 391.3 297.3 392.1 295.4 392.8 296.3 393.5 298.9 394.3 303.1 395.0 308.9 395.7 316.0 396.5 324.2 397.2 333.3 397.9 343.0 398.6 353.0 399.4 363.0 400.1 372.7 400.8 381.8 401.5 390.1 402.3 397.2 403.0 402.9 403.7 407.2 404.5 409.8 405.2 410.6 405.9 412.4 406.7 417.4 407.4 424.6 408.2 432.5 408.9 439.7 409.7 444.7 410.4 446.5 411.2 445.6 411.9 443.2 412.6 439.3 413.3 434.3 414.1 428.4 414.8 422.2 415.5 415.9 416.2 410.0 417.0 405.0 417.7 401.1 418.4 398.7 419.2 397.8 419.9 397.2 420.6 395.4 421.3 392.6 422.0 389.0 422.7 385.0 423.4 381.1 424.1 377.5 424.8 374.7 425.5 372.9 426.1 372.2 426.9 372.5 427.6 373.4 428.3 374.9 429.1 376.7 429.8 378.9 430.5 381.2 431.2 383.5 432.0 385.7 432.7 387.5 433.4 388.9 434.2 389.8 434.9 390.1 435.6 389.7 436.3 388.3 437.1 386.0 437.8 383.1 438.5 379.7 439.3 376.1 440.0 372.4 440.7 369.0 441.4 366.1 442.2 363.9 442.9 362.5 443.6 362.0 444.3 362.3 445.1 363.2 445.8 364.6 446.5 366.5 447.3 368.6 448.0 370.9 448.7 373.3 449.4 375.4 450.2 377.3 450.9 378.7 451.6 379.6 452.4 379.9 453.1 379.7 453.8 379.0 454.5 378.0 455.2 376.6 456.0 374.8 456.7 372.8 457.4 370.6 458.1 368.3 458.8 365.9 459.5 363.6 460.3 361.4 461.0 359.4 461.7 357.6 462.4 356.2 463.1 355.2 463.9 354.5 464.6 354.3 465.3 354.7 466.1 355.8 466.8 357.7 467.6 360.1 468.3 363.0 469.1 366.2 469.8 369.7 470.6 373.1 471.3 376.3 472.1 379.2 472.8 381.7 473.6 383.5 474.3 384.6 475.1 385.0 475.8 384.7 476.6 383.9 477.3 382.5 478.1 380.7 478.8 378.5 479.6 376.1 480.3 373.5 481.1 370.9 481.8 368.5 482.6 366.3 483.3 364.5 484.0 363.1 484.8 362.3 485.5 362.0 486.3 362.1 487.0 362.6 487.8 363.4 488.5 364.4 489.3 365.6 490.0 367.0 490.8 368.4 491.5 369.8 492.3 371.2 493.0 372.4 493.8 373.4 494.5 374.2 495.3 374.6 496.0 374.8 496.7 374.7 497.4 374.3 498.1 373.8 498.8 373.1 499.5 372.2 500.2 371.3 500.9 370.2 501.6 369.1 502.3 368.1 503.0 367.1 503.7 366.2 504.4 365.5 505.1 365.0 505.8 364.7 506.5 364.5 507.2 364.7 507.9 365.2 508.7 366.1 509.4 367.2 510.1 368.6 510.8 370.2 511.5 372.0 512.3 373.8 513.0 375.7 513.7 377.6 514.4 379.4 515.1 381.0 515.9 382.4 516.6 383.5 517.3 384.3 518.0 384.9 518.7 385.0 519.5 384.7 520.2 383.8 521.0 382.2 521.7 380.2 522.5 377.8 523.2 375.1 524.0 372.2 524.7 369.4 525.5 366.7 526.2 364.2 527.0 362.2 527.7 360.7 528.5 359.7 529.2 359.4 530.0 359.7 530.7 360.3 531.5 361.4 532.2 362.8 533.0 364.5 533.7 366.4 534.5 368.4 535.2 370.4 536.0 372.3 536.7 374.0 537.5 375.4 538.2 376.5 539.0 377.1 539.7 377.3 540.4 377.2 541.1 376.8 541.8 376.1 542.5 375.2 543.2 374.1 543.9 372.9 544.6 371.6 545.3 370.3 546.0 369.0 546.7 367.7 547.4 366.7 548.1 365.8 548.8 365.1 549.5 364.7 550.2 364.5 550.9 364.6 551.7 364.8 552.4 365.0 553.1 365.4 553.9 365.8 554.6 366.3 555.3 366.8 556.1 367.4 556.8 368.1 557.5 368.7 558.3 369.3 559.0 369.9 559.7 370.5 560.5 371.0 561.2 371.4 562.0 371.8 562.7 372.0 563.4 372.2 564.2 372.2 564.9 372.0 565.6 371.3 566.3 370.1 567.0 368.7 567.7 367.1 568.4 365.5 569.1 364.1 569.8 363.0 570.5 362.2 571.1 362.0" fill="none" stroke="#fbd27a" stroke-width="1.15" stroke-linejoin="round"/><path d="M309.1 372.2 310.2 372.2 311.2 372.2 312.3 372.2 313.3 372.2 314.4 372.2 315.4 372.2 316.5 372.2 317.6 372.2 318.6 372.2 319.7 372.2 320.7 372.2 321.8 372.2 322.8 372.2 323.9 372.2 324.9 372.2 326.0 372.2 327.1 372.2 328.1 372.2 329.2 372.2 330.2 372.2 331.3 372.2 332.3 372.2 333.4 372.2 334.5 372.2 335.5 372.2 336.6 372.2 337.6 372.2 338.7 372.2 339.7 372.2 340.8 372.2 341.8 372.2 342.9 372.2 344.0 372.2 345.0 372.2 346.1 372.2 347.1 372.2 348.2 372.2 349.2 372.2 350.3 372.2 351.4 372.2 352.4 372.2 353.5 372.2 354.5 372.2 355.6 372.3 356.7 372.3 357.7 372.4 358.3 372.5 358.8 372.6 359.4 372.7 359.9 372.8 360.4 372.9 361.0 373.0 361.5 373.2 362.0 373.3 362.6 373.4 363.1 373.6 363.7 373.7 364.2 373.9 364.7 374.1 365.3 374.2 365.8 374.4 366.3 374.6 366.9 374.8 367.4 374.9 368.0 375.1 368.5 375.3 369.0 375.5 369.5 375.8 370.1 376.1 370.6 376.5 371.1 376.9 371.6 377.4 372.2 377.8 372.7 378.3 373.2 378.8 373.7 379.3 374.3 379.8 374.8 380.3 375.3 380.7 375.8 381.1 376.4 381.5 376.9 381.8 377.4 382.1 377.9 382.3 378.5 382.4 379.6 382.1 380.1 380.9 380.7 379.0 381.3 376.6 381.9 373.8 382.5 370.5 383.1 367.0 383.6 363.2 384.2 359.4 384.8 354.7 385.3 348.2 385.9 340.5 386.4 332.2 387.0 324.0 387.5 316.4 388.0 310.1 388.6 305.7 389.1 302.5 389.6 299.6 390.2 297.5 390.7 296.7 391.3 297.5 391.8 299.7 392.4 302.9 393.0 307.0 393.6 311.5 394.1 316.3 394.7 321.0 395.3 326.4 395.9 333.0 396.5 340.6 397.0 348.6 397.6 356.9 398.2 365.0 398.8 372.7 399.4 379.4 399.9 385.0 400.5 389.8 401.1 394.2 401.7 398.4 402.3 402.3 402.9 406.0 403.4 409.4 404.0 412.6 404.6 415.6 405.2 418.3 405.7 420.8 406.3 423.5 406.8 426.0 407.4 428.4 407.9 430.5 408.5 432.2 409.0 433.3 409.6 433.7 410.1 432.7 410.6 430.1 411.2 426.2 411.7 421.5 412.3 416.4 412.8 411.3 413.4 406.7 413.9 402.9 414.5 399.5 415.1 396.0 415.7 392.6 416.2 389.2 416.8 386.1 417.4 383.3 418.0 380.8 418.6 378.8 419.2 377.3 419.7 376.2 420.3 375.2 420.9 374.2 421.5 373.3 422.1 372.5 422.7 371.8 423.2 371.4 423.8 371.1 424.4 370.9 424.9 371.1 425.5 371.7 426.0 372.5 426.6 373.5 427.1 374.7 427.6 376.0 428.2 377.4 428.7 378.7 429.2 379.9 429.8 380.9 430.3 381.7 430.9 382.3 431.4 382.5 431.9 382.2 432.5 381.5 433.0 380.3 433.6 378.9 434.1 377.1 434.7 375.2 435.2 373.1 435.8 370.9 436.3 368.8 436.8 366.7 437.4 364.8 437.9 363.0 438.5 361.6 439.0 360.4 439.6 359.7 440.1 359.4 440.7 359.5 441.2 359.7 441.8 360.1 442.3 360.6 442.9 361.2 443.4 361.9 443.9 362.6 444.5 363.5 445.0 364.3 445.6 365.1 446.1 366.0 446.7 366.8 447.2 367.6 447.8 368.4 448.3 369.1 448.9 369.7 449.4 370.2 450.0 370.8 450.5 371.5 451.0 372.1 451.6 372.7 452.1 373.4 452.7 374.0 453.2 374.6 453.8 375.2 454.3 375.7 454.9 376.2 455.4 376.6 456.0 376.9 456.5 377.1 457.0 377.3 457.6 377.3 458.1 377.2 458.7 376.9 459.2 376.4 459.8 375.7 460.3 375.0 460.9 374.1 461.4 373.2 462.0 372.2 462.5 371.3 463.1 370.3 463.6 369.5 464.1 368.7 464.7 368.1 465.2 367.5 465.8 367.2 466.3 367.1 466.9 367.2 467.4 367.4 468.0 367.8 468.5 368.3 469.1 368.9 469.6 369.5 470.2 370.2 470.7 370.9 471.2 371.7 471.8 372.4 472.3 373.0 472.9 373.6 473.4 374.1 474.0 374.5 474.5 374.7 475.1 374.8 475.6 374.7 476.2 374.3 476.7 373.8 477.2 373.2 477.8 372.4 478.3 371.5 478.9 370.6 479.4 369.7 480.0 368.7 480.5 367.8 481.1 366.9 481.6 366.1 482.2 365.5 482.7 365.0 483.3 364.7 483.8 364.5 484.9 364.7 485.5 364.9 486.0 365.1 486.6 365.4 487.1 365.8 487.7 366.1 488.2 366.5 488.8 366.9 489.3 367.3 489.9 367.7 490.4 368.1 491.0 368.5 491.5 368.8 492.1 369.1 492.6 369.3 493.2 369.5 493.7 369.6 494.8 369.6 495.4 369.5 495.9 369.3 496.5 369.1 497.0 368.8 497.6 368.5 498.1 368.1 498.7 367.7 499.2 367.3 499.8 366.9 500.4 366.5 500.9 366.1 501.5 365.8 502.0 365.4 502.6 365.1 503.1 364.9 503.7 364.7 504.2 364.6 505.3 364.7 505.8 365.0 506.3 365.5 506.9 366.1 507.4 366.9 507.9 367.9 508.4 368.9 509.0 370.0 509.5 371.1 510.0 372.2 510.5 373.4 511.1 374.5 511.6 375.6 512.1 376.6 512.6 377.5 513.1 378.3 513.7 379.0 514.2 379.5 514.7 379.8 515.2 379.9 515.8 379.8 516.3 379.5 516.9 379.1 517.5 378.4 518.0 377.7 518.6 376.9 519.1 376.0 519.7 375.0 520.2 374.0 520.8 373.0 521.3 372.0 521.9 371.0 522.4 370.1 523.0 369.3 523.5 368.6 524.1 368.0 524.6 367.5 525.2 367.2 525.7 367.1 526.3 367.2 526.8 367.4 527.4 367.8 527.9 368.3 528.5 368.9 529.0 369.5 529.6 370.3 530.1 371.0 530.7 371.8 531.2 372.6 531.8 373.4 532.3 374.2 532.9 374.9 533.5 375.6 534.0 376.2 534.6 376.7 535.1 377.0 535.7 377.3 536.2 377.3 536.8 377.2 537.3 376.9 537.9 376.3 538.4 375.6 539.0 374.7 539.5 373.7 540.1 372.6 540.6 371.5 541.2 370.3 541.7 369.1 542.3 367.9 542.8 366.7 543.4 365.6 543.9 364.6 544.5 363.7 545.0 363.0 545.6 362.5 546.1 362.1 546.7 362.0 547.2 362.0 547.8 362.2 548.3 362.5 548.9 362.9 549.5 363.3 550.0 363.8 550.6 364.3 551.1 364.9 551.7 365.5 552.2 366.1 552.8 366.7 553.3 367.3 553.9 367.9 554.4 368.4 555.0 368.8 555.5 369.2 556.1 369.4 556.6 369.6 557.2 369.7 558.2 369.6 558.8 369.5 559.3 369.4 559.9 369.3 560.4 369.2 560.9 369.0 561.5 368.8 562.0 368.7 562.5 368.4 563.1 368.2 563.6 368.0 564.2 367.7 564.7 367.5 565.2 367.2 565.8 367.0 566.3 366.7 566.8 366.5 567.4 366.2 567.9 365.9 568.5 365.7 569.0 365.4 569.5 365.2 570.1 365.0 570.6 364.8 571.1 364.5" fill="none" stroke="#fdf5bd" stroke-width="1.15" stroke-linejoin="round"/><path d="M309.1 372.2 310.2 372.2 311.2 372.2 312.3 372.2 313.3 372.2 314.4 372.3 315.4 372.3 316.5 372.3 317.5 372.3 318.6 372.3 319.6 372.3 320.7 372.3 321.7 372.3 322.8 372.3 323.8 372.3 324.9 372.3 325.9 372.3 327.0 372.3 328.0 372.3 329.1 372.3 330.1 372.3 331.2 372.3 332.3 372.3 333.3 372.3 334.4 372.3 335.4 372.3 336.5 372.3 337.5 372.3 338.6 372.3 339.6 372.4 340.7 372.4 341.7 372.4 342.8 372.4 343.8 372.4 344.9 372.4 345.9 372.4 347.0 372.4 348.0 372.4 349.1 372.4 350.1 372.4 351.2 372.5 352.2 372.5 353.3 372.5 354.4 372.6 355.5 372.6 356.1 372.7 356.6 372.8 357.1 372.8 357.7 372.9 358.2 373.0 358.8 373.1 359.3 373.1 359.9 373.2 360.4 373.3 361.0 373.4 361.5 373.5 362.0 373.6 362.6 373.7 363.1 373.8 363.7 374.0 364.2 374.1 364.7 374.3 365.3 374.4 365.8 374.6 366.3 374.8 366.9 375.0 367.4 375.2 367.9 375.4 368.5 375.6 369.0 375.8 369.6 376.1 370.2 376.3 370.7 376.6 371.3 376.9 371.9 377.2 372.4 377.6 373.0 377.9 373.6 378.3 374.1 378.7 374.7 379.1 375.3 379.5 375.8 379.9 376.4 380.4 376.9 381.0 377.5 381.6 378.1 382.3 378.6 383.1 379.2 383.8 379.7 384.4 380.3 385.0 380.8 385.4 381.4 385.7 381.9 385.8 382.6 330.4 383.3 274.9 383.3 270.9 383.2 266.0 383.8 273.9 384.5 277.0 385.1 280.1 385.6 283.6 386.2 286.8 386.7 289.8 387.2 292.5 387.8 295.1 388.3 297.7 388.8 300.1 389.4 302.7 389.9 305.3 390.4 308.0 391.0 311.0 391.5 314.2 392.0 317.8 392.6 321.7 393.1 326.1 393.6 331.0 394.2 336.5 394.7 342.5 395.2 355.6 395.8 367.1 396.3 370.2 396.9 372.6 397.4 374.6 398.0 376.2 398.5 377.5 399.1 378.5 399.6 379.4 400.2 380.3 400.7 381.2 401.3 382.2 401.8 383.4 402.4 384.9 402.9 386.8 403.4 389.1 404.0 391.7 404.5 394.6 405.0 397.8 405.5 401.3 406.1 404.8 406.6 408.5 407.1 412.3 407.6 416.0 408.2 419.6 408.7 423.2 409.2 426.5 409.8 430.9 410.4 435.8 411.0 439.7 411.6 441.4 412.3 431.9 412.9 413.6 413.6 401.4 414.1 398.0 414.7 395.1 415.2 392.8 415.7 391.0 416.3 389.6 416.8 388.3 417.4 387.1 417.9 386.0 418.5 385.1 419.0 384.5 419.5 384.0 420.1 383.7 420.6 383.4 421.2 382.8 421.7 382.1 422.2 381.2 422.8 380.3 423.3 379.9 424.4 380.1 424.9 380.4 425.5 380.5 426.0 380.3 426.5 379.6 427.1 378.8 427.6 378.1 428.1 377.7 428.7 377.9 429.2 378.6 429.7 379.4 430.3 379.9 430.8 379.7 431.3 378.6 431.9 376.6 432.4 374.1 432.9 371.7 433.5 369.9 434.0 369.0 435.1 369.7 435.6 370.3 436.1 370.4 436.7 369.6 437.2 367.9 437.7 365.7 438.3 363.5 438.8 362.1 439.3 361.8 439.9 362.7 440.4 364.5 440.9 366.5 441.5 368.1 442.0 368.9 442.6 368.5 443.1 367.2 443.6 365.5 444.2 363.9 444.7 363.0 445.3 363.1 445.9 363.9 446.4 364.9 447.0 365.4 447.6 365.0 448.1 363.7 448.7 361.8 449.3 359.8 449.8 358.3 450.4 357.7 451.0 357.9 451.5 358.8 452.1 360.0 452.6 361.1 453.2 362.0 453.7 362.6 454.3 363.1 454.8 363.8 455.4 364.8 455.9 366.1 456.5 367.5 457.0 368.7 457.6 369.6 458.1 369.9 459.2 370.0 459.7 370.1 460.3 370.5 460.8 371.0 461.3 371.6 461.9 371.9 462.4 371.8 462.9 371.1 463.5 370.1 464.0 369.2 464.5 368.8 465.1 369.2 465.6 370.5 466.1 372.4 466.7 374.6 467.2 376.4 467.7 377.6 468.3 377.8 468.8 377.5 469.3 377.0 469.9 376.9 470.4 377.6 470.9 379.2 471.5 381.5 472.0 383.9 472.5 385.9 473.1 386.8 473.6 386.4 474.1 384.9 474.7 382.9 475.2 380.9 475.8 379.6 476.3 379.3 476.8 380.0 477.3 381.3 477.9 382.5 478.4 383.2 478.9 383.1 479.4 382.1 480.0 380.6 480.5 379.2 481.0 378.2 481.5 378.1 482.1 378.9 482.6 380.3 483.1 381.9 483.6 383.2 484.1 383.7 484.7 383.4 485.2 382.2 485.8 380.4 486.3 378.3 486.9 376.4 487.4 374.8 488.0 373.4 488.5 372.0 489.1 370.4 489.6 368.6 490.2 366.6 490.7 364.7 491.3 363.3 491.8 362.7 492.9 362.8 493.4 363.0 494.0 363.2 495.0 363.0 496.1 363.3 496.6 364.2 497.2 365.4 497.7 366.8 498.2 367.8 498.8 368.3 499.3 367.9 499.8 366.9 500.4 365.4 500.9 364.0 501.4 363.1 502.0 362.9 502.5 363.5 503.1 364.3 503.6 365.0 504.7 364.1 505.2 362.3 505.8 360.2 506.3 358.4 506.9 357.6 507.4 358.0 508.0 359.6 508.5 361.8 509.1 364.0 509.6 365.5 510.1 365.9 510.7 365.3 511.2 364.0 511.8 362.8 512.3 362.3 512.8 362.7 513.4 364.2 513.9 366.2 514.4 368.2 515.0 369.7 515.5 370.2 516.0 369.7 516.6 368.6 517.1 367.2 517.6 366.2 518.2 366.0 518.7 366.5 519.2 367.6 519.8 369.0 520.3 370.1 520.8 370.6 521.4 370.5 521.9 369.9 522.4 369.1 522.9 368.4 523.5 368.0 524.0 367.9 524.5 368.0 525.6 367.8 526.1 367.2 526.6 366.4 527.1 365.4 527.6 364.5 528.2 363.9 528.7 363.5 529.2 363.4 529.7 363.3 530.3 363.0 530.8 362.5 531.3 361.8 531.8 361.2 532.4 360.9 532.9 361.4 533.4 362.5 533.9 364.2 534.5 366.2 535.0 367.9 535.5 369.1 536.0 369.5 536.6 369.2 537.1 368.6 537.6 368.1 538.7 368.8 539.2 370.0 539.7 371.3 540.3 372.2 540.8 372.0 541.3 370.6 541.9 368.1 542.4 364.8 542.9 361.6 543.5 359.0 544.0 357.4 544.5 357.0 545.1 357.4 545.6 357.9 546.1 358.2 546.7 357.7 547.2 356.5 547.7 354.9 548.3 353.4 548.8 352.6 549.4 352.8 549.9 354.2 550.4 356.5 551.0 359.0 551.5 361.4 552.0 362.9 552.6 363.6 553.1 363.5 553.6 363.1 554.2 362.7 555.2 363.3 555.8 364.2 556.3 365.2 556.8 365.9 557.4 366.1 557.9 365.8 558.4 365.1 558.9 364.3 559.5 363.7 560.0 363.5 560.5 363.7 561.1 364.2 561.6 364.8 562.1 365.3 562.7 365.7 563.2 366.0 563.7 366.6 564.3 367.4 564.8 368.6 565.3 370.0 565.8 371.5 566.4 372.8 566.9 373.5 568.0 373.1 568.5 372.4 569.0 372.0 570.1 372.7 570.6 373.7 571.1 374.8" fill="none" stroke="#f2f9ff" stroke-width="1.1" stroke-linejoin="round"/><path d="M309.1 372.2 310.2 372.2 311.2 372.2 312.3 372.2 313.3 372.2 314.4 372.3 315.4 372.3 316.5 372.3 317.5 372.3 318.6 372.3 319.6 372.3 320.7 372.3 321.7 372.3 322.8 372.3 323.8 372.3 324.9 372.3 325.9 372.3 327.0 372.3 328.0 372.3 329.1 372.3 330.1 372.3 331.2 372.3 332.3 372.3 333.3 372.3 334.4 372.3 335.4 372.3 336.5 372.3 337.5 372.3 338.6 372.3 339.6 372.4 340.7 372.4 341.7 372.4 342.8 372.4 343.8 372.4 344.9 372.4 345.9 372.4 347.0 372.4 348.0 372.4 349.1 372.4 350.1 372.4 351.2 372.5 352.2 372.5 353.3 372.5 354.4 372.6 355.5 372.6 356.1 372.7 356.6 372.8 357.1 372.8 357.7 372.9 358.2 373.0 358.8 373.1 359.3 373.1 359.9 373.2 360.4 373.3 361.0 373.4 361.5 373.5 362.0 373.6 362.6 373.7 363.1 373.8 363.7 374.0 364.2 374.1 364.7 374.3 365.3 374.4 365.8 374.6 366.3 374.8 366.9 375.0 367.4 375.2 367.9 375.4 368.5 375.6 369.0 375.8 369.6 376.1 370.2 376.3 370.7 376.6 371.3 376.9 371.9 377.2 372.4 377.6 373.0 377.9 373.6 378.3 374.1 378.7 374.7 379.1 375.3 379.5 375.8 379.9 376.4 380.4 376.9 381.0 377.5 381.6 378.1 382.3 378.6 383.1 379.2 383.8 379.7 384.4 380.3 385.0 380.8 385.4 381.4 385.7 381.9 385.8 382.7 329.1 383.5 272.4 383.3 269.8 383.2 266.0 383.8 272.4 384.5 276.3 385.1 280.1 385.6 283.6 386.2 286.8 386.7 289.8 387.2 292.5 387.8 295.1 388.3 297.7 388.8 300.1 389.4 302.7 389.9 305.3 390.4 308.0 391.0 311.0 391.5 314.2 392.0 317.8 392.6 321.7 393.1 326.1 393.6 331.0 394.2 336.5 394.7 342.5 395.2 355.6 395.8 367.1 396.3 370.2 396.9 372.6 397.4 374.6 398.0 376.2 398.5 377.5 399.1 378.5 399.6 379.4 400.2 380.3 400.7 381.2 401.3 382.2 401.8 383.4 402.4 384.9 402.9 386.8 403.4 389.1 404.0 391.7 404.5 394.6 405.0 397.8 405.5 401.3 406.1 404.8 406.6 408.5 407.1 412.3 407.6 416.0 408.2 419.6 408.7 423.2 409.2 426.5 409.8 430.9 410.4 435.8 411.0 439.7 411.6 441.4 412.3 431.9 412.9 413.6 413.6 401.4 414.1 398.1 414.7 395.3 415.2 392.7 415.7 390.4 416.3 388.3 416.8 386.7 417.4 385.7 417.9 385.4 418.5 385.7 419.0 386.3 419.5 386.6 420.1 386.4 420.6 385.5 421.2 384.0 421.7 382.2 422.2 380.6 422.8 379.8 423.9 380.4 424.4 381.1 424.9 381.6 426.0 381.0 426.5 380.0 427.1 379.0 427.6 378.3 428.1 377.9 429.2 378.0 430.3 377.7 430.8 377.1 431.3 376.3 431.9 375.5 432.4 374.9 432.9 374.7 433.5 374.8 434.0 375.0 434.5 374.8 435.1 374.1 435.6 372.6 436.1 370.6 436.7 368.4 437.2 366.5 437.7 365.2 438.3 364.8 438.8 365.2 439.3 366.0 439.9 366.8 440.4 367.0 440.9 366.5 441.5 365.3 442.0 363.8 442.6 362.3 443.1 361.4 444.2 362.3 444.7 363.8 445.3 365.3 445.9 366.4 446.4 366.8 447.0 366.4 447.6 365.5 448.1 364.5 448.7 363.7 449.3 363.4 450.4 363.5 451.0 363.4 451.5 363.0 452.1 362.5 452.6 361.9 453.2 361.7 453.7 361.9 454.3 362.6 454.8 363.7 455.4 364.6 455.9 365.3 456.5 365.4 457.0 365.1 457.6 364.8 458.7 365.4 459.2 366.9 459.7 369.0 460.3 371.3 460.8 373.5 461.3 374.9 461.9 375.4 462.4 375.0 462.9 374.2 463.5 373.3 464.0 372.9 464.5 373.2 465.1 374.2 465.6 375.7 466.1 377.1 466.7 378.2 467.2 378.5 467.7 378.1 468.3 377.2 468.8 376.3 469.3 375.7 470.4 376.2 470.9 377.2 471.5 378.4 472.0 379.4 472.5 380.2 473.1 380.8 473.6 381.2 474.1 381.8 474.7 382.7 475.2 383.8 475.8 384.9 476.3 385.8 476.8 386.2 477.3 386.0 477.9 385.4 478.4 384.5 478.9 383.6 479.4 383.2 480.0 383.3 480.5 383.9 481.0 384.6 481.5 385.2 482.1 385.1 482.6 384.2 483.1 382.5 483.6 380.2 484.1 378.0 484.7 376.3 485.2 375.1 485.8 374.7 486.3 374.8 486.9 375.0 487.4 374.8 488.0 373.9 488.5 372.3 489.1 370.2 489.6 368.0 490.2 366.3 490.7 365.4 491.8 366.2 492.4 367.1 492.9 367.9 493.4 368.2 494.0 368.0 494.5 367.6 495.0 367.1 495.6 366.8 496.1 366.7 497.2 366.6 497.7 366.1 498.2 365.3 498.8 364.1 499.3 362.8 499.8 361.8 500.4 361.3 500.9 361.6 501.4 362.4 502.0 363.5 502.5 364.4 503.1 364.8 503.6 364.5 504.2 363.5 504.7 362.3 505.2 361.3 505.8 361.0 506.3 361.7 506.9 363.1 507.4 365.0 508.0 366.7 508.5 367.8 509.1 367.9 509.6 367.1 510.1 365.8 510.7 364.3 511.2 363.2 511.8 362.8 512.3 363.1 512.8 363.9 513.4 364.8 513.9 365.5 514.4 365.9 515.5 365.8 516.6 366.1 517.1 366.8 517.6 367.7 518.2 368.7 518.7 369.5 519.2 370.0 519.8 370.1 520.8 370.3 521.4 370.6 521.9 371.4 522.4 372.3 522.9 373.1 523.5 373.4 524.0 373.0 524.5 371.7 525.0 369.7 525.6 367.4 526.1 365.2 526.6 363.6 527.1 362.8 528.2 363.4 528.7 364.1 529.2 364.5 529.7 364.3 530.3 363.5 530.8 362.4 531.3 361.2 531.8 360.5 532.4 360.6 532.9 361.6 533.4 363.2 533.9 365.2 534.5 367.2 535.0 368.8 535.5 369.8 536.0 370.4 536.6 370.6 537.1 370.8 537.6 371.0 538.1 371.4 538.7 371.7 539.7 371.3 540.3 370.4 540.8 369.0 541.3 367.4 541.9 365.9 542.4 364.6 542.9 363.8 543.5 363.2 544.0 362.6 544.5 361.6 545.1 360.2 545.6 358.2 546.1 356.1 546.7 354.2 547.2 353.0 547.7 352.9 548.3 353.7 548.8 355.4 549.4 357.3 549.9 359.1 550.4 360.2 551.0 360.6 551.5 360.3 552.0 359.8 552.6 359.4 553.1 359.7 553.6 360.7 554.2 362.4 554.7 364.4 555.2 366.2 555.8 367.4 556.3 368.0 556.8 367.8 557.4 367.1 557.9 366.4 558.4 365.9 558.9 365.8 559.5 365.9 560.0 366.2 560.5 366.4 561.6 366.1 562.1 365.8 562.7 365.7 563.2 365.9 563.7 366.6 564.3 367.7 564.8 368.9 565.3 370.0 565.8 370.6 566.9 370.3 567.4 369.9 568.5 370.5 569.0 371.8 569.6 373.7 570.1 375.7 570.6 377.4 571.1 378.3" fill="none" stroke="#a9d9f2" stroke-width="1.1" stroke-linejoin="round"/><path d="M309.1 372.2 310.2 372.2 311.2 372.2 312.3 372.2 313.3 372.2 314.4 372.3 315.4 372.3 316.5 372.3 317.5 372.3 318.6 372.3 319.6 372.3 320.7 372.3 321.7 372.3 322.8 372.3 323.8 372.3 324.9 372.3 325.9 372.3 327.0 372.3 328.0 372.3 329.1 372.3 330.1 372.3 331.2 372.3 332.3 372.3 333.3 372.3 334.4 372.3 335.4 372.3 336.5 372.3 337.5 372.3 338.6 372.3 339.6 372.4 340.7 372.4 341.7 372.4 342.8 372.4 343.8 372.4 344.9 372.4 345.9 372.4 347.0 372.4 348.0 372.4 349.1 372.4 350.1 372.4 351.2 372.5 352.2 372.5 353.3 372.5 354.4 372.6 355.5 372.6 356.1 372.7 356.6 372.8 357.1 372.8 357.7 372.9 358.2 373.0 358.8 373.1 359.3 373.1 359.9 373.2 360.4 373.3 361.0 373.4 361.5 373.5 362.0 373.6 362.6 373.7 363.1 373.8 363.7 374.0 364.2 374.1 364.7 374.3 365.3 374.4 365.8 374.6 366.3 374.8 366.9 375.0 367.4 375.2 367.9 375.4 368.5 375.6 369.0 375.8 369.6 376.1 370.2 376.3 370.7 376.6 371.3 376.9 371.9 377.2 372.4 377.6 373.0 377.9 373.6 378.3 374.1 378.7 374.7 379.1 375.3 379.5 375.8 379.9 376.4 380.4 376.9 381.0 377.5 381.6 378.1 382.3 378.6 383.1 379.2 383.8 379.7 384.4 380.3 385.0 380.8 385.4 381.4 385.7 381.9 385.8 382.5 355.1 383.1 298.0 383.7 267.3 383.4 266.8 383.2 266.0 383.8 269.4 384.5 274.8 385.1 280.1 385.6 283.6 386.2 286.8 386.7 289.8 387.2 292.5 387.8 295.1 388.3 297.7 388.8 300.1 389.4 302.7 389.9 305.3 390.4 308.0 391.0 311.0 391.5 314.2 392.0 317.8 392.6 321.7 393.1 326.1 393.6 331.0 394.2 336.5 394.7 342.5 395.2 355.6 395.8 367.1 396.3 370.2 396.9 372.6 397.4 374.6 398.0 376.2 398.5 377.5 399.1 378.5 399.6 379.4 400.2 380.3 400.7 381.2 401.3 382.2 401.8 383.4 402.4 384.9 402.9 386.8 403.4 389.1 404.0 391.7 404.5 394.6 405.0 397.8 405.5 401.3 406.1 404.8 406.6 408.5 407.1 412.3 407.6 416.0 408.2 419.6 408.7 423.2 409.2 426.5 409.8 430.9 410.4 435.8 411.0 439.7 411.6 441.4 412.3 431.9 412.9 413.6 413.6 401.4 414.1 398.0 414.7 395.1 415.2 392.5 415.7 390.3 416.3 388.5 416.8 387.2 417.4 386.3 417.9 385.8 418.5 385.6 419.0 385.3 419.5 384.8 420.1 384.3 420.6 383.9 421.2 383.8 421.7 384.1 422.2 384.7 422.8 385.2 423.3 385.3 423.9 384.7 424.4 383.5 424.9 381.9 425.5 380.2 426.0 378.8 426.5 378.1 427.1 378.0 427.6 378.4 428.1 379.0 428.7 379.4 429.7 378.7 430.3 377.8 430.8 376.7 431.3 375.7 431.9 375.1 432.4 374.8 433.5 374.8 434.0 374.5 434.5 374.0 435.1 373.1 435.6 372.1 436.1 371.3 436.7 370.8 437.7 371.0 438.3 371.3 438.8 371.1 439.3 370.4 439.9 369.1 440.4 367.3 440.9 365.3 441.5 363.7 442.0 362.6 442.6 362.3 443.1 362.7 443.6 363.5 444.2 364.3 444.7 364.7 445.3 364.5 445.9 363.9 446.4 363.1 447.0 362.6 447.6 362.4 448.1 362.6 448.7 363.2 449.3 363.8 449.8 364.1 451.0 363.8 451.5 363.6 452.1 363.8 452.6 364.6 453.2 365.7 453.7 367.1 454.3 368.3 454.8 368.9 455.9 368.2 456.5 367.2 457.0 366.4 457.6 366.0 458.1 366.2 458.7 367.2 459.2 368.4 459.7 369.8 460.3 370.8 460.8 371.3 461.9 371.1 462.4 370.8 462.9 370.9 463.5 371.4 464.0 372.3 464.5 373.5 465.1 374.5 465.6 375.4 466.1 375.9 466.7 376.3 467.2 376.7 467.7 377.3 468.3 378.4 468.8 379.9 469.3 381.5 469.9 382.9 470.4 383.9 470.9 384.2 471.5 383.8 472.0 383.0 472.5 382.2 473.1 381.7 473.6 381.8 474.1 382.5 474.7 383.5 475.2 384.6 475.8 385.3 476.3 385.4 476.8 384.9 477.3 384.0 477.9 382.9 478.4 382.0 478.9 381.5 479.4 381.4 480.0 381.6 480.5 381.9 481.0 382.0 481.5 381.9 482.1 381.6 482.6 381.1 483.1 380.9 484.1 381.3 484.7 382.1 485.2 382.7 486.3 381.8 486.9 380.0 487.4 377.6 488.0 374.8 488.5 372.3 489.1 370.4 489.6 369.3 490.2 368.9 491.3 368.9 491.8 368.7 492.4 368.1 492.9 367.0 493.4 365.7 494.0 364.6 494.5 363.8 495.0 363.6 495.6 363.7 496.1 363.9 496.6 364.2 497.7 363.9 498.2 363.7 498.8 363.5 499.3 363.8 499.8 364.5 500.4 365.5 500.9 366.6 501.4 367.5 502.0 367.7 502.5 367.4 503.1 366.5 503.6 365.4 504.2 364.6 504.7 364.2 505.2 364.5 505.8 365.4 506.3 366.4 506.9 367.3 507.4 367.5 508.0 367.1 508.5 366.1 509.1 364.9 509.6 363.6 510.1 362.8 510.7 362.4 511.8 362.6 512.3 363.0 512.8 363.2 513.4 363.3 513.9 363.5 514.4 363.8 515.0 364.6 515.5 365.8 516.0 367.5 516.6 369.2 517.1 370.8 517.6 371.8 518.2 372.2 518.7 372.1 519.2 371.7 519.8 371.4 520.3 371.5 520.8 372.1 521.4 373.1 521.9 374.1 522.4 374.8 522.9 374.9 523.5 374.2 524.0 372.8 524.5 370.9 525.0 368.9 525.6 367.0 526.1 365.6 526.6 364.6 527.1 363.9 527.6 363.4 528.2 362.9 528.7 362.3 529.2 361.6 529.7 361.2 530.3 361.1 530.8 361.5 531.3 362.4 531.8 363.8 532.4 365.3 532.9 366.6 533.4 367.5 533.9 367.9 535.0 367.8 535.5 368.0 536.0 368.6 536.6 369.7 537.1 371.2 537.6 372.8 538.1 374.1 538.7 374.6 539.2 374.2 539.7 373.0 540.3 371.3 540.8 369.3 541.3 367.6 541.9 366.1 542.4 365.0 542.9 364.1 543.5 363.2 544.0 362.1 544.5 360.8 545.1 359.3 545.6 357.9 546.1 357.0 546.7 356.6 547.2 356.8 547.7 357.4 548.3 358.0 548.8 358.4 549.4 358.3 549.9 357.8 550.4 357.3 551.0 356.9 551.5 357.2 552.0 358.1 552.6 359.7 553.1 361.8 553.6 363.9 554.2 365.6 554.7 366.6 555.2 367.0 555.8 366.8 556.3 366.4 556.8 366.1 557.9 366.6 558.4 367.4 558.9 368.1 559.5 368.6 560.0 368.8 560.5 368.7 561.1 368.4 561.6 368.1 562.7 368.5 563.2 369.2 563.7 369.8 564.3 370.2 565.3 369.7 565.8 369.0 566.4 368.2 566.9 367.9 567.4 368.1 568.0 369.2 568.5 370.8 569.0 372.6 569.6 374.3 570.1 375.5 570.6 376.0 571.1 376.0" fill="none" stroke="#5aa6de" stroke-width="1.1" stroke-linejoin="round"/><path d="M309.1 372.2 310.2 372.2 311.2 372.2 312.3 372.2 313.3 372.2 314.4 372.3 315.4 372.3 316.5 372.3 317.5 372.3 318.6 372.3 319.6 372.3 320.7 372.3 321.7 372.3 322.8 372.3 323.8 372.3 324.9 372.3 325.9 372.3 327.0 372.3 328.0 372.3 329.1 372.3 330.1 372.3 331.2 372.3 332.3 372.3 333.3 372.3 334.4 372.3 335.4 372.3 336.5 372.3 337.5 372.3 338.6 372.3 339.6 372.4 340.7 372.4 341.7 372.4 342.8 372.4 343.8 372.4 344.9 372.4 345.9 372.4 347.0 372.4 348.0 372.4 349.1 372.4 350.1 372.4 351.2 372.5 352.2 372.5 353.3 372.5 354.4 372.6 355.5 372.6 356.1 372.7 356.6 372.8 357.1 372.8 357.7 372.9 358.2 373.0 358.8 373.1 359.3 373.1 359.9 373.2 360.4 373.3 361.0 373.4 361.5 373.5 362.0 373.6 362.6 373.7 363.1 373.8 363.7 374.0 364.2 374.1 364.7 374.3 365.3 374.4 365.8 374.6 366.3 374.8 366.9 375.0 367.4 375.2 367.9 375.4 368.5 375.6 369.0 375.8 369.6 376.1 370.2 376.3 370.7 376.6 371.3 376.9 371.9 377.2 372.4 377.6 373.0 377.9 373.6 378.3 374.1 378.7 374.7 379.1 375.3 379.5 375.8 379.9 376.4 380.4 376.9 381.0 377.5 381.6 378.1 382.3 378.6 383.1 379.2 383.8 379.7 384.4 380.3 385.0 380.8 385.4 381.4 385.7 381.9 385.8 382.6 327.2 383.3 268.5 383.3 267.5 383.2 266.0 383.8 271.8 384.5 276.0 385.1 280.1 385.6 283.6 386.2 286.8 386.7 289.8 387.2 292.5 387.8 295.1 388.3 297.7 388.8 300.1 389.4 302.7 389.9 305.3 390.4 308.0 391.0 311.0 391.5 314.2 392.0 317.8 392.6 321.7 393.1 326.1 393.6 331.0 394.2 336.5 394.7 342.5 395.2 355.6 395.8 367.1 396.3 370.2 396.9 372.6 397.4 374.6 398.0 376.2 398.5 377.5 399.1 378.5 399.6 379.4 400.2 380.3 400.7 381.2 401.3 382.2 401.8 383.4 402.4 384.9 402.9 386.8 403.4 389.1 404.0 391.7 404.5 394.6 405.0 397.8 405.5 401.3 406.1 404.8 406.6 408.5 407.1 412.3 407.6 416.0 408.2 419.6 408.7 423.2 409.2 426.5 409.8 430.9 410.4 435.8 411.0 439.7 411.6 441.4 412.3 431.9 412.9 413.6 413.6 401.4 414.1 398.0 414.7 394.8 415.2 392.2 415.7 390.1 416.3 388.6 416.8 387.5 417.4 386.7 417.9 386.1 418.5 385.7 419.0 385.4 419.5 385.0 420.1 384.7 421.2 384.8 421.7 385.1 422.2 385.3 422.8 385.1 423.3 384.6 423.9 384.0 424.4 383.5 424.9 383.1 425.5 383.1 426.0 383.2 426.5 383.3 427.1 383.2 427.6 382.6 428.1 381.5 428.7 379.9 429.2 378.2 429.7 376.6 430.3 375.4 430.8 374.7 431.3 374.6 431.9 374.8 432.4 375.0 433.5 374.8 434.0 374.3 434.5 373.6 435.1 373.1 435.6 372.7 436.1 372.7 436.7 372.8 437.7 372.6 438.3 372.0 438.8 371.0 439.3 369.8 439.9 368.6 440.4 367.6 440.9 367.2 442.0 367.6 442.6 368.1 443.1 368.3 443.6 368.1 444.2 367.3 444.7 366.2 445.3 365.0 445.9 364.0 446.4 363.4 447.0 363.2 448.1 363.2 448.7 362.9 449.3 362.5 449.8 361.9 450.4 361.4 451.5 362.0 452.1 363.1 452.6 364.5 453.2 365.9 453.7 367.0 454.3 367.6 454.8 367.7 455.4 367.6 455.9 367.5 456.5 367.8 457.0 368.5 457.6 369.5 458.1 370.7 458.7 371.8 459.2 372.5 459.7 373.0 460.3 373.1 461.3 373.3 461.9 373.8 462.4 374.5 462.9 375.4 463.5 376.1 464.0 376.5 465.1 376.0 465.6 375.3 466.1 374.7 466.7 374.5 467.2 374.7 467.7 375.6 468.3 376.8 468.8 378.1 469.3 379.3 469.9 380.2 470.4 380.7 470.9 381.0 471.5 381.2 472.0 381.6 472.5 382.3 473.1 383.3 473.6 384.3 474.1 385.2 474.7 385.7 475.2 385.8 475.8 385.5 476.3 385.1 476.8 384.9 477.3 385.0 477.9 385.4 478.4 386.2 478.9 387.1 479.4 387.7 480.0 387.9 480.5 387.5 481.0 386.6 481.5 385.3 482.1 384.1 482.6 383.1 483.1 382.4 483.6 382.1 484.1 381.9 484.7 381.6 485.2 381.0 485.8 379.7 486.3 378.0 486.9 376.2 487.4 374.4 488.0 373.0 488.5 372.1 489.1 371.3 489.6 370.7 490.2 369.8 490.7 368.7 491.3 367.5 491.8 366.3 492.4 365.5 492.9 365.0 494.0 365.5 494.5 366.4 495.0 367.3 495.6 368.0 496.1 368.3 497.2 368.0 497.7 367.8 498.8 368.0 499.3 368.4 499.8 368.7 500.4 368.8 500.9 368.5 501.4 367.8 502.0 366.7 502.5 365.6 503.1 364.8 503.6 364.4 504.2 364.5 504.7 365.1 505.2 365.7 505.8 366.1 506.9 365.7 507.4 364.9 508.0 364.0 508.5 363.4 509.1 363.1 509.6 363.1 510.1 363.4 510.7 363.8 511.2 364.0 512.3 363.9 513.4 364.2 513.9 365.1 514.4 366.4 515.0 368.2 515.5 370.0 516.0 371.7 516.6 372.8 517.1 373.4 517.6 373.5 518.2 373.3 518.7 373.1 519.8 373.5 520.3 374.0 520.8 374.5 521.4 374.8 521.9 374.6 522.4 373.9 522.9 372.8 523.5 371.5 524.0 370.3 524.5 369.3 525.0 368.6 525.6 368.1 526.1 367.5 526.6 366.8 527.1 365.7 527.6 364.4 528.2 362.9 528.7 361.6 529.2 360.8 529.7 360.6 530.3 361.2 530.8 362.4 531.3 363.9 531.8 365.4 532.4 366.8 532.9 367.7 533.4 368.4 533.9 369.0 534.5 369.6 535.0 370.4 535.5 371.4 536.0 372.5 536.6 373.4 537.1 374.0 538.1 373.5 538.7 372.6 539.2 371.4 539.7 370.4 540.3 369.7 540.8 369.4 541.3 369.2 541.9 368.9 542.4 368.3 542.9 367.1 543.5 365.5 544.0 363.6 544.5 361.6 545.1 359.9 545.6 358.7 546.1 358.0 546.7 357.8 547.2 357.9 547.7 358.0 548.8 357.8 549.4 357.6 550.4 358.1 551.0 359.0 551.5 360.3 552.0 361.8 552.6 363.1 553.1 364.0 553.6 364.4 554.7 364.2 555.2 364.0 555.8 364.3 556.3 364.9 556.8 366.0 557.4 367.2 557.9 368.3 558.4 369.2 558.9 369.7 559.5 369.9 560.5 369.9 561.1 370.2 561.6 370.6 562.1 371.3 562.7 371.9 563.2 372.2 563.7 372.1 564.3 371.5 564.8 370.8 565.3 370.0 565.8 369.6 566.9 370.3 567.4 371.2 568.0 372.4 568.5 373.3 569.0 373.9 569.6 374.1 570.1 374.0 570.6 373.7 571.1 373.6" fill="none" stroke="#3b6cc2" stroke-width="1.1" stroke-linejoin="round"/><path d="M309.1 372.2 310.2 372.2 311.2 372.2 312.3 372.2 313.3 372.2 314.4 372.3 315.4 372.3 316.5 372.3 317.5 372.3 318.6 372.3 319.6 372.3 320.7 372.3 321.7 372.3 322.8 372.3 323.8 372.3 324.9 372.3 325.9 372.3 327.0 372.3 328.0 372.3 329.1 372.3 330.1 372.3 331.2 372.3 332.3 372.3 333.3 372.3 334.4 372.3 335.4 372.3 336.5 372.3 337.5 372.3 338.6 372.3 339.6 372.4 340.7 372.4 341.7 372.4 342.8 372.4 343.8 372.4 344.9 372.4 345.9 372.4 347.0 372.4 348.0 372.4 349.1 372.4 350.1 372.4 351.2 372.5 352.2 372.5 353.3 372.5 354.4 372.6 355.5 372.6 356.1 372.7 356.6 372.8 357.1 372.8 357.7 372.9 358.2 373.0 358.8 373.1 359.3 373.1 359.9 373.2 360.4 373.3 361.0 373.4 361.5 373.5 362.0 373.6 362.6 373.7 363.1 373.8 363.7 374.0 364.2 374.1 364.7 374.3 365.3 374.4 365.8 374.6 366.3 374.8 366.9 375.0 367.4 375.2 367.9 375.4 368.5 375.6 369.0 375.8 369.6 376.1 370.2 376.3 370.7 376.6 371.3 376.9 371.9 377.2 372.4 377.6 373.0 377.9 373.6 378.3 374.1 378.7 374.7 379.1 375.3 379.5 375.8 379.9 376.4 380.4 376.9 381.0 377.5 381.6 378.1 382.3 378.6 383.1 379.2 383.8 379.7 384.4 380.3 385.0 380.8 385.4 381.4 385.7 381.9 385.8 382.5 332.0 383.0 269.8 383.1 267.2 383.2 266.0 383.8 268.6 384.5 274.4 385.1 280.1 385.6 283.6 386.2 286.8 386.7 289.8 387.2 292.5 387.8 295.1 388.3 297.7 388.8 300.1 389.4 302.7 389.9 305.3 390.4 308.0 391.0 311.0 391.5 314.2 392.0 317.8 392.6 321.7 393.1 326.1 393.6 331.0 394.2 336.5 394.7 342.5 395.2 355.6 395.8 367.1 396.3 370.2 396.9 372.6 397.4 374.6 398.0 376.2 398.5 377.5 399.1 378.5 399.6 379.4 400.2 380.3 400.7 381.2 401.3 382.2 401.8 383.4 402.4 384.9 402.9 386.8 403.4 389.1 404.0 391.7 404.5 394.6 405.0 397.8 405.5 401.3 406.1 404.8 406.6 408.5 407.1 412.3 407.6 416.0 408.2 419.6 408.7 423.2 409.2 426.5 409.8 430.9 410.4 435.8 411.0 439.7 411.6 441.4 412.3 431.9 412.9 413.6 413.6 401.4 414.1 398.0 414.7 394.9 415.2 392.3 415.7 390.0 416.3 388.2 416.8 386.7 417.4 385.6 417.9 384.8 418.5 384.6 419.0 384.8 419.5 385.3 420.1 385.9 420.6 386.6 421.2 387.0 421.7 387.1 422.2 386.8 422.8 386.2 423.3 385.6 423.9 385.1 424.4 384.9 425.5 384.9 426.0 384.7 426.5 384.2 427.1 383.4 427.6 382.3 428.1 381.1 428.7 380.1 429.2 379.3 429.7 378.9 430.3 378.7 430.8 378.5 431.3 378.1 431.9 377.4 432.4 376.4 432.9 375.2 433.5 374.0 434.0 373.0 434.5 372.4 435.1 372.1 435.6 372.0 436.7 371.8 437.2 371.5 437.7 370.9 438.3 370.2 438.8 369.6 439.3 369.3 440.4 369.5 440.9 370.0 441.5 370.3 442.0 370.4 442.6 370.1 443.1 369.5 443.6 368.7 444.2 367.8 444.7 367.1 445.3 366.7 445.9 366.6 447.0 366.5 447.6 366.2 448.1 365.6 448.7 364.8 449.3 364.2 449.8 363.8 450.4 363.9 451.0 364.3 451.5 365.0 452.1 365.6 452.6 366.0 453.2 366.2 453.7 366.0 454.3 365.9 455.4 366.1 455.9 366.7 456.5 367.6 457.0 368.5 457.6 369.3 458.1 369.8 458.7 370.1 459.2 370.2 459.7 370.5 460.3 371.0 460.8 371.9 461.3 373.1 461.9 374.4 462.4 375.7 462.9 376.7 463.5 377.3 464.0 377.6 465.1 377.6 465.6 377.8 466.1 378.2 466.7 378.9 467.2 379.7 467.7 380.4 468.3 380.9 468.8 381.2 469.3 381.3 470.4 381.6 470.9 382.1 471.5 382.9 472.0 384.0 472.5 385.1 473.1 386.0 473.6 386.5 474.1 386.6 474.7 386.3 475.2 385.8 475.8 385.4 476.3 385.0 476.8 384.9 477.3 385.0 477.9 385.2 478.9 384.9 479.4 384.4 480.0 383.8 480.5 383.1 481.0 382.7 481.5 382.7 482.1 382.9 482.6 383.4 483.1 383.9 483.6 384.2 484.7 383.7 485.2 382.8 485.8 381.6 486.3 380.2 486.9 378.8 487.4 377.7 488.0 376.6 488.5 375.4 489.1 374.1 489.6 372.7 490.2 371.1 490.7 369.7 491.3 368.7 491.8 368.3 492.4 368.5 492.9 369.0 493.4 369.5 494.0 369.9 494.5 370.0 495.0 369.7 495.6 369.1 496.1 368.3 496.6 367.6 497.2 367.2 497.7 367.0 498.8 367.1 499.8 366.8 500.4 366.3 500.9 365.6 501.4 365.0 502.0 364.6 503.1 365.1 503.6 365.7 504.2 366.3 504.7 366.7 505.2 366.8 505.8 366.5 506.3 366.1 506.9 365.6 507.4 365.3 508.5 365.7 509.1 366.1 509.6 366.4 510.1 366.5 510.7 366.3 511.2 365.9 511.8 365.6 512.8 366.1 513.4 367.1 513.9 368.3 514.4 369.7 515.0 370.9 515.5 371.9 516.0 372.5 516.6 372.7 517.1 372.9 517.6 373.0 518.2 373.4 518.7 373.9 519.2 374.5 519.8 375.0 520.3 375.1 520.8 374.9 521.4 374.2 521.9 373.2 522.4 372.1 522.9 371.1 523.5 370.3 524.0 369.9 524.5 369.6 525.0 369.3 525.6 368.8 526.1 368.0 526.6 367.0 527.1 365.8 527.6 364.8 528.2 364.0 528.7 363.6 529.2 363.7 529.7 364.2 530.3 364.9 530.8 365.5 531.3 365.9 531.8 366.3 532.4 366.6 532.9 367.0 533.4 367.8 533.9 368.8 534.5 370.2 535.0 371.8 535.5 373.2 536.0 374.4 536.6 375.0 537.1 375.2 537.6 375.0 538.1 374.4 538.7 373.8 539.2 373.2 539.7 372.7 540.3 372.1 540.8 371.3 541.3 370.2 541.9 368.8 542.4 367.0 542.9 365.2 543.5 363.5 544.0 362.2 544.5 361.3 545.1 360.9 545.6 360.7 546.7 360.6 547.2 360.4 547.7 360.0 548.3 359.6 548.8 359.3 549.9 359.7 550.4 360.3 551.0 361.1 551.5 361.7 552.0 362.1 552.6 362.3 553.6 362.4 554.2 362.7 554.7 363.3 555.2 364.3 555.8 365.6 556.3 366.9 556.8 368.0 557.4 368.7 557.9 369.2 558.4 369.3 558.9 369.4 559.5 369.6 560.0 370.0 560.5 370.6 561.1 371.3 561.6 371.9 562.1 372.4 562.7 372.5 563.2 372.3 563.7 372.0 564.3 371.7 565.3 372.0 565.8 372.7 566.4 373.5 566.9 374.4 567.4 375.0 568.0 375.3 569.0 375.1 569.6 374.9 570.6 375.1 571.1 375.5" fill="none" stroke="#2b3a98" stroke-width="1.1" stroke-linejoin="round"/><path d="M309.1 372.2 310.2 372.2 311.2 372.2 312.3 372.2 313.3 372.2 314.4 372.3 315.4 372.3 316.5 372.3 317.5 372.3 318.6 372.3 319.6 372.3 320.7 372.3 321.7 372.3 322.8 372.3 323.8 372.3 324.9 372.3 325.9 372.3 327.0 372.3 328.0 372.3 329.1 372.3 330.1 372.3 331.2 372.3 332.3 372.3 333.3 372.3 334.4 372.3 335.4 372.3 336.5 372.3 337.5 372.3 338.6 372.3 339.6 372.4 340.7 372.4 341.7 372.4 342.8 372.4 343.8 372.4 344.9 372.4 345.9 372.4 347.0 372.4 348.0 372.4 349.1 372.4 350.1 372.4 351.2 372.5 352.2 372.5 353.3 372.5 354.4 372.6 355.5 372.6 356.1 372.7 356.6 372.8 357.1 372.8 357.7 372.9 358.2 373.0 358.8 373.1 359.3 373.1 359.9 373.2 360.4 373.3 361.0 373.4 361.5 373.5 362.0 373.6 362.6 373.7 363.1 373.8 363.7 374.0 364.2 374.1 364.7 374.3 365.3 374.4 365.8 374.6 366.3 374.8 366.9 375.0 367.4 375.2 367.9 375.4 368.5 375.6 369.0 375.8 369.6 376.1 370.2 376.3 370.7 376.6 371.3 376.9 371.9 377.2 372.4 377.6 373.0 377.9 373.6 378.3 374.1 378.7 374.7 379.1 375.3 379.5 375.8 379.9 376.4 380.4 376.9 381.0 377.5 381.6 378.1 382.3 378.6 383.1 379.2 383.8 379.7 384.4 380.3 385.0 380.8 385.4 381.4 385.7 381.9 385.8 382.6 385.0 382.9 325.4 383.2 266.0 383.8 268.6 384.5 274.4 385.1 280.1 385.6 283.6 386.2 286.8 386.7 289.8 387.2 292.5 387.8 295.1 388.3 297.7 388.8 300.1 389.4 302.7 389.9 305.3 390.4 308.0 391.0 311.0 391.5 314.2 392.0 317.8 392.6 321.7 393.1 326.1 393.6 331.0 394.2 336.5 394.7 342.5 395.2 355.6 395.8 367.1 396.3 370.2 396.9 372.6 397.4 374.6 398.0 376.2 398.5 377.5 399.1 378.5 399.6 379.4 400.2 380.3 400.7 381.2 401.3 382.2 401.8 383.4 402.4 384.9 402.9 386.8 403.4 389.1 404.0 391.7 404.5 394.6 405.0 397.8 405.5 401.3 406.1 404.8 406.6 408.5 407.1 412.3 407.6 416.0 408.2 419.6 408.7 423.2 409.2 426.5 409.8 430.9 410.4 435.8 411.0 439.7 411.6 441.4 412.3 436.6 412.9 425.3 413.5 411.6 414.2 399.8 414.8 394.2 415.3 393.4 415.9 392.7 416.4 392.1 416.9 391.5 417.5 391.1 418.0 390.7 418.5 390.3 419.1 390.1 419.6 389.8 420.1 389.6 420.7 389.3 421.2 389.1 421.7 388.9 422.3 388.6 422.8 388.3 423.3 388.0 423.9 387.6 424.4 387.1 424.9 386.6 425.5 386.0 426.0 385.4 426.5 384.8 427.0 384.1 427.5 383.4 428.1 382.7 428.6 382.0 429.1 381.2 429.6 380.5 430.2 379.7 430.7 378.9 431.2 378.1 431.7 377.3 432.3 376.5 432.8 375.6 433.3 374.8 433.8 374.0 434.4 373.2 434.9 372.4 435.4 371.7 435.9 370.9 436.5 370.2 437.0 369.4 437.5 368.6 438.0 367.8 438.6 366.9 439.1 365.9 439.6 365.0 440.1 364.0 440.6 363.1 441.2 362.1 441.7 361.1 442.2 360.2 442.7 359.3 443.3 358.4 443.8 357.6 444.3 356.9 444.8 356.1 445.4 355.5 445.9 354.9 446.4 354.5 446.9 354.1 447.5 353.8 448.0 353.6 449.0 353.6 449.6 353.8 450.1 354.1 450.6 354.5 451.2 354.9 451.7 355.5 452.2 356.1 452.8 356.8 453.3 357.5 453.8 358.3 454.4 359.0 454.9 359.8 455.5 360.6 456.0 361.4 456.5 362.2 457.1 362.9 457.6 363.6 458.1 364.3 458.7 364.9 459.2 365.6 459.7 366.3 460.3 367.1 460.8 367.8 461.3 368.6 461.9 369.4 462.4 370.2 463.0 371.0 463.5 371.9 464.0 372.7 464.6 373.5 465.1 374.3 465.6 375.1 466.2 375.8 466.7 376.6 467.2 377.3 467.8 378.0 468.3 378.7 468.9 379.3 469.4 379.9 469.9 380.4 470.5 380.9 471.0 381.3 471.5 381.7 472.1 382.0 472.6 382.2 473.2 382.4 473.7 382.6 474.2 382.8 474.8 383.0 475.3 383.2 475.8 383.4 476.4 383.5 476.9 383.7 477.4 383.8 478.0 384.0 478.5 384.1 479.0 384.2 479.6 384.3 480.1 384.4 481.2 384.5 482.2 384.5 482.8 384.4 483.3 383.9 483.8 383.3 484.4 382.4 484.9 381.4 485.4 380.2 486.0 378.9 486.5 377.6 487.0 376.2 487.6 374.8 488.1 373.5 488.6 372.2 489.2 371.0 489.7 370.0 490.2 369.1 490.8 368.4 491.3 368.0 491.8 367.9 492.9 367.9 494.1 367.9 495.2 367.9 496.3 368.0 497.4 368.1 498.5 368.1 499.6 368.2 500.2 368.3 500.7 368.3 501.3 368.4 501.8 368.5 502.3 368.6 502.8 368.8 503.4 369.1 503.9 369.4 504.4 369.7 504.9 370.1 505.5 370.5 506.0 370.9 506.5 371.3 507.0 371.8 507.6 372.2 508.1 372.7 508.6 373.1 509.1 373.6 509.7 374.0 510.2 374.4 510.7 374.7 511.2 375.0 511.8 375.4 512.3 375.7 512.8 376.0 513.4 376.4 513.9 376.8 514.4 377.1 515.0 377.5 515.5 377.8 516.0 378.2 516.6 378.5 517.1 378.8 517.6 379.1 518.2 379.3 518.7 379.5 519.2 379.7 519.8 379.8 520.3 379.9 521.4 379.9 521.9 379.8 522.4 379.7 523.0 379.6 523.5 379.4 524.0 379.2 524.6 378.9 525.1 378.7 525.6 378.4 526.2 378.1 526.7 377.8 527.2 377.5 527.8 377.1 528.3 376.8 528.8 376.5 529.4 376.2 529.9 375.9 530.4 375.6 531.0 375.3 531.5 375.0 532.0 374.8 532.6 374.5 533.1 374.2 533.6 373.9 534.2 373.7 534.7 373.4 535.2 373.1 535.8 372.8 536.3 372.5 536.8 372.2 537.4 371.9 537.9 371.6 538.5 371.2 539.0 370.9 539.5 370.5 540.1 370.2 540.6 369.8 541.1 369.3 541.7 368.8 542.2 368.2 542.7 367.6 543.3 367.0 543.8 366.4 544.3 365.8 544.9 365.1 545.4 364.5 545.9 364.0 546.5 363.4 547.0 363.0 547.5 362.5 548.1 362.2 548.6 361.9 549.1 361.8 550.2 361.8 550.7 361.9 551.3 362.0 551.8 362.3 552.3 362.5 552.9 362.8 553.4 363.2 553.9 363.5 554.5 363.9 555.0 364.3 555.5 364.6 556.1 365.0 556.6 365.3 557.1 365.7 557.7 366.0 558.2 366.2 558.7 366.4 559.3 366.6 559.8 366.7 560.4 366.8 560.9 366.9 561.4 367.0 562.0 367.1 562.5 367.2 563.1 367.3 563.6 367.4 564.1 367.5 564.7 367.5 565.2 367.6 565.8 367.7 566.3 367.8 566.8 367.8 567.4 367.9 567.9 368.0 568.5 368.0 569.0 368.1 569.5 368.2 570.1 368.2 570.6 368.3 571.1 368.4" fill="none" stroke="#000" stroke-width="2.6" stroke-dasharray="0.5,5.0" stroke-linecap="round"/></g><path d="M326.6,461.8v-2.6 M344.0,461.8v-2.6 M361.5,461.8v-2.6 M379.0,461.8v-2.6 M396.5,461.8v-2.6 M413.9,461.8v-2.6 M431.4,461.8v-2.6 M448.9,461.8v-2.6 M466.3,461.8v-2.6 M483.8,461.8v-2.6 M501.3,461.8v-2.6 M518.7,461.8v-2.6 M536.2,461.8v-2.6 M553.7,461.8v-2.6 M310.5,450.2h2.8 M310.5,437.3h2.8 M310.5,424.5h2.8 M310.5,411.6h2.8 M310.5,398.7h2.8 M310.5,385.9h2.8 M310.5,373.0h2.8 M310.5,360.1h2.8 M310.5,347.3h2.8 M310.5,334.4h2.8 M310.5,321.5h2.8 M310.5,308.7h2.8 M310.5,295.8h2.8 M310.5,282.9h2.8 M310.5,270.1h2.8" stroke="#a8a8a8" stroke-width="1" fill="none"/><text x="304.6" y="273.1" text-anchor="end" class="tl">4</text><text x="304.6" y="298.8" text-anchor="end" class="tl">3</text><text x="304.6" y="324.5" text-anchor="end" class="tl">2</text><text x="304.6" y="350.3" text-anchor="end" class="tl">1</text><text x="304.6" y="376.0" text-anchor="end" class="tl">0</text><text x="304.6" y="401.7" text-anchor="end" class="tl">-1</text><text x="304.6" y="427.5" text-anchor="end" class="tl">-2</text><text x="304.6" y="453.2" text-anchor="end" class="tl">-3</text><text x="310.8" y="476.2" text-anchor="middle" class="tl">0</text><text x="345.7" y="476.2" text-anchor="middle" class="tl">2</text><text x="380.7" y="476.2" text-anchor="middle" class="tl">4</text><text x="415.6" y="476.2" text-anchor="middle" class="tl">6</text><text x="450.6" y="476.2" text-anchor="middle" class="tl">8</text><text x="486.3" y="476.2" text-anchor="middle" class="tl">10</text><text x="521.2" y="476.2" text-anchor="middle" class="tl">12</text><text x="556.2" y="476.2" text-anchor="middle" class="tl">14</text><text x="442.4" y="276.8" text-anchor="middle" class="ti">Site D</text><text x="431.0" y="489.5" text-anchor="middle" class="xl">Time (minutes)</text><rect x="579.0" y="152.8" width="105.0" height="184.89999999999998" fill="#383838"/><text x="581.6" y="167.5" class="lg">5 m</text><circle cx="628.00" cy="162.9" r="1.5" fill="#000"/><circle cx="632.85" cy="162.9" r="1.5" fill="#000"/><circle cx="637.70" cy="162.9" r="1.5" fill="#000"/><circle cx="642.55" cy="162.9" r="1.5" fill="#000"/><circle cx="647.40" cy="162.9" r="1.5" fill="#000"/><circle cx="652.25" cy="162.9" r="1.5" fill="#000"/><circle cx="657.10" cy="162.9" r="1.5" fill="#000"/><text x="581.6" y="182.7" class="lg">10 m</text><line x1="627.7" y1="177.4" x2="657.2" y2="177.4" stroke="#2b3a98" stroke-width="2.8"/><text x="581.6" y="197.9" class="lg">20 m</text><line x1="627.7" y1="193.0" x2="657.2" y2="193.0" stroke="#3b6cc2" stroke-width="2.8"/><text x="581.6" y="213.1" class="lg">30 m</text><line x1="627.7" y1="208.4" x2="657.2" y2="208.4" stroke="#5aa6de" stroke-width="2.8"/><text x="581.6" y="228.3" class="lg">40 m</text><line x1="627.7" y1="224.2" x2="657.2" y2="224.2" stroke="#a9d9f2" stroke-width="2.8"/><text x="581.6" y="243.5" class="lg">50 m</text><line x1="627.7" y1="239.8" x2="657.2" y2="239.8" stroke="#f2f9ff" stroke-width="2.8"/><text x="581.6" y="258.7" class="lg">100 m</text><line x1="627.7" y1="255.6" x2="657.2" y2="255.6" stroke="#fdf5bd" stroke-width="2.8"/><text x="581.6" y="273.9" class="lg">200 m</text><line x1="627.7" y1="270.0" x2="657.2" y2="270.0" stroke="#fbd27a" stroke-width="2.8"/><text x="581.6" y="289.1" class="lg">300 m</text><line x1="627.7" y1="284.8" x2="657.2" y2="284.8" stroke="#f5a24e" stroke-width="2.8"/><text x="581.6" y="305.6" class="lg">GEBCO ~455 m</text><text x="582.0" y="320.4" class="lg2">Unsmoothed</text><line x1="651.3" y1="315.4" x2="681" y2="315.4" stroke="#e06943" stroke-width="2.8"/><text x="582.0" y="334.7" class="lg2">Smoothed</text><line x1="651.3" y1="330.1" x2="681" y2="330.1" stroke="#cd2f24" stroke-width="2.8"/><text transform="translate(11.0,112.0) rotate(-90)" text-anchor="middle" class="yl">Sea surface displacement (m)</text><text transform="translate(11.0,365.3) rotate(-90)" text-anchor="middle" class="yl">Sea surface displacement (m)</text>
</svg>
</body></html>
